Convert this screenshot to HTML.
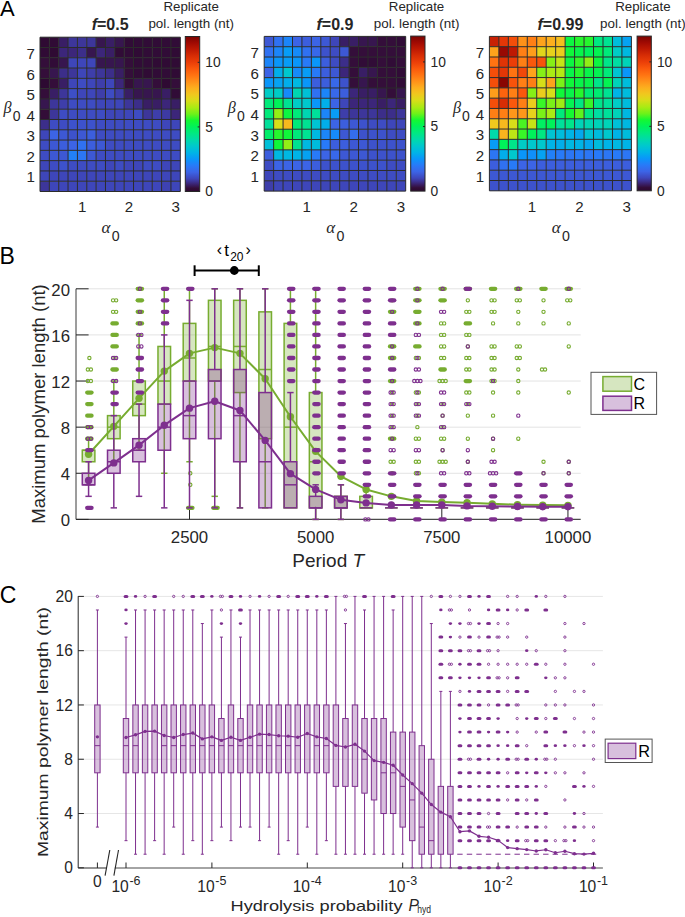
<!DOCTYPE html><html><head><meta charset="utf-8"><style>html,body{margin:0;padding:0;background:#fff;overflow:hidden}svg{display:block}</style></head><body>
<svg width="685" height="917" viewBox="0 0 685 917">
<rect x="0" y="0" width="685" height="917" fill="#fff"/>
<text x="0.00" y="15.80" font-family='"Liberation Sans", sans-serif' font-size="22" text-anchor="start" fill="#000" font-weight="normal" font-style="normal" >A</text>
<g>
<rect x="40.00" y="37.20" width="9.40" height="10.34" fill="#2f0a33"/>
<rect x="49.35" y="37.20" width="9.40" height="10.34" fill="#300b35"/>
<rect x="58.71" y="37.20" width="9.40" height="10.34" fill="#391e65"/>
<rect x="68.06" y="37.20" width="9.40" height="10.34" fill="#3d369a"/>
<rect x="77.41" y="37.20" width="9.40" height="10.34" fill="#3d369a"/>
<rect x="86.77" y="37.20" width="9.40" height="10.34" fill="#3d369a"/>
<rect x="96.12" y="37.20" width="9.40" height="10.34" fill="#37164f"/>
<rect x="105.47" y="37.20" width="9.40" height="10.34" fill="#391e65"/>
<rect x="114.83" y="37.20" width="9.40" height="10.34" fill="#37164f"/>
<rect x="124.18" y="37.20" width="9.40" height="10.34" fill="#310c37"/>
<rect x="133.53" y="37.20" width="9.40" height="10.34" fill="#310c37"/>
<rect x="142.89" y="37.20" width="9.40" height="10.34" fill="#310c37"/>
<rect x="152.24" y="37.20" width="9.40" height="10.34" fill="#310c37"/>
<rect x="161.59" y="37.20" width="9.40" height="10.34" fill="#310c37"/>
<rect x="170.95" y="37.20" width="9.40" height="10.34" fill="#310c37"/>
<rect x="40.00" y="47.49" width="9.40" height="10.34" fill="#300b35"/>
<rect x="49.35" y="47.49" width="9.40" height="10.34" fill="#2f0a33"/>
<rect x="58.71" y="47.49" width="9.40" height="10.34" fill="#3c267a"/>
<rect x="68.06" y="47.49" width="9.40" height="10.34" fill="#3c267a"/>
<rect x="77.41" y="47.49" width="9.40" height="10.34" fill="#3c2e8a"/>
<rect x="86.77" y="47.49" width="9.40" height="10.34" fill="#37164f"/>
<rect x="96.12" y="47.49" width="9.40" height="10.34" fill="#3c267a"/>
<rect x="105.47" y="47.49" width="9.40" height="10.34" fill="#391e65"/>
<rect x="114.83" y="47.49" width="9.40" height="10.34" fill="#310c37"/>
<rect x="124.18" y="47.49" width="9.40" height="10.34" fill="#310c37"/>
<rect x="133.53" y="47.49" width="9.40" height="10.34" fill="#300b35"/>
<rect x="142.89" y="47.49" width="9.40" height="10.34" fill="#310c37"/>
<rect x="152.24" y="47.49" width="9.40" height="10.34" fill="#310c37"/>
<rect x="161.59" y="47.49" width="9.40" height="10.34" fill="#310c37"/>
<rect x="170.95" y="47.49" width="9.40" height="10.34" fill="#300b35"/>
<rect x="40.00" y="57.77" width="9.40" height="10.34" fill="#340e3a"/>
<rect x="49.35" y="57.77" width="9.40" height="10.34" fill="#310c37"/>
<rect x="58.71" y="57.77" width="9.40" height="10.34" fill="#37164f"/>
<rect x="68.06" y="57.77" width="9.40" height="10.34" fill="#3e46ba"/>
<rect x="77.41" y="57.77" width="9.40" height="10.34" fill="#3e46ba"/>
<rect x="86.77" y="57.77" width="9.40" height="10.34" fill="#3e46ba"/>
<rect x="96.12" y="57.77" width="9.40" height="10.34" fill="#37164f"/>
<rect x="105.47" y="57.77" width="9.40" height="10.34" fill="#37164f"/>
<rect x="114.83" y="57.77" width="9.40" height="10.34" fill="#37164f"/>
<rect x="124.18" y="57.77" width="9.40" height="10.34" fill="#340e3a"/>
<rect x="133.53" y="57.77" width="9.40" height="10.34" fill="#310c37"/>
<rect x="142.89" y="57.77" width="9.40" height="10.34" fill="#310c37"/>
<rect x="152.24" y="57.77" width="9.40" height="10.34" fill="#300b35"/>
<rect x="161.59" y="57.77" width="9.40" height="10.34" fill="#300b35"/>
<rect x="170.95" y="57.77" width="9.40" height="10.34" fill="#300b35"/>
<rect x="40.00" y="68.06" width="9.40" height="10.34" fill="#340e3a"/>
<rect x="49.35" y="68.06" width="9.40" height="10.34" fill="#37164f"/>
<rect x="58.71" y="68.06" width="9.40" height="10.34" fill="#3c2e8a"/>
<rect x="68.06" y="68.06" width="9.40" height="10.34" fill="#3d369a"/>
<rect x="77.41" y="68.06" width="9.40" height="10.34" fill="#3e46ba"/>
<rect x="86.77" y="68.06" width="9.40" height="10.34" fill="#3e3eaa"/>
<rect x="96.12" y="68.06" width="9.40" height="10.34" fill="#3d369a"/>
<rect x="105.47" y="68.06" width="9.40" height="10.34" fill="#3c2e8a"/>
<rect x="114.83" y="68.06" width="9.40" height="10.34" fill="#391e65"/>
<rect x="124.18" y="68.06" width="9.40" height="10.34" fill="#340e3a"/>
<rect x="133.53" y="68.06" width="9.40" height="10.34" fill="#310c37"/>
<rect x="142.89" y="68.06" width="9.40" height="10.34" fill="#300b35"/>
<rect x="152.24" y="68.06" width="9.40" height="10.34" fill="#310c37"/>
<rect x="161.59" y="68.06" width="9.40" height="10.34" fill="#310c37"/>
<rect x="170.95" y="68.06" width="9.40" height="10.34" fill="#300b35"/>
<rect x="40.00" y="78.35" width="9.40" height="10.34" fill="#2d0932"/>
<rect x="49.35" y="78.35" width="9.40" height="10.34" fill="#340e3a"/>
<rect x="58.71" y="78.35" width="9.40" height="10.34" fill="#391e65"/>
<rect x="68.06" y="78.35" width="9.40" height="10.34" fill="#3e46ba"/>
<rect x="77.41" y="78.35" width="9.40" height="10.34" fill="#3e4cc3"/>
<rect x="86.77" y="78.35" width="9.40" height="10.34" fill="#3e46ba"/>
<rect x="96.12" y="78.35" width="9.40" height="10.34" fill="#3e3eaa"/>
<rect x="105.47" y="78.35" width="9.40" height="10.34" fill="#3e46ba"/>
<rect x="114.83" y="78.35" width="9.40" height="10.34" fill="#3c267a"/>
<rect x="124.18" y="78.35" width="9.40" height="10.34" fill="#340e3a"/>
<rect x="133.53" y="78.35" width="9.40" height="10.34" fill="#37164f"/>
<rect x="142.89" y="78.35" width="9.40" height="10.34" fill="#37164f"/>
<rect x="152.24" y="78.35" width="9.40" height="10.34" fill="#340e3a"/>
<rect x="161.59" y="78.35" width="9.40" height="10.34" fill="#2f0a33"/>
<rect x="170.95" y="78.35" width="9.40" height="10.34" fill="#340e3a"/>
<rect x="40.00" y="88.63" width="9.40" height="10.34" fill="#340e3a"/>
<rect x="49.35" y="88.63" width="9.40" height="10.34" fill="#391e65"/>
<rect x="58.71" y="88.63" width="9.40" height="10.34" fill="#3d369a"/>
<rect x="68.06" y="88.63" width="9.40" height="10.34" fill="#3d4fc7"/>
<rect x="77.41" y="88.63" width="9.40" height="10.34" fill="#3e46ba"/>
<rect x="86.77" y="88.63" width="9.40" height="10.34" fill="#3e46ba"/>
<rect x="96.12" y="88.63" width="9.40" height="10.34" fill="#3e3eaa"/>
<rect x="105.47" y="88.63" width="9.40" height="10.34" fill="#3e4cc3"/>
<rect x="114.83" y="88.63" width="9.40" height="10.34" fill="#3e3eaa"/>
<rect x="124.18" y="88.63" width="9.40" height="10.34" fill="#391e65"/>
<rect x="133.53" y="88.63" width="9.40" height="10.34" fill="#37164f"/>
<rect x="142.89" y="88.63" width="9.40" height="10.34" fill="#37164f"/>
<rect x="152.24" y="88.63" width="9.40" height="10.34" fill="#37164f"/>
<rect x="161.59" y="88.63" width="9.40" height="10.34" fill="#391e65"/>
<rect x="170.95" y="88.63" width="9.40" height="10.34" fill="#310c37"/>
<rect x="40.00" y="98.92" width="9.40" height="10.34" fill="#37164f"/>
<rect x="49.35" y="98.92" width="9.40" height="10.34" fill="#3d369a"/>
<rect x="58.71" y="98.92" width="9.40" height="10.34" fill="#3e3eaa"/>
<rect x="68.06" y="98.92" width="9.40" height="10.34" fill="#3e4cc3"/>
<rect x="77.41" y="98.92" width="9.40" height="10.34" fill="#3e4cc3"/>
<rect x="86.77" y="98.92" width="9.40" height="10.34" fill="#3e4cc3"/>
<rect x="96.12" y="98.92" width="9.40" height="10.34" fill="#3e46ba"/>
<rect x="105.47" y="98.92" width="9.40" height="10.34" fill="#3e46ba"/>
<rect x="114.83" y="98.92" width="9.40" height="10.34" fill="#3e46ba"/>
<rect x="124.18" y="98.92" width="9.40" height="10.34" fill="#3d369a"/>
<rect x="133.53" y="98.92" width="9.40" height="10.34" fill="#3c2e8a"/>
<rect x="142.89" y="98.92" width="9.40" height="10.34" fill="#391e65"/>
<rect x="152.24" y="98.92" width="9.40" height="10.34" fill="#391e65"/>
<rect x="161.59" y="98.92" width="9.40" height="10.34" fill="#3c267a"/>
<rect x="170.95" y="98.92" width="9.40" height="10.34" fill="#391e65"/>
<rect x="40.00" y="109.21" width="9.40" height="10.34" fill="#330d38"/>
<rect x="49.35" y="109.21" width="9.40" height="10.34" fill="#3d369a"/>
<rect x="58.71" y="109.21" width="9.40" height="10.34" fill="#3e4cc3"/>
<rect x="68.06" y="109.21" width="9.40" height="10.34" fill="#3e4cc3"/>
<rect x="77.41" y="109.21" width="9.40" height="10.34" fill="#3e4cc3"/>
<rect x="86.77" y="109.21" width="9.40" height="10.34" fill="#3e4cc3"/>
<rect x="96.12" y="109.21" width="9.40" height="10.34" fill="#3e4cc3"/>
<rect x="105.47" y="109.21" width="9.40" height="10.34" fill="#3e46ba"/>
<rect x="114.83" y="109.21" width="9.40" height="10.34" fill="#3e46ba"/>
<rect x="124.18" y="109.21" width="9.40" height="10.34" fill="#3e46ba"/>
<rect x="133.53" y="109.21" width="9.40" height="10.34" fill="#3e4cc3"/>
<rect x="142.89" y="109.21" width="9.40" height="10.34" fill="#3d369a"/>
<rect x="152.24" y="109.21" width="9.40" height="10.34" fill="#3e3eaa"/>
<rect x="161.59" y="109.21" width="9.40" height="10.34" fill="#3d3aa2"/>
<rect x="170.95" y="109.21" width="9.40" height="10.34" fill="#3c267a"/>
<rect x="40.00" y="119.49" width="9.40" height="10.34" fill="#3c2e8a"/>
<rect x="49.35" y="119.49" width="9.40" height="10.34" fill="#3e4cc3"/>
<rect x="58.71" y="119.49" width="9.40" height="10.34" fill="#3e4cc3"/>
<rect x="68.06" y="119.49" width="9.40" height="10.34" fill="#3d52cc"/>
<rect x="77.41" y="119.49" width="9.40" height="10.34" fill="#3d52cc"/>
<rect x="86.77" y="119.49" width="9.40" height="10.34" fill="#3d52cc"/>
<rect x="96.12" y="119.49" width="9.40" height="10.34" fill="#3e4cc3"/>
<rect x="105.47" y="119.49" width="9.40" height="10.34" fill="#3e4cc3"/>
<rect x="114.83" y="119.49" width="9.40" height="10.34" fill="#3e4cc3"/>
<rect x="124.18" y="119.49" width="9.40" height="10.34" fill="#3e4cc3"/>
<rect x="133.53" y="119.49" width="9.40" height="10.34" fill="#3e4cc3"/>
<rect x="142.89" y="119.49" width="9.40" height="10.34" fill="#3e4cc3"/>
<rect x="152.24" y="119.49" width="9.40" height="10.34" fill="#3e4cc3"/>
<rect x="161.59" y="119.49" width="9.40" height="10.34" fill="#3e46ba"/>
<rect x="170.95" y="119.49" width="9.40" height="10.34" fill="#3e46ba"/>
<rect x="40.00" y="129.78" width="9.40" height="10.34" fill="#3e46ba"/>
<rect x="49.35" y="129.78" width="9.40" height="10.34" fill="#3c64e6"/>
<rect x="58.71" y="129.78" width="9.40" height="10.34" fill="#3d58d4"/>
<rect x="68.06" y="129.78" width="9.40" height="10.34" fill="#3d52cc"/>
<rect x="77.41" y="129.78" width="9.40" height="10.34" fill="#3d58d4"/>
<rect x="86.77" y="129.78" width="9.40" height="10.34" fill="#3c5edd"/>
<rect x="96.12" y="129.78" width="9.40" height="10.34" fill="#3e4cc3"/>
<rect x="105.47" y="129.78" width="9.40" height="10.34" fill="#3e4cc3"/>
<rect x="114.83" y="129.78" width="9.40" height="10.34" fill="#3e4cc3"/>
<rect x="124.18" y="129.78" width="9.40" height="10.34" fill="#3e4cc3"/>
<rect x="133.53" y="129.78" width="9.40" height="10.34" fill="#3e4cc3"/>
<rect x="142.89" y="129.78" width="9.40" height="10.34" fill="#3e4cc3"/>
<rect x="152.24" y="129.78" width="9.40" height="10.34" fill="#3e4cc3"/>
<rect x="161.59" y="129.78" width="9.40" height="10.34" fill="#3e4cc3"/>
<rect x="170.95" y="129.78" width="9.40" height="10.34" fill="#3e4cc3"/>
<rect x="40.00" y="140.07" width="9.40" height="10.34" fill="#3e4cc3"/>
<rect x="49.35" y="140.07" width="9.40" height="10.34" fill="#3d58d4"/>
<rect x="58.71" y="140.07" width="9.40" height="10.34" fill="#3c5edd"/>
<rect x="68.06" y="140.07" width="9.40" height="10.34" fill="#3c64e6"/>
<rect x="77.41" y="140.07" width="9.40" height="10.34" fill="#3071f1"/>
<rect x="86.77" y="140.07" width="9.40" height="10.34" fill="#3c5edd"/>
<rect x="96.12" y="140.07" width="9.40" height="10.34" fill="#3d58d4"/>
<rect x="105.47" y="140.07" width="9.40" height="10.34" fill="#3e4cc3"/>
<rect x="114.83" y="140.07" width="9.40" height="10.34" fill="#3e4cc3"/>
<rect x="124.18" y="140.07" width="9.40" height="10.34" fill="#3e4cc3"/>
<rect x="133.53" y="140.07" width="9.40" height="10.34" fill="#3e4cc3"/>
<rect x="142.89" y="140.07" width="9.40" height="10.34" fill="#3e4cc3"/>
<rect x="152.24" y="140.07" width="9.40" height="10.34" fill="#3e4cc3"/>
<rect x="161.59" y="140.07" width="9.40" height="10.34" fill="#3e4cc3"/>
<rect x="170.95" y="140.07" width="9.40" height="10.34" fill="#3e4cc3"/>
<rect x="40.00" y="150.35" width="9.40" height="10.34" fill="#3e4cc3"/>
<rect x="49.35" y="150.35" width="9.40" height="10.34" fill="#3d58d4"/>
<rect x="58.71" y="150.35" width="9.40" height="10.34" fill="#3d58d4"/>
<rect x="68.06" y="150.35" width="9.40" height="10.34" fill="#2280f8"/>
<rect x="77.41" y="150.35" width="9.40" height="10.34" fill="#2c76f4"/>
<rect x="86.77" y="150.35" width="9.40" height="10.34" fill="#3d58d4"/>
<rect x="96.12" y="150.35" width="9.40" height="10.34" fill="#3e4cc3"/>
<rect x="105.47" y="150.35" width="9.40" height="10.34" fill="#3e4cc3"/>
<rect x="114.83" y="150.35" width="9.40" height="10.34" fill="#3e4cc3"/>
<rect x="124.18" y="150.35" width="9.40" height="10.34" fill="#3e4cc3"/>
<rect x="133.53" y="150.35" width="9.40" height="10.34" fill="#3e4cc3"/>
<rect x="142.89" y="150.35" width="9.40" height="10.34" fill="#3e4cc3"/>
<rect x="152.24" y="150.35" width="9.40" height="10.34" fill="#3e4cc3"/>
<rect x="161.59" y="150.35" width="9.40" height="10.34" fill="#3e4cc3"/>
<rect x="170.95" y="150.35" width="9.40" height="10.34" fill="#3e4cc3"/>
<rect x="40.00" y="160.64" width="9.40" height="10.34" fill="#3e46ba"/>
<rect x="49.35" y="160.64" width="9.40" height="10.34" fill="#3e4cc3"/>
<rect x="58.71" y="160.64" width="9.40" height="10.34" fill="#3d52cc"/>
<rect x="68.06" y="160.64" width="9.40" height="10.34" fill="#3e4cc3"/>
<rect x="77.41" y="160.64" width="9.40" height="10.34" fill="#3e4cc3"/>
<rect x="86.77" y="160.64" width="9.40" height="10.34" fill="#3e4cc3"/>
<rect x="96.12" y="160.64" width="9.40" height="10.34" fill="#3e4cc3"/>
<rect x="105.47" y="160.64" width="9.40" height="10.34" fill="#3e46ba"/>
<rect x="114.83" y="160.64" width="9.40" height="10.34" fill="#3e4cc3"/>
<rect x="124.18" y="160.64" width="9.40" height="10.34" fill="#3e46ba"/>
<rect x="133.53" y="160.64" width="9.40" height="10.34" fill="#3e46ba"/>
<rect x="142.89" y="160.64" width="9.40" height="10.34" fill="#3e4cc3"/>
<rect x="152.24" y="160.64" width="9.40" height="10.34" fill="#3e4cc3"/>
<rect x="161.59" y="160.64" width="9.40" height="10.34" fill="#3e46ba"/>
<rect x="170.95" y="160.64" width="9.40" height="10.34" fill="#3e46ba"/>
<rect x="40.00" y="170.93" width="9.40" height="10.34" fill="#3e46ba"/>
<rect x="49.35" y="170.93" width="9.40" height="10.34" fill="#3e46ba"/>
<rect x="58.71" y="170.93" width="9.40" height="10.34" fill="#3e46ba"/>
<rect x="68.06" y="170.93" width="9.40" height="10.34" fill="#3e46ba"/>
<rect x="77.41" y="170.93" width="9.40" height="10.34" fill="#3e46ba"/>
<rect x="86.77" y="170.93" width="9.40" height="10.34" fill="#3e46ba"/>
<rect x="96.12" y="170.93" width="9.40" height="10.34" fill="#3e46ba"/>
<rect x="105.47" y="170.93" width="9.40" height="10.34" fill="#3e46ba"/>
<rect x="114.83" y="170.93" width="9.40" height="10.34" fill="#3e46ba"/>
<rect x="124.18" y="170.93" width="9.40" height="10.34" fill="#3e46ba"/>
<rect x="133.53" y="170.93" width="9.40" height="10.34" fill="#3e46ba"/>
<rect x="142.89" y="170.93" width="9.40" height="10.34" fill="#3e46ba"/>
<rect x="152.24" y="170.93" width="9.40" height="10.34" fill="#3e46ba"/>
<rect x="161.59" y="170.93" width="9.40" height="10.34" fill="#3e46ba"/>
<rect x="170.95" y="170.93" width="9.40" height="10.34" fill="#3e46ba"/>
<rect x="40.00" y="181.21" width="9.40" height="10.34" fill="#3d369a"/>
<rect x="49.35" y="181.21" width="9.40" height="10.34" fill="#3e46ba"/>
<rect x="58.71" y="181.21" width="9.40" height="10.34" fill="#3e46ba"/>
<rect x="68.06" y="181.21" width="9.40" height="10.34" fill="#3e46ba"/>
<rect x="77.41" y="181.21" width="9.40" height="10.34" fill="#3e46ba"/>
<rect x="86.77" y="181.21" width="9.40" height="10.34" fill="#3e46ba"/>
<rect x="96.12" y="181.21" width="9.40" height="10.34" fill="#3e46ba"/>
<rect x="105.47" y="181.21" width="9.40" height="10.34" fill="#3e46ba"/>
<rect x="114.83" y="181.21" width="9.40" height="10.34" fill="#3e46ba"/>
<rect x="124.18" y="181.21" width="9.40" height="10.34" fill="#3e46ba"/>
<rect x="133.53" y="181.21" width="9.40" height="10.34" fill="#3e46ba"/>
<rect x="142.89" y="181.21" width="9.40" height="10.34" fill="#3e46ba"/>
<rect x="152.24" y="181.21" width="9.40" height="10.34" fill="#3e46ba"/>
<rect x="161.59" y="181.21" width="9.40" height="10.34" fill="#3e42b2"/>
<rect x="170.95" y="181.21" width="9.40" height="10.34" fill="#3e46ba"/>
<line x1="40.00" y1="37.20" x2="40.00" y2="191.50" stroke="#2b2b2b" stroke-width="1"/>
<line x1="49.35" y1="37.20" x2="49.35" y2="191.50" stroke="#2b2b2b" stroke-width="1"/>
<line x1="58.71" y1="37.20" x2="58.71" y2="191.50" stroke="#2b2b2b" stroke-width="1"/>
<line x1="68.06" y1="37.20" x2="68.06" y2="191.50" stroke="#2b2b2b" stroke-width="1"/>
<line x1="77.41" y1="37.20" x2="77.41" y2="191.50" stroke="#2b2b2b" stroke-width="1"/>
<line x1="86.77" y1="37.20" x2="86.77" y2="191.50" stroke="#2b2b2b" stroke-width="1"/>
<line x1="96.12" y1="37.20" x2="96.12" y2="191.50" stroke="#2b2b2b" stroke-width="1"/>
<line x1="105.47" y1="37.20" x2="105.47" y2="191.50" stroke="#2b2b2b" stroke-width="1"/>
<line x1="114.83" y1="37.20" x2="114.83" y2="191.50" stroke="#2b2b2b" stroke-width="1"/>
<line x1="124.18" y1="37.20" x2="124.18" y2="191.50" stroke="#2b2b2b" stroke-width="1"/>
<line x1="133.53" y1="37.20" x2="133.53" y2="191.50" stroke="#2b2b2b" stroke-width="1"/>
<line x1="142.89" y1="37.20" x2="142.89" y2="191.50" stroke="#2b2b2b" stroke-width="1"/>
<line x1="152.24" y1="37.20" x2="152.24" y2="191.50" stroke="#2b2b2b" stroke-width="1"/>
<line x1="161.59" y1="37.20" x2="161.59" y2="191.50" stroke="#2b2b2b" stroke-width="1"/>
<line x1="170.95" y1="37.20" x2="170.95" y2="191.50" stroke="#2b2b2b" stroke-width="1"/>
<line x1="180.30" y1="37.20" x2="180.30" y2="191.50" stroke="#2b2b2b" stroke-width="1"/>
<line x1="40.00" y1="37.20" x2="180.30" y2="37.20" stroke="#2b2b2b" stroke-width="1"/>
<line x1="40.00" y1="47.49" x2="180.30" y2="47.49" stroke="#2b2b2b" stroke-width="1"/>
<line x1="40.00" y1="57.77" x2="180.30" y2="57.77" stroke="#2b2b2b" stroke-width="1"/>
<line x1="40.00" y1="68.06" x2="180.30" y2="68.06" stroke="#2b2b2b" stroke-width="1"/>
<line x1="40.00" y1="78.35" x2="180.30" y2="78.35" stroke="#2b2b2b" stroke-width="1"/>
<line x1="40.00" y1="88.63" x2="180.30" y2="88.63" stroke="#2b2b2b" stroke-width="1"/>
<line x1="40.00" y1="98.92" x2="180.30" y2="98.92" stroke="#2b2b2b" stroke-width="1"/>
<line x1="40.00" y1="109.21" x2="180.30" y2="109.21" stroke="#2b2b2b" stroke-width="1"/>
<line x1="40.00" y1="119.49" x2="180.30" y2="119.49" stroke="#2b2b2b" stroke-width="1"/>
<line x1="40.00" y1="129.78" x2="180.30" y2="129.78" stroke="#2b2b2b" stroke-width="1"/>
<line x1="40.00" y1="140.07" x2="180.30" y2="140.07" stroke="#2b2b2b" stroke-width="1"/>
<line x1="40.00" y1="150.35" x2="180.30" y2="150.35" stroke="#2b2b2b" stroke-width="1"/>
<line x1="40.00" y1="160.64" x2="180.30" y2="160.64" stroke="#2b2b2b" stroke-width="1"/>
<line x1="40.00" y1="170.93" x2="180.30" y2="170.93" stroke="#2b2b2b" stroke-width="1"/>
<line x1="40.00" y1="181.21" x2="180.30" y2="181.21" stroke="#2b2b2b" stroke-width="1"/>
<line x1="40.00" y1="191.50" x2="180.30" y2="191.50" stroke="#2b2b2b" stroke-width="1"/>
</g>
<defs><linearGradient id="cb0" x1="0" y1="1" x2="0" y2="0">
<stop offset="0.0000" stop-color="#2c0830"/>
<stop offset="0.0208" stop-color="#330d38"/>
<stop offset="0.0417" stop-color="#391e65"/>
<stop offset="0.0625" stop-color="#3d3292"/>
<stop offset="0.0833" stop-color="#3e46ba"/>
<stop offset="0.1042" stop-color="#3d55d0"/>
<stop offset="0.1250" stop-color="#3c64e6"/>
<stop offset="0.1458" stop-color="#326fef"/>
<stop offset="0.1667" stop-color="#287af8"/>
<stop offset="0.1875" stop-color="#1988f9"/>
<stop offset="0.2083" stop-color="#0a96fa"/>
<stop offset="0.2292" stop-color="#05a5f0"/>
<stop offset="0.2500" stop-color="#00b4e6"/>
<stop offset="0.2708" stop-color="#00beda"/>
<stop offset="0.2917" stop-color="#00c8cd"/>
<stop offset="0.3125" stop-color="#00d1bc"/>
<stop offset="0.3333" stop-color="#00daaa"/>
<stop offset="0.3542" stop-color="#00e196"/>
<stop offset="0.3750" stop-color="#00e882"/>
<stop offset="0.3958" stop-color="#00ed6e"/>
<stop offset="0.4167" stop-color="#00f25a"/>
<stop offset="0.4375" stop-color="#0af546"/>
<stop offset="0.4583" stop-color="#14f832"/>
<stop offset="0.4792" stop-color="#41f526"/>
<stop offset="0.5000" stop-color="#6ef219"/>
<stop offset="0.5208" stop-color="#8cee16"/>
<stop offset="0.5417" stop-color="#aaeb14"/>
<stop offset="0.5625" stop-color="#c0e416"/>
<stop offset="0.5833" stop-color="#d7de19"/>
<stop offset="0.6042" stop-color="#e4d31c"/>
<stop offset="0.6250" stop-color="#f0c81e"/>
<stop offset="0.6458" stop-color="#f6bc1e"/>
<stop offset="0.6667" stop-color="#fcaf1e"/>
<stop offset="0.6875" stop-color="#fea01c"/>
<stop offset="0.7083" stop-color="#ff9119"/>
<stop offset="0.7292" stop-color="#ff8216"/>
<stop offset="0.7500" stop-color="#ff7312"/>
<stop offset="0.7708" stop-color="#fc660f"/>
<stop offset="0.7917" stop-color="#fa580c"/>
<stop offset="0.8125" stop-color="#f24b0a"/>
<stop offset="0.8333" stop-color="#eb3e08"/>
<stop offset="0.8542" stop-color="#e13606"/>
<stop offset="0.8750" stop-color="#d72d05"/>
<stop offset="0.8958" stop-color="#ca2304"/>
<stop offset="0.9167" stop-color="#be1903"/>
<stop offset="0.9375" stop-color="#af1203"/>
<stop offset="0.9583" stop-color="#a00a03"/>
<stop offset="0.9792" stop-color="#8d0702"/>
<stop offset="1.0000" stop-color="#7a0402"/>
</linearGradient></defs>
<rect x="185.30" y="36.50" width="14.40" height="155.00" fill="url(#cb0)" stroke="#262626" stroke-width="1"/>
<text x="205.30" y="196.40" font-family='"Liberation Sans", sans-serif' font-size="13.8" text-anchor="start" fill="#262626" font-weight="normal" font-style="normal" >0</text>
<line x1="197.70" y1="126.92" x2="199.70" y2="126.92" stroke="#262626" stroke-width="1"/>
<text x="205.30" y="131.82" font-family='"Liberation Sans", sans-serif' font-size="13.8" text-anchor="start" fill="#262626" font-weight="normal" font-style="normal" >5</text>
<line x1="197.70" y1="62.33" x2="199.70" y2="62.33" stroke="#262626" stroke-width="1"/>
<text x="205.30" y="67.23" font-family='"Liberation Sans", sans-serif' font-size="13.8" text-anchor="start" fill="#262626" font-weight="normal" font-style="normal" >10</text>
<text x="191.20" y="11.00" font-family='"Liberation Sans", sans-serif' font-size="13.3" text-anchor="middle" fill="#262626" font-weight="normal" font-style="normal" >Replicate</text>
<text x="191.20" y="27.70" font-family='"Liberation Sans", sans-serif' font-size="13.4" text-anchor="middle" fill="#262626" font-weight="normal" font-style="normal" >pol. length (nt)</text>
<text x="110.15" y="29.6" font-family='"Liberation Sans", sans-serif' font-size="16" font-weight="bold" text-anchor="middle" fill="#262626"><tspan font-style="italic">f</tspan>=0.5</text>
<text x="34.80" y="182.37" font-family='"Liberation Sans", sans-serif' font-size="15.1" text-anchor="end" fill="#262626" font-weight="normal" font-style="normal" >1</text>
<text x="34.80" y="161.80" font-family='"Liberation Sans", sans-serif' font-size="15.1" text-anchor="end" fill="#262626" font-weight="normal" font-style="normal" >2</text>
<text x="34.80" y="141.22" font-family='"Liberation Sans", sans-serif' font-size="15.1" text-anchor="end" fill="#262626" font-weight="normal" font-style="normal" >3</text>
<text x="34.80" y="120.65" font-family='"Liberation Sans", sans-serif' font-size="15.1" text-anchor="end" fill="#262626" font-weight="normal" font-style="normal" >4</text>
<text x="34.80" y="100.08" font-family='"Liberation Sans", sans-serif' font-size="15.1" text-anchor="end" fill="#262626" font-weight="normal" font-style="normal" >5</text>
<text x="34.80" y="79.50" font-family='"Liberation Sans", sans-serif' font-size="15.1" text-anchor="end" fill="#262626" font-weight="normal" font-style="normal" >6</text>
<text x="34.80" y="58.93" font-family='"Liberation Sans", sans-serif' font-size="15.1" text-anchor="end" fill="#262626" font-weight="normal" font-style="normal" >7</text>
<text x="82.09" y="212.00" font-family='"Liberation Sans", sans-serif' font-size="15.1" text-anchor="middle" fill="#262626" font-weight="normal" font-style="normal" >1</text>
<text x="128.86" y="212.00" font-family='"Liberation Sans", sans-serif' font-size="15.1" text-anchor="middle" fill="#262626" font-weight="normal" font-style="normal" >2</text>
<text x="175.62" y="212.00" font-family='"Liberation Sans", sans-serif' font-size="15.1" text-anchor="middle" fill="#262626" font-weight="normal" font-style="normal" >3</text>
<text x="3.60" y="113.2" font-family='"Liberation Serif", serif' font-size="16.2" font-style="italic" fill="#262626">&#946;</text>
<text x="12.70" y="121.00" font-family='"Liberation Sans", sans-serif' font-size="14.0" text-anchor="start" fill="#262626" font-weight="normal" font-style="normal" >0</text>
<text x="101.55" y="233.0" font-family='"Liberation Serif", serif' font-size="17" font-style="italic" fill="#262626">&#945;</text>
<text x="111.75" y="240.80" font-family='"Liberation Sans", sans-serif' font-size="14.2" text-anchor="start" fill="#262626" font-weight="normal" font-style="normal" >0</text>
<g>
<rect x="264.20" y="36.40" width="9.48" height="10.36" fill="#3d58d4"/>
<rect x="273.63" y="36.40" width="9.48" height="10.36" fill="#3071f1"/>
<rect x="283.07" y="36.40" width="9.48" height="10.36" fill="#1c85f9"/>
<rect x="292.50" y="36.40" width="9.48" height="10.36" fill="#3c64e6"/>
<rect x="301.93" y="36.40" width="9.48" height="10.36" fill="#3c5edd"/>
<rect x="311.37" y="36.40" width="9.48" height="10.36" fill="#3c64e6"/>
<rect x="320.80" y="36.40" width="9.48" height="10.36" fill="#3d58d4"/>
<rect x="330.23" y="36.40" width="9.48" height="10.36" fill="#3e46ba"/>
<rect x="339.67" y="36.40" width="9.48" height="10.36" fill="#391e65"/>
<rect x="349.10" y="36.40" width="9.48" height="10.36" fill="#391e65"/>
<rect x="358.53" y="36.40" width="9.48" height="10.36" fill="#37164f"/>
<rect x="367.97" y="36.40" width="9.48" height="10.36" fill="#37164f"/>
<rect x="377.40" y="36.40" width="9.48" height="10.36" fill="#340e3a"/>
<rect x="386.83" y="36.40" width="9.48" height="10.36" fill="#340e3a"/>
<rect x="396.27" y="36.40" width="9.48" height="10.36" fill="#310c37"/>
<rect x="264.20" y="46.71" width="9.48" height="10.36" fill="#3071f1"/>
<rect x="273.63" y="46.71" width="9.48" height="10.36" fill="#1c85f9"/>
<rect x="283.07" y="46.71" width="9.48" height="10.36" fill="#089cf6"/>
<rect x="292.50" y="46.71" width="9.48" height="10.36" fill="#168bf9"/>
<rect x="301.93" y="46.71" width="9.48" height="10.36" fill="#3071f1"/>
<rect x="311.37" y="46.71" width="9.48" height="10.36" fill="#3868ea"/>
<rect x="320.80" y="46.71" width="9.48" height="10.36" fill="#3d52cc"/>
<rect x="330.23" y="46.71" width="9.48" height="10.36" fill="#3e4cc3"/>
<rect x="339.67" y="46.71" width="9.48" height="10.36" fill="#3d58d4"/>
<rect x="349.10" y="46.71" width="9.48" height="10.36" fill="#340e3a"/>
<rect x="358.53" y="46.71" width="9.48" height="10.36" fill="#340e3a"/>
<rect x="367.97" y="46.71" width="9.48" height="10.36" fill="#340e3a"/>
<rect x="377.40" y="46.71" width="9.48" height="10.36" fill="#340e3a"/>
<rect x="386.83" y="46.71" width="9.48" height="10.36" fill="#340e3a"/>
<rect x="396.27" y="46.71" width="9.48" height="10.36" fill="#340e3a"/>
<rect x="264.20" y="57.03" width="9.48" height="10.36" fill="#1c85f9"/>
<rect x="273.63" y="57.03" width="9.48" height="10.36" fill="#0a96fa"/>
<rect x="283.07" y="57.03" width="9.48" height="10.36" fill="#089cf6"/>
<rect x="292.50" y="57.03" width="9.48" height="10.36" fill="#0a96fa"/>
<rect x="301.93" y="57.03" width="9.48" height="10.36" fill="#287af8"/>
<rect x="311.37" y="57.03" width="9.48" height="10.36" fill="#0a96fa"/>
<rect x="320.80" y="57.03" width="9.48" height="10.36" fill="#3c5edd"/>
<rect x="330.23" y="57.03" width="9.48" height="10.36" fill="#3e4cc3"/>
<rect x="339.67" y="57.03" width="9.48" height="10.36" fill="#3c2e8a"/>
<rect x="349.10" y="57.03" width="9.48" height="10.36" fill="#340e3a"/>
<rect x="358.53" y="57.03" width="9.48" height="10.36" fill="#310c37"/>
<rect x="367.97" y="57.03" width="9.48" height="10.36" fill="#310c37"/>
<rect x="377.40" y="57.03" width="9.48" height="10.36" fill="#340e3a"/>
<rect x="386.83" y="57.03" width="9.48" height="10.36" fill="#310c37"/>
<rect x="396.27" y="57.03" width="9.48" height="10.36" fill="#340e3a"/>
<rect x="264.20" y="67.34" width="9.48" height="10.36" fill="#3c64e6"/>
<rect x="273.63" y="67.34" width="9.48" height="10.36" fill="#02aeea"/>
<rect x="283.07" y="67.34" width="9.48" height="10.36" fill="#00c8cd"/>
<rect x="292.50" y="67.34" width="9.48" height="10.36" fill="#168bf9"/>
<rect x="301.93" y="67.34" width="9.48" height="10.36" fill="#089cf6"/>
<rect x="311.37" y="67.34" width="9.48" height="10.36" fill="#287af8"/>
<rect x="320.80" y="67.34" width="9.48" height="10.36" fill="#3c5edd"/>
<rect x="330.23" y="67.34" width="9.48" height="10.36" fill="#3d58d4"/>
<rect x="339.67" y="67.34" width="9.48" height="10.36" fill="#3c267a"/>
<rect x="349.10" y="67.34" width="9.48" height="10.36" fill="#340e3a"/>
<rect x="358.53" y="67.34" width="9.48" height="10.36" fill="#391e65"/>
<rect x="367.97" y="67.34" width="9.48" height="10.36" fill="#37164f"/>
<rect x="377.40" y="67.34" width="9.48" height="10.36" fill="#340e3a"/>
<rect x="386.83" y="67.34" width="9.48" height="10.36" fill="#340e3a"/>
<rect x="396.27" y="67.34" width="9.48" height="10.36" fill="#310c37"/>
<rect x="264.20" y="77.65" width="9.48" height="10.36" fill="#0a96fa"/>
<rect x="273.63" y="77.65" width="9.48" height="10.36" fill="#06a2f2"/>
<rect x="283.07" y="77.65" width="9.48" height="10.36" fill="#02aeea"/>
<rect x="292.50" y="77.65" width="9.48" height="10.36" fill="#00b8e1"/>
<rect x="301.93" y="77.65" width="9.48" height="10.36" fill="#0a96fa"/>
<rect x="311.37" y="77.65" width="9.48" height="10.36" fill="#3c5edd"/>
<rect x="320.80" y="77.65" width="9.48" height="10.36" fill="#3c5edd"/>
<rect x="330.23" y="77.65" width="9.48" height="10.36" fill="#3868ea"/>
<rect x="339.67" y="77.65" width="9.48" height="10.36" fill="#3d52cc"/>
<rect x="349.10" y="77.65" width="9.48" height="10.36" fill="#340e3a"/>
<rect x="358.53" y="77.65" width="9.48" height="10.36" fill="#37164f"/>
<rect x="367.97" y="77.65" width="9.48" height="10.36" fill="#340e3a"/>
<rect x="377.40" y="77.65" width="9.48" height="10.36" fill="#340e3a"/>
<rect x="386.83" y="77.65" width="9.48" height="10.36" fill="#340e3a"/>
<rect x="396.27" y="77.65" width="9.48" height="10.36" fill="#310c37"/>
<rect x="264.20" y="87.97" width="9.48" height="10.36" fill="#00ccc6"/>
<rect x="273.63" y="87.97" width="9.48" height="10.36" fill="#00ccc6"/>
<rect x="283.07" y="87.97" width="9.48" height="10.36" fill="#168bf9"/>
<rect x="292.50" y="87.97" width="9.48" height="10.36" fill="#00d6b1"/>
<rect x="301.93" y="87.97" width="9.48" height="10.36" fill="#00c0d7"/>
<rect x="311.37" y="87.97" width="9.48" height="10.36" fill="#3071f1"/>
<rect x="320.80" y="87.97" width="9.48" height="10.36" fill="#1c85f9"/>
<rect x="330.23" y="87.97" width="9.48" height="10.36" fill="#3868ea"/>
<rect x="339.67" y="87.97" width="9.48" height="10.36" fill="#3c5edd"/>
<rect x="349.10" y="87.97" width="9.48" height="10.36" fill="#3c267a"/>
<rect x="358.53" y="87.97" width="9.48" height="10.36" fill="#391e65"/>
<rect x="367.97" y="87.97" width="9.48" height="10.36" fill="#391e65"/>
<rect x="377.40" y="87.97" width="9.48" height="10.36" fill="#37164f"/>
<rect x="386.83" y="87.97" width="9.48" height="10.36" fill="#340e3a"/>
<rect x="396.27" y="87.97" width="9.48" height="10.36" fill="#37164f"/>
<rect x="264.20" y="98.28" width="9.48" height="10.36" fill="#00ea7a"/>
<rect x="273.63" y="98.28" width="9.48" height="10.36" fill="#00f25a"/>
<rect x="283.07" y="98.28" width="9.48" height="10.36" fill="#00e292"/>
<rect x="292.50" y="98.28" width="9.48" height="10.36" fill="#00ccc6"/>
<rect x="301.93" y="98.28" width="9.48" height="10.36" fill="#00c8cd"/>
<rect x="311.37" y="98.28" width="9.48" height="10.36" fill="#0a96fa"/>
<rect x="320.80" y="98.28" width="9.48" height="10.36" fill="#02aeea"/>
<rect x="330.23" y="98.28" width="9.48" height="10.36" fill="#3c64e6"/>
<rect x="339.67" y="98.28" width="9.48" height="10.36" fill="#3e46ba"/>
<rect x="349.10" y="98.28" width="9.48" height="10.36" fill="#3c267a"/>
<rect x="358.53" y="98.28" width="9.48" height="10.36" fill="#3c267a"/>
<rect x="367.97" y="98.28" width="9.48" height="10.36" fill="#3c267a"/>
<rect x="377.40" y="98.28" width="9.48" height="10.36" fill="#391e65"/>
<rect x="386.83" y="98.28" width="9.48" height="10.36" fill="#3c267a"/>
<rect x="396.27" y="98.28" width="9.48" height="10.36" fill="#391e65"/>
<rect x="264.20" y="108.59" width="9.48" height="10.36" fill="#00ea7a"/>
<rect x="273.63" y="108.59" width="9.48" height="10.36" fill="#92ee16"/>
<rect x="283.07" y="108.59" width="9.48" height="10.36" fill="#0cf642"/>
<rect x="292.50" y="108.59" width="9.48" height="10.36" fill="#00ea7a"/>
<rect x="301.93" y="108.59" width="9.48" height="10.36" fill="#00d6b1"/>
<rect x="311.37" y="108.59" width="9.48" height="10.36" fill="#00e09a"/>
<rect x="320.80" y="108.59" width="9.48" height="10.36" fill="#1c85f9"/>
<rect x="330.23" y="108.59" width="9.48" height="10.36" fill="#089cf6"/>
<rect x="339.67" y="108.59" width="9.48" height="10.36" fill="#3e3eaa"/>
<rect x="349.10" y="108.59" width="9.48" height="10.36" fill="#3d369a"/>
<rect x="358.53" y="108.59" width="9.48" height="10.36" fill="#3d369a"/>
<rect x="367.97" y="108.59" width="9.48" height="10.36" fill="#3d369a"/>
<rect x="377.40" y="108.59" width="9.48" height="10.36" fill="#3c2e8a"/>
<rect x="386.83" y="108.59" width="9.48" height="10.36" fill="#3c2e8a"/>
<rect x="396.27" y="108.59" width="9.48" height="10.36" fill="#3d369a"/>
<rect x="264.20" y="118.91" width="9.48" height="10.36" fill="#00e09a"/>
<rect x="273.63" y="118.91" width="9.48" height="10.36" fill="#d7de19"/>
<rect x="283.07" y="118.91" width="9.48" height="10.36" fill="#f7b91e"/>
<rect x="292.50" y="118.91" width="9.48" height="10.36" fill="#00ea7a"/>
<rect x="301.93" y="118.91" width="9.48" height="10.36" fill="#00e292"/>
<rect x="311.37" y="118.91" width="9.48" height="10.36" fill="#00c4d2"/>
<rect x="320.80" y="118.91" width="9.48" height="10.36" fill="#02aeea"/>
<rect x="330.23" y="118.91" width="9.48" height="10.36" fill="#3c64e6"/>
<rect x="339.67" y="118.91" width="9.48" height="10.36" fill="#3c5edd"/>
<rect x="349.10" y="118.91" width="9.48" height="10.36" fill="#3d58d4"/>
<rect x="358.53" y="118.91" width="9.48" height="10.36" fill="#3d52cc"/>
<rect x="367.97" y="118.91" width="9.48" height="10.36" fill="#3e4cc3"/>
<rect x="377.40" y="118.91" width="9.48" height="10.36" fill="#3e4cc3"/>
<rect x="386.83" y="118.91" width="9.48" height="10.36" fill="#3e46ba"/>
<rect x="396.27" y="118.91" width="9.48" height="10.36" fill="#3e46ba"/>
<rect x="264.20" y="129.22" width="9.48" height="10.36" fill="#00ee6a"/>
<rect x="273.63" y="129.22" width="9.48" height="10.36" fill="#26f72d"/>
<rect x="283.07" y="129.22" width="9.48" height="10.36" fill="#10f73a"/>
<rect x="292.50" y="129.22" width="9.48" height="10.36" fill="#00ea7a"/>
<rect x="301.93" y="129.22" width="9.48" height="10.36" fill="#00e292"/>
<rect x="311.37" y="129.22" width="9.48" height="10.36" fill="#00b8e1"/>
<rect x="320.80" y="129.22" width="9.48" height="10.36" fill="#1c85f9"/>
<rect x="330.23" y="129.22" width="9.48" height="10.36" fill="#168bf9"/>
<rect x="339.67" y="129.22" width="9.48" height="10.36" fill="#3d58d4"/>
<rect x="349.10" y="129.22" width="9.48" height="10.36" fill="#346ded"/>
<rect x="358.53" y="129.22" width="9.48" height="10.36" fill="#3d52cc"/>
<rect x="367.97" y="129.22" width="9.48" height="10.36" fill="#3d52cc"/>
<rect x="377.40" y="129.22" width="9.48" height="10.36" fill="#3d52cc"/>
<rect x="386.83" y="129.22" width="9.48" height="10.36" fill="#3e4cc3"/>
<rect x="396.27" y="129.22" width="9.48" height="10.36" fill="#3e4cc3"/>
<rect x="264.20" y="139.53" width="9.48" height="10.36" fill="#00c0d7"/>
<rect x="273.63" y="139.53" width="9.48" height="10.36" fill="#10f73a"/>
<rect x="283.07" y="139.53" width="9.48" height="10.36" fill="#92ee16"/>
<rect x="292.50" y="139.53" width="9.48" height="10.36" fill="#00e292"/>
<rect x="301.93" y="139.53" width="9.48" height="10.36" fill="#00b8e1"/>
<rect x="311.37" y="139.53" width="9.48" height="10.36" fill="#00bcdc"/>
<rect x="320.80" y="139.53" width="9.48" height="10.36" fill="#287af8"/>
<rect x="330.23" y="139.53" width="9.48" height="10.36" fill="#3c5edd"/>
<rect x="339.67" y="139.53" width="9.48" height="10.36" fill="#3c5edd"/>
<rect x="349.10" y="139.53" width="9.48" height="10.36" fill="#3d58d4"/>
<rect x="358.53" y="139.53" width="9.48" height="10.36" fill="#3d58d4"/>
<rect x="367.97" y="139.53" width="9.48" height="10.36" fill="#3d52cc"/>
<rect x="377.40" y="139.53" width="9.48" height="10.36" fill="#3d52cc"/>
<rect x="386.83" y="139.53" width="9.48" height="10.36" fill="#3d52cc"/>
<rect x="396.27" y="139.53" width="9.48" height="10.36" fill="#3d52cc"/>
<rect x="264.20" y="149.85" width="9.48" height="10.36" fill="#3c5edd"/>
<rect x="273.63" y="149.85" width="9.48" height="10.36" fill="#00b8e1"/>
<rect x="283.07" y="149.85" width="9.48" height="10.36" fill="#00b8e1"/>
<rect x="292.50" y="149.85" width="9.48" height="10.36" fill="#00b4e6"/>
<rect x="301.93" y="149.85" width="9.48" height="10.36" fill="#06a2f2"/>
<rect x="311.37" y="149.85" width="9.48" height="10.36" fill="#287af8"/>
<rect x="320.80" y="149.85" width="9.48" height="10.36" fill="#3c64e6"/>
<rect x="330.23" y="149.85" width="9.48" height="10.36" fill="#3868ea"/>
<rect x="339.67" y="149.85" width="9.48" height="10.36" fill="#3d58d4"/>
<rect x="349.10" y="149.85" width="9.48" height="10.36" fill="#3d58d4"/>
<rect x="358.53" y="149.85" width="9.48" height="10.36" fill="#3d58d4"/>
<rect x="367.97" y="149.85" width="9.48" height="10.36" fill="#3d52cc"/>
<rect x="377.40" y="149.85" width="9.48" height="10.36" fill="#3d52cc"/>
<rect x="386.83" y="149.85" width="9.48" height="10.36" fill="#3d52cc"/>
<rect x="396.27" y="149.85" width="9.48" height="10.36" fill="#3d52cc"/>
<rect x="264.20" y="160.16" width="9.48" height="10.36" fill="#3e4cc3"/>
<rect x="273.63" y="160.16" width="9.48" height="10.36" fill="#3c64e6"/>
<rect x="283.07" y="160.16" width="9.48" height="10.36" fill="#3c64e6"/>
<rect x="292.50" y="160.16" width="9.48" height="10.36" fill="#3c64e6"/>
<rect x="301.93" y="160.16" width="9.48" height="10.36" fill="#3c64e6"/>
<rect x="311.37" y="160.16" width="9.48" height="10.36" fill="#3c5edd"/>
<rect x="320.80" y="160.16" width="9.48" height="10.36" fill="#3d52cc"/>
<rect x="330.23" y="160.16" width="9.48" height="10.36" fill="#3d52cc"/>
<rect x="339.67" y="160.16" width="9.48" height="10.36" fill="#3d52cc"/>
<rect x="349.10" y="160.16" width="9.48" height="10.36" fill="#3d52cc"/>
<rect x="358.53" y="160.16" width="9.48" height="10.36" fill="#3d52cc"/>
<rect x="367.97" y="160.16" width="9.48" height="10.36" fill="#3d52cc"/>
<rect x="377.40" y="160.16" width="9.48" height="10.36" fill="#3d52cc"/>
<rect x="386.83" y="160.16" width="9.48" height="10.36" fill="#3e4cc3"/>
<rect x="396.27" y="160.16" width="9.48" height="10.36" fill="#3e4cc3"/>
<rect x="264.20" y="170.47" width="9.48" height="10.36" fill="#3e46ba"/>
<rect x="273.63" y="170.47" width="9.48" height="10.36" fill="#3e4cc3"/>
<rect x="283.07" y="170.47" width="9.48" height="10.36" fill="#3e4cc3"/>
<rect x="292.50" y="170.47" width="9.48" height="10.36" fill="#3e4cc3"/>
<rect x="301.93" y="170.47" width="9.48" height="10.36" fill="#3e4cc3"/>
<rect x="311.37" y="170.47" width="9.48" height="10.36" fill="#3e4cc3"/>
<rect x="320.80" y="170.47" width="9.48" height="10.36" fill="#3e4cc3"/>
<rect x="330.23" y="170.47" width="9.48" height="10.36" fill="#3e4cc3"/>
<rect x="339.67" y="170.47" width="9.48" height="10.36" fill="#3e4cc3"/>
<rect x="349.10" y="170.47" width="9.48" height="10.36" fill="#3e4cc3"/>
<rect x="358.53" y="170.47" width="9.48" height="10.36" fill="#3e4cc3"/>
<rect x="367.97" y="170.47" width="9.48" height="10.36" fill="#3e4cc3"/>
<rect x="377.40" y="170.47" width="9.48" height="10.36" fill="#3e4cc3"/>
<rect x="386.83" y="170.47" width="9.48" height="10.36" fill="#3e4cc3"/>
<rect x="396.27" y="170.47" width="9.48" height="10.36" fill="#3e4cc3"/>
<rect x="264.20" y="180.79" width="9.48" height="10.36" fill="#3e3eaa"/>
<rect x="273.63" y="180.79" width="9.48" height="10.36" fill="#3e46ba"/>
<rect x="283.07" y="180.79" width="9.48" height="10.36" fill="#3e46ba"/>
<rect x="292.50" y="180.79" width="9.48" height="10.36" fill="#3e46ba"/>
<rect x="301.93" y="180.79" width="9.48" height="10.36" fill="#3e46ba"/>
<rect x="311.37" y="180.79" width="9.48" height="10.36" fill="#3e46ba"/>
<rect x="320.80" y="180.79" width="9.48" height="10.36" fill="#3e46ba"/>
<rect x="330.23" y="180.79" width="9.48" height="10.36" fill="#3e46ba"/>
<rect x="339.67" y="180.79" width="9.48" height="10.36" fill="#3e46ba"/>
<rect x="349.10" y="180.79" width="9.48" height="10.36" fill="#3e46ba"/>
<rect x="358.53" y="180.79" width="9.48" height="10.36" fill="#3e46ba"/>
<rect x="367.97" y="180.79" width="9.48" height="10.36" fill="#3e46ba"/>
<rect x="377.40" y="180.79" width="9.48" height="10.36" fill="#3e46ba"/>
<rect x="386.83" y="180.79" width="9.48" height="10.36" fill="#3e46ba"/>
<rect x="396.27" y="180.79" width="9.48" height="10.36" fill="#3e46ba"/>
<line x1="264.20" y1="36.40" x2="264.20" y2="191.10" stroke="#2b2b2b" stroke-width="1"/>
<line x1="273.63" y1="36.40" x2="273.63" y2="191.10" stroke="#2b2b2b" stroke-width="1"/>
<line x1="283.07" y1="36.40" x2="283.07" y2="191.10" stroke="#2b2b2b" stroke-width="1"/>
<line x1="292.50" y1="36.40" x2="292.50" y2="191.10" stroke="#2b2b2b" stroke-width="1"/>
<line x1="301.93" y1="36.40" x2="301.93" y2="191.10" stroke="#2b2b2b" stroke-width="1"/>
<line x1="311.37" y1="36.40" x2="311.37" y2="191.10" stroke="#2b2b2b" stroke-width="1"/>
<line x1="320.80" y1="36.40" x2="320.80" y2="191.10" stroke="#2b2b2b" stroke-width="1"/>
<line x1="330.23" y1="36.40" x2="330.23" y2="191.10" stroke="#2b2b2b" stroke-width="1"/>
<line x1="339.67" y1="36.40" x2="339.67" y2="191.10" stroke="#2b2b2b" stroke-width="1"/>
<line x1="349.10" y1="36.40" x2="349.10" y2="191.10" stroke="#2b2b2b" stroke-width="1"/>
<line x1="358.53" y1="36.40" x2="358.53" y2="191.10" stroke="#2b2b2b" stroke-width="1"/>
<line x1="367.97" y1="36.40" x2="367.97" y2="191.10" stroke="#2b2b2b" stroke-width="1"/>
<line x1="377.40" y1="36.40" x2="377.40" y2="191.10" stroke="#2b2b2b" stroke-width="1"/>
<line x1="386.83" y1="36.40" x2="386.83" y2="191.10" stroke="#2b2b2b" stroke-width="1"/>
<line x1="396.27" y1="36.40" x2="396.27" y2="191.10" stroke="#2b2b2b" stroke-width="1"/>
<line x1="405.70" y1="36.40" x2="405.70" y2="191.10" stroke="#2b2b2b" stroke-width="1"/>
<line x1="264.20" y1="36.40" x2="405.70" y2="36.40" stroke="#2b2b2b" stroke-width="1"/>
<line x1="264.20" y1="46.71" x2="405.70" y2="46.71" stroke="#2b2b2b" stroke-width="1"/>
<line x1="264.20" y1="57.03" x2="405.70" y2="57.03" stroke="#2b2b2b" stroke-width="1"/>
<line x1="264.20" y1="67.34" x2="405.70" y2="67.34" stroke="#2b2b2b" stroke-width="1"/>
<line x1="264.20" y1="77.65" x2="405.70" y2="77.65" stroke="#2b2b2b" stroke-width="1"/>
<line x1="264.20" y1="87.97" x2="405.70" y2="87.97" stroke="#2b2b2b" stroke-width="1"/>
<line x1="264.20" y1="98.28" x2="405.70" y2="98.28" stroke="#2b2b2b" stroke-width="1"/>
<line x1="264.20" y1="108.59" x2="405.70" y2="108.59" stroke="#2b2b2b" stroke-width="1"/>
<line x1="264.20" y1="118.91" x2="405.70" y2="118.91" stroke="#2b2b2b" stroke-width="1"/>
<line x1="264.20" y1="129.22" x2="405.70" y2="129.22" stroke="#2b2b2b" stroke-width="1"/>
<line x1="264.20" y1="139.53" x2="405.70" y2="139.53" stroke="#2b2b2b" stroke-width="1"/>
<line x1="264.20" y1="149.85" x2="405.70" y2="149.85" stroke="#2b2b2b" stroke-width="1"/>
<line x1="264.20" y1="160.16" x2="405.70" y2="160.16" stroke="#2b2b2b" stroke-width="1"/>
<line x1="264.20" y1="170.47" x2="405.70" y2="170.47" stroke="#2b2b2b" stroke-width="1"/>
<line x1="264.20" y1="180.79" x2="405.70" y2="180.79" stroke="#2b2b2b" stroke-width="1"/>
<line x1="264.20" y1="191.10" x2="405.70" y2="191.10" stroke="#2b2b2b" stroke-width="1"/>
</g>
<defs><linearGradient id="cb1" x1="0" y1="1" x2="0" y2="0">
<stop offset="0.0000" stop-color="#2c0830"/>
<stop offset="0.0208" stop-color="#330d38"/>
<stop offset="0.0417" stop-color="#391e65"/>
<stop offset="0.0625" stop-color="#3d3292"/>
<stop offset="0.0833" stop-color="#3e46ba"/>
<stop offset="0.1042" stop-color="#3d55d0"/>
<stop offset="0.1250" stop-color="#3c64e6"/>
<stop offset="0.1458" stop-color="#326fef"/>
<stop offset="0.1667" stop-color="#287af8"/>
<stop offset="0.1875" stop-color="#1988f9"/>
<stop offset="0.2083" stop-color="#0a96fa"/>
<stop offset="0.2292" stop-color="#05a5f0"/>
<stop offset="0.2500" stop-color="#00b4e6"/>
<stop offset="0.2708" stop-color="#00beda"/>
<stop offset="0.2917" stop-color="#00c8cd"/>
<stop offset="0.3125" stop-color="#00d1bc"/>
<stop offset="0.3333" stop-color="#00daaa"/>
<stop offset="0.3542" stop-color="#00e196"/>
<stop offset="0.3750" stop-color="#00e882"/>
<stop offset="0.3958" stop-color="#00ed6e"/>
<stop offset="0.4167" stop-color="#00f25a"/>
<stop offset="0.4375" stop-color="#0af546"/>
<stop offset="0.4583" stop-color="#14f832"/>
<stop offset="0.4792" stop-color="#41f526"/>
<stop offset="0.5000" stop-color="#6ef219"/>
<stop offset="0.5208" stop-color="#8cee16"/>
<stop offset="0.5417" stop-color="#aaeb14"/>
<stop offset="0.5625" stop-color="#c0e416"/>
<stop offset="0.5833" stop-color="#d7de19"/>
<stop offset="0.6042" stop-color="#e4d31c"/>
<stop offset="0.6250" stop-color="#f0c81e"/>
<stop offset="0.6458" stop-color="#f6bc1e"/>
<stop offset="0.6667" stop-color="#fcaf1e"/>
<stop offset="0.6875" stop-color="#fea01c"/>
<stop offset="0.7083" stop-color="#ff9119"/>
<stop offset="0.7292" stop-color="#ff8216"/>
<stop offset="0.7500" stop-color="#ff7312"/>
<stop offset="0.7708" stop-color="#fc660f"/>
<stop offset="0.7917" stop-color="#fa580c"/>
<stop offset="0.8125" stop-color="#f24b0a"/>
<stop offset="0.8333" stop-color="#eb3e08"/>
<stop offset="0.8542" stop-color="#e13606"/>
<stop offset="0.8750" stop-color="#d72d05"/>
<stop offset="0.8958" stop-color="#ca2304"/>
<stop offset="0.9167" stop-color="#be1903"/>
<stop offset="0.9375" stop-color="#af1203"/>
<stop offset="0.9583" stop-color="#a00a03"/>
<stop offset="0.9792" stop-color="#8d0702"/>
<stop offset="1.0000" stop-color="#7a0402"/>
</linearGradient></defs>
<rect x="410.70" y="36.10" width="14.30" height="155.00" fill="url(#cb1)" stroke="#262626" stroke-width="1"/>
<text x="430.60" y="196.00" font-family='"Liberation Sans", sans-serif' font-size="13.8" text-anchor="start" fill="#262626" font-weight="normal" font-style="normal" >0</text>
<line x1="423.00" y1="126.52" x2="425.00" y2="126.52" stroke="#262626" stroke-width="1"/>
<text x="430.60" y="131.42" font-family='"Liberation Sans", sans-serif' font-size="13.8" text-anchor="start" fill="#262626" font-weight="normal" font-style="normal" >5</text>
<line x1="423.00" y1="61.93" x2="425.00" y2="61.93" stroke="#262626" stroke-width="1"/>
<text x="430.60" y="66.83" font-family='"Liberation Sans", sans-serif' font-size="13.8" text-anchor="start" fill="#262626" font-weight="normal" font-style="normal" >10</text>
<text x="416.55" y="11.00" font-family='"Liberation Sans", sans-serif' font-size="13.3" text-anchor="middle" fill="#262626" font-weight="normal" font-style="normal" >Replicate</text>
<text x="416.55" y="27.70" font-family='"Liberation Sans", sans-serif' font-size="13.4" text-anchor="middle" fill="#262626" font-weight="normal" font-style="normal" >pol. length (nt)</text>
<text x="334.95" y="29.6" font-family='"Liberation Sans", sans-serif' font-size="16" font-weight="bold" text-anchor="middle" fill="#262626"><tspan font-style="italic">f</tspan>=0.9</text>
<text x="259.00" y="181.93" font-family='"Liberation Sans", sans-serif' font-size="15.1" text-anchor="end" fill="#262626" font-weight="normal" font-style="normal" >1</text>
<text x="259.00" y="161.30" font-family='"Liberation Sans", sans-serif' font-size="15.1" text-anchor="end" fill="#262626" font-weight="normal" font-style="normal" >2</text>
<text x="259.00" y="140.68" font-family='"Liberation Sans", sans-serif' font-size="15.1" text-anchor="end" fill="#262626" font-weight="normal" font-style="normal" >3</text>
<text x="259.00" y="120.05" font-family='"Liberation Sans", sans-serif' font-size="15.1" text-anchor="end" fill="#262626" font-weight="normal" font-style="normal" >4</text>
<text x="259.00" y="99.42" font-family='"Liberation Sans", sans-serif' font-size="15.1" text-anchor="end" fill="#262626" font-weight="normal" font-style="normal" >5</text>
<text x="259.00" y="78.80" font-family='"Liberation Sans", sans-serif' font-size="15.1" text-anchor="end" fill="#262626" font-weight="normal" font-style="normal" >6</text>
<text x="259.00" y="58.17" font-family='"Liberation Sans", sans-serif' font-size="15.1" text-anchor="end" fill="#262626" font-weight="normal" font-style="normal" >7</text>
<text x="306.65" y="212.00" font-family='"Liberation Sans", sans-serif' font-size="15.1" text-anchor="middle" fill="#262626" font-weight="normal" font-style="normal" >1</text>
<text x="353.82" y="212.00" font-family='"Liberation Sans", sans-serif' font-size="15.1" text-anchor="middle" fill="#262626" font-weight="normal" font-style="normal" >2</text>
<text x="400.98" y="212.00" font-family='"Liberation Sans", sans-serif' font-size="15.1" text-anchor="middle" fill="#262626" font-weight="normal" font-style="normal" >3</text>
<text x="227.80" y="113.2" font-family='"Liberation Serif", serif' font-size="16.2" font-style="italic" fill="#262626">&#946;</text>
<text x="236.90" y="121.00" font-family='"Liberation Sans", sans-serif' font-size="14.0" text-anchor="start" fill="#262626" font-weight="normal" font-style="normal" >0</text>
<text x="326.35" y="233.0" font-family='"Liberation Serif", serif' font-size="17" font-style="italic" fill="#262626">&#945;</text>
<text x="336.55" y="240.80" font-family='"Liberation Sans", sans-serif' font-size="14.2" text-anchor="start" fill="#262626" font-weight="normal" font-style="normal" >0</text>
<g>
<rect x="489.40" y="36.40" width="9.52" height="10.34" fill="#c82104"/>
<rect x="498.87" y="36.40" width="9.52" height="10.34" fill="#e33707"/>
<rect x="508.33" y="36.40" width="9.52" height="10.34" fill="#f44e0a"/>
<rect x="517.80" y="36.40" width="9.52" height="10.34" fill="#ff9119"/>
<rect x="527.27" y="36.40" width="9.52" height="10.34" fill="#ff7f15"/>
<rect x="536.73" y="36.40" width="9.52" height="10.34" fill="#fda31c"/>
<rect x="546.20" y="36.40" width="9.52" height="10.34" fill="#fcaf1e"/>
<rect x="555.67" y="36.40" width="9.52" height="10.34" fill="#f5be1e"/>
<rect x="565.13" y="36.40" width="9.52" height="10.34" fill="#0cf642"/>
<rect x="574.60" y="36.40" width="9.52" height="10.34" fill="#26f72d"/>
<rect x="584.07" y="36.40" width="9.52" height="10.34" fill="#26f72d"/>
<rect x="593.53" y="36.40" width="9.52" height="10.34" fill="#00e882"/>
<rect x="603.00" y="36.40" width="9.52" height="10.34" fill="#00e292"/>
<rect x="612.47" y="36.40" width="9.52" height="10.34" fill="#00bcdc"/>
<rect x="621.93" y="36.40" width="9.52" height="10.34" fill="#06a2f2"/>
<rect x="489.40" y="46.69" width="9.52" height="10.34" fill="#fda31c"/>
<rect x="498.87" y="46.69" width="9.52" height="10.34" fill="#980903"/>
<rect x="508.33" y="46.69" width="9.52" height="10.34" fill="#be1903"/>
<rect x="517.80" y="46.69" width="9.52" height="10.34" fill="#ff7f15"/>
<rect x="527.27" y="46.69" width="9.52" height="10.34" fill="#fe9d1b"/>
<rect x="536.73" y="46.69" width="9.52" height="10.34" fill="#e1d51b"/>
<rect x="546.20" y="46.69" width="9.52" height="10.34" fill="#e6d11c"/>
<rect x="555.67" y="46.69" width="9.52" height="10.34" fill="#ebcc1d"/>
<rect x="565.13" y="46.69" width="9.52" height="10.34" fill="#10f73a"/>
<rect x="574.60" y="46.69" width="9.52" height="10.34" fill="#08f44a"/>
<rect x="584.07" y="46.69" width="9.52" height="10.34" fill="#00f25a"/>
<rect x="593.53" y="46.69" width="9.52" height="10.34" fill="#04f352"/>
<rect x="603.00" y="46.69" width="9.52" height="10.34" fill="#00ea7a"/>
<rect x="612.47" y="46.69" width="9.52" height="10.34" fill="#00ccc6"/>
<rect x="621.93" y="46.69" width="9.52" height="10.34" fill="#00b8e1"/>
<rect x="489.40" y="56.99" width="9.52" height="10.34" fill="#ff7312"/>
<rect x="498.87" y="56.99" width="9.52" height="10.34" fill="#df3406"/>
<rect x="508.33" y="56.99" width="9.52" height="10.34" fill="#eb3e08"/>
<rect x="517.80" y="56.99" width="9.52" height="10.34" fill="#ff7f15"/>
<rect x="527.27" y="56.99" width="9.52" height="10.34" fill="#fa580c"/>
<rect x="536.73" y="56.99" width="9.52" height="10.34" fill="#f7530b"/>
<rect x="546.20" y="56.99" width="9.52" height="10.34" fill="#86ef17"/>
<rect x="555.67" y="56.99" width="9.52" height="10.34" fill="#c5e317"/>
<rect x="565.13" y="56.99" width="9.52" height="10.34" fill="#0cf642"/>
<rect x="574.60" y="56.99" width="9.52" height="10.34" fill="#38f628"/>
<rect x="584.07" y="56.99" width="9.52" height="10.34" fill="#92ee16"/>
<rect x="593.53" y="56.99" width="9.52" height="10.34" fill="#0cf642"/>
<rect x="603.00" y="56.99" width="9.52" height="10.34" fill="#00e58a"/>
<rect x="612.47" y="56.99" width="9.52" height="10.34" fill="#00dda2"/>
<rect x="621.93" y="56.99" width="9.52" height="10.34" fill="#00d3b8"/>
<rect x="489.40" y="67.28" width="9.52" height="10.34" fill="#f44e0a"/>
<rect x="498.87" y="67.28" width="9.52" height="10.34" fill="#e33707"/>
<rect x="508.33" y="67.28" width="9.52" height="10.34" fill="#ff7312"/>
<rect x="517.80" y="67.28" width="9.52" height="10.34" fill="#f1480a"/>
<rect x="527.27" y="67.28" width="9.52" height="10.34" fill="#fda31c"/>
<rect x="536.73" y="67.28" width="9.52" height="10.34" fill="#86ef17"/>
<rect x="546.20" y="67.28" width="9.52" height="10.34" fill="#aaeb14"/>
<rect x="555.67" y="67.28" width="9.52" height="10.34" fill="#b3e815"/>
<rect x="565.13" y="67.28" width="9.52" height="10.34" fill="#08f44a"/>
<rect x="574.60" y="67.28" width="9.52" height="10.34" fill="#26f72d"/>
<rect x="584.07" y="67.28" width="9.52" height="10.34" fill="#08f44a"/>
<rect x="593.53" y="67.28" width="9.52" height="10.34" fill="#04f352"/>
<rect x="603.00" y="67.28" width="9.52" height="10.34" fill="#00ea7a"/>
<rect x="612.47" y="67.28" width="9.52" height="10.34" fill="#00c4d2"/>
<rect x="621.93" y="67.28" width="9.52" height="10.34" fill="#0a96fa"/>
<rect x="489.40" y="77.57" width="9.52" height="10.34" fill="#f44e0a"/>
<rect x="498.87" y="77.57" width="9.52" height="10.34" fill="#890602"/>
<rect x="508.33" y="77.57" width="9.52" height="10.34" fill="#f7530b"/>
<rect x="517.80" y="77.57" width="9.52" height="10.34" fill="#ff7f15"/>
<rect x="527.27" y="77.57" width="9.52" height="10.34" fill="#ff7f15"/>
<rect x="536.73" y="77.57" width="9.52" height="10.34" fill="#d7de19"/>
<rect x="546.20" y="77.57" width="9.52" height="10.34" fill="#fda31c"/>
<rect x="555.67" y="77.57" width="9.52" height="10.34" fill="#7af118"/>
<rect x="565.13" y="77.57" width="9.52" height="10.34" fill="#10f73a"/>
<rect x="574.60" y="77.57" width="9.52" height="10.34" fill="#08f44a"/>
<rect x="584.07" y="77.57" width="9.52" height="10.34" fill="#08f44a"/>
<rect x="593.53" y="77.57" width="9.52" height="10.34" fill="#00e58a"/>
<rect x="603.00" y="77.57" width="9.52" height="10.34" fill="#04f352"/>
<rect x="612.47" y="77.57" width="9.52" height="10.34" fill="#00d3b8"/>
<rect x="621.93" y="77.57" width="9.52" height="10.34" fill="#00bcdc"/>
<rect x="489.40" y="87.87" width="9.52" height="10.34" fill="#fe9d1b"/>
<rect x="498.87" y="87.87" width="9.52" height="10.34" fill="#fc630e"/>
<rect x="508.33" y="87.87" width="9.52" height="10.34" fill="#ff7f15"/>
<rect x="517.80" y="87.87" width="9.52" height="10.34" fill="#fa580c"/>
<rect x="527.27" y="87.87" width="9.52" height="10.34" fill="#86ef17"/>
<rect x="536.73" y="87.87" width="9.52" height="10.34" fill="#ebcc1d"/>
<rect x="546.20" y="87.87" width="9.52" height="10.34" fill="#d7de19"/>
<rect x="555.67" y="87.87" width="9.52" height="10.34" fill="#10f73a"/>
<rect x="565.13" y="87.87" width="9.52" height="10.34" fill="#08f44a"/>
<rect x="574.60" y="87.87" width="9.52" height="10.34" fill="#26f72d"/>
<rect x="584.07" y="87.87" width="9.52" height="10.34" fill="#00ec72"/>
<rect x="593.53" y="87.87" width="9.52" height="10.34" fill="#00ec72"/>
<rect x="603.00" y="87.87" width="9.52" height="10.34" fill="#00e292"/>
<rect x="612.47" y="87.87" width="9.52" height="10.34" fill="#00b4e6"/>
<rect x="621.93" y="87.87" width="9.52" height="10.34" fill="#00bcdc"/>
<rect x="489.40" y="98.16" width="9.52" height="10.34" fill="#f44e0a"/>
<rect x="498.87" y="98.16" width="9.52" height="10.34" fill="#d72d05"/>
<rect x="508.33" y="98.16" width="9.52" height="10.34" fill="#fa580c"/>
<rect x="517.80" y="98.16" width="9.52" height="10.34" fill="#ff7f15"/>
<rect x="527.27" y="98.16" width="9.52" height="10.34" fill="#ebcc1d"/>
<rect x="536.73" y="98.16" width="9.52" height="10.34" fill="#38f628"/>
<rect x="546.20" y="98.16" width="9.52" height="10.34" fill="#7af118"/>
<rect x="555.67" y="98.16" width="9.52" height="10.34" fill="#9eec15"/>
<rect x="565.13" y="98.16" width="9.52" height="10.34" fill="#04f352"/>
<rect x="574.60" y="98.16" width="9.52" height="10.34" fill="#00e882"/>
<rect x="584.07" y="98.16" width="9.52" height="10.34" fill="#38f628"/>
<rect x="593.53" y="98.16" width="9.52" height="10.34" fill="#00e58a"/>
<rect x="603.00" y="98.16" width="9.52" height="10.34" fill="#00e09a"/>
<rect x="612.47" y="98.16" width="9.52" height="10.34" fill="#00ccc6"/>
<rect x="621.93" y="98.16" width="9.52" height="10.34" fill="#00bcdc"/>
<rect x="489.40" y="108.45" width="9.52" height="10.34" fill="#ff7f15"/>
<rect x="498.87" y="108.45" width="9.52" height="10.34" fill="#ff7f15"/>
<rect x="508.33" y="108.45" width="9.52" height="10.34" fill="#fe971a"/>
<rect x="517.80" y="108.45" width="9.52" height="10.34" fill="#fe971a"/>
<rect x="527.27" y="108.45" width="9.52" height="10.34" fill="#e6d11c"/>
<rect x="536.73" y="108.45" width="9.52" height="10.34" fill="#7af118"/>
<rect x="546.20" y="108.45" width="9.52" height="10.34" fill="#aaeb14"/>
<rect x="555.67" y="108.45" width="9.52" height="10.34" fill="#00ea7a"/>
<rect x="565.13" y="108.45" width="9.52" height="10.34" fill="#14f832"/>
<rect x="574.60" y="108.45" width="9.52" height="10.34" fill="#5cf31e"/>
<rect x="584.07" y="108.45" width="9.52" height="10.34" fill="#00e882"/>
<rect x="593.53" y="108.45" width="9.52" height="10.34" fill="#00dda2"/>
<rect x="603.00" y="108.45" width="9.52" height="10.34" fill="#00e09a"/>
<rect x="612.47" y="108.45" width="9.52" height="10.34" fill="#00d3b8"/>
<rect x="621.93" y="108.45" width="9.52" height="10.34" fill="#00b8e1"/>
<rect x="489.40" y="118.75" width="9.52" height="10.34" fill="#f0c81e"/>
<rect x="498.87" y="118.75" width="9.52" height="10.34" fill="#f7b91e"/>
<rect x="508.33" y="118.75" width="9.52" height="10.34" fill="#d7de19"/>
<rect x="517.80" y="118.75" width="9.52" height="10.34" fill="#4af423"/>
<rect x="527.27" y="118.75" width="9.52" height="10.34" fill="#c5e317"/>
<rect x="536.73" y="118.75" width="9.52" height="10.34" fill="#00f062"/>
<rect x="546.20" y="118.75" width="9.52" height="10.34" fill="#00f25a"/>
<rect x="555.67" y="118.75" width="9.52" height="10.34" fill="#00e09a"/>
<rect x="565.13" y="118.75" width="9.52" height="10.34" fill="#00e58a"/>
<rect x="574.60" y="118.75" width="9.52" height="10.34" fill="#00d3b8"/>
<rect x="584.07" y="118.75" width="9.52" height="10.34" fill="#00d6b1"/>
<rect x="593.53" y="118.75" width="9.52" height="10.34" fill="#00d3b8"/>
<rect x="603.00" y="118.75" width="9.52" height="10.34" fill="#00d3b8"/>
<rect x="612.47" y="118.75" width="9.52" height="10.34" fill="#00c0d7"/>
<rect x="621.93" y="118.75" width="9.52" height="10.34" fill="#00b8e1"/>
<rect x="489.40" y="129.04" width="9.52" height="10.34" fill="#00daaa"/>
<rect x="498.87" y="129.04" width="9.52" height="10.34" fill="#fab41e"/>
<rect x="508.33" y="129.04" width="9.52" height="10.34" fill="#bce616"/>
<rect x="517.80" y="129.04" width="9.52" height="10.34" fill="#38f628"/>
<rect x="527.27" y="129.04" width="9.52" height="10.34" fill="#00f25a"/>
<rect x="536.73" y="129.04" width="9.52" height="10.34" fill="#00e882"/>
<rect x="546.20" y="129.04" width="9.52" height="10.34" fill="#00c4d2"/>
<rect x="555.67" y="129.04" width="9.52" height="10.34" fill="#00bcdc"/>
<rect x="565.13" y="129.04" width="9.52" height="10.34" fill="#00b4e6"/>
<rect x="574.60" y="129.04" width="9.52" height="10.34" fill="#04a8ee"/>
<rect x="584.07" y="129.04" width="9.52" height="10.34" fill="#00c4d2"/>
<rect x="593.53" y="129.04" width="9.52" height="10.34" fill="#00bcdc"/>
<rect x="603.00" y="129.04" width="9.52" height="10.34" fill="#00c8cd"/>
<rect x="612.47" y="129.04" width="9.52" height="10.34" fill="#00b4e6"/>
<rect x="621.93" y="129.04" width="9.52" height="10.34" fill="#00bcdc"/>
<rect x="489.40" y="139.33" width="9.52" height="10.34" fill="#089cf6"/>
<rect x="498.87" y="139.33" width="9.52" height="10.34" fill="#00f25a"/>
<rect x="508.33" y="139.33" width="9.52" height="10.34" fill="#00e58a"/>
<rect x="517.80" y="139.33" width="9.52" height="10.34" fill="#00ccc6"/>
<rect x="527.27" y="139.33" width="9.52" height="10.34" fill="#00c8cd"/>
<rect x="536.73" y="139.33" width="9.52" height="10.34" fill="#00c8cd"/>
<rect x="546.20" y="139.33" width="9.52" height="10.34" fill="#00b4e6"/>
<rect x="555.67" y="139.33" width="9.52" height="10.34" fill="#02aeea"/>
<rect x="565.13" y="139.33" width="9.52" height="10.34" fill="#00b8e1"/>
<rect x="574.60" y="139.33" width="9.52" height="10.34" fill="#00b4e6"/>
<rect x="584.07" y="139.33" width="9.52" height="10.34" fill="#04a8ee"/>
<rect x="593.53" y="139.33" width="9.52" height="10.34" fill="#00bcdc"/>
<rect x="603.00" y="139.33" width="9.52" height="10.34" fill="#00b4e6"/>
<rect x="612.47" y="139.33" width="9.52" height="10.34" fill="#00b8e1"/>
<rect x="621.93" y="139.33" width="9.52" height="10.34" fill="#00b4e6"/>
<rect x="489.40" y="149.63" width="9.52" height="10.34" fill="#2c76f4"/>
<rect x="498.87" y="149.63" width="9.52" height="10.34" fill="#02aeea"/>
<rect x="508.33" y="149.63" width="9.52" height="10.34" fill="#00c8cd"/>
<rect x="517.80" y="149.63" width="9.52" height="10.34" fill="#0a96fa"/>
<rect x="527.27" y="149.63" width="9.52" height="10.34" fill="#1090fa"/>
<rect x="536.73" y="149.63" width="9.52" height="10.34" fill="#06a2f2"/>
<rect x="546.20" y="149.63" width="9.52" height="10.34" fill="#2280f8"/>
<rect x="555.67" y="149.63" width="9.52" height="10.34" fill="#287af8"/>
<rect x="565.13" y="149.63" width="9.52" height="10.34" fill="#2c76f4"/>
<rect x="574.60" y="149.63" width="9.52" height="10.34" fill="#287af8"/>
<rect x="584.07" y="149.63" width="9.52" height="10.34" fill="#2c76f4"/>
<rect x="593.53" y="149.63" width="9.52" height="10.34" fill="#287af8"/>
<rect x="603.00" y="149.63" width="9.52" height="10.34" fill="#2c76f4"/>
<rect x="612.47" y="149.63" width="9.52" height="10.34" fill="#287af8"/>
<rect x="621.93" y="149.63" width="9.52" height="10.34" fill="#2c76f4"/>
<rect x="489.40" y="159.92" width="9.52" height="10.34" fill="#3c5edd"/>
<rect x="498.87" y="159.92" width="9.52" height="10.34" fill="#3071f1"/>
<rect x="508.33" y="159.92" width="9.52" height="10.34" fill="#287af8"/>
<rect x="517.80" y="159.92" width="9.52" height="10.34" fill="#3c64e6"/>
<rect x="527.27" y="159.92" width="9.52" height="10.34" fill="#3c64e6"/>
<rect x="536.73" y="159.92" width="9.52" height="10.34" fill="#3c5edd"/>
<rect x="546.20" y="159.92" width="9.52" height="10.34" fill="#3c5edd"/>
<rect x="555.67" y="159.92" width="9.52" height="10.34" fill="#3c5edd"/>
<rect x="565.13" y="159.92" width="9.52" height="10.34" fill="#3c5edd"/>
<rect x="574.60" y="159.92" width="9.52" height="10.34" fill="#3c5edd"/>
<rect x="584.07" y="159.92" width="9.52" height="10.34" fill="#3c5edd"/>
<rect x="593.53" y="159.92" width="9.52" height="10.34" fill="#3c5edd"/>
<rect x="603.00" y="159.92" width="9.52" height="10.34" fill="#3c5edd"/>
<rect x="612.47" y="159.92" width="9.52" height="10.34" fill="#3c5edd"/>
<rect x="621.93" y="159.92" width="9.52" height="10.34" fill="#3c5edd"/>
<rect x="489.40" y="170.21" width="9.52" height="10.34" fill="#3d58d4"/>
<rect x="498.87" y="170.21" width="9.52" height="10.34" fill="#3d58d4"/>
<rect x="508.33" y="170.21" width="9.52" height="10.34" fill="#3d58d4"/>
<rect x="517.80" y="170.21" width="9.52" height="10.34" fill="#3d58d4"/>
<rect x="527.27" y="170.21" width="9.52" height="10.34" fill="#3d58d4"/>
<rect x="536.73" y="170.21" width="9.52" height="10.34" fill="#3d58d4"/>
<rect x="546.20" y="170.21" width="9.52" height="10.34" fill="#3d58d4"/>
<rect x="555.67" y="170.21" width="9.52" height="10.34" fill="#3d58d4"/>
<rect x="565.13" y="170.21" width="9.52" height="10.34" fill="#3d58d4"/>
<rect x="574.60" y="170.21" width="9.52" height="10.34" fill="#3d58d4"/>
<rect x="584.07" y="170.21" width="9.52" height="10.34" fill="#3d58d4"/>
<rect x="593.53" y="170.21" width="9.52" height="10.34" fill="#3d58d4"/>
<rect x="603.00" y="170.21" width="9.52" height="10.34" fill="#3d58d4"/>
<rect x="612.47" y="170.21" width="9.52" height="10.34" fill="#3d58d4"/>
<rect x="621.93" y="170.21" width="9.52" height="10.34" fill="#3d58d4"/>
<rect x="489.40" y="180.51" width="9.52" height="10.34" fill="#3d52cc"/>
<rect x="498.87" y="180.51" width="9.52" height="10.34" fill="#3d52cc"/>
<rect x="508.33" y="180.51" width="9.52" height="10.34" fill="#3d52cc"/>
<rect x="517.80" y="180.51" width="9.52" height="10.34" fill="#3d52cc"/>
<rect x="527.27" y="180.51" width="9.52" height="10.34" fill="#3d52cc"/>
<rect x="536.73" y="180.51" width="9.52" height="10.34" fill="#3d52cc"/>
<rect x="546.20" y="180.51" width="9.52" height="10.34" fill="#3d52cc"/>
<rect x="555.67" y="180.51" width="9.52" height="10.34" fill="#3d52cc"/>
<rect x="565.13" y="180.51" width="9.52" height="10.34" fill="#3d52cc"/>
<rect x="574.60" y="180.51" width="9.52" height="10.34" fill="#3d52cc"/>
<rect x="584.07" y="180.51" width="9.52" height="10.34" fill="#3d52cc"/>
<rect x="593.53" y="180.51" width="9.52" height="10.34" fill="#3d52cc"/>
<rect x="603.00" y="180.51" width="9.52" height="10.34" fill="#3d52cc"/>
<rect x="612.47" y="180.51" width="9.52" height="10.34" fill="#3d52cc"/>
<rect x="621.93" y="180.51" width="9.52" height="10.34" fill="#3d52cc"/>
<line x1="489.40" y1="36.40" x2="489.40" y2="190.80" stroke="#2b2b2b" stroke-width="1"/>
<line x1="498.87" y1="36.40" x2="498.87" y2="190.80" stroke="#2b2b2b" stroke-width="1"/>
<line x1="508.33" y1="36.40" x2="508.33" y2="190.80" stroke="#2b2b2b" stroke-width="1"/>
<line x1="517.80" y1="36.40" x2="517.80" y2="190.80" stroke="#2b2b2b" stroke-width="1"/>
<line x1="527.27" y1="36.40" x2="527.27" y2="190.80" stroke="#2b2b2b" stroke-width="1"/>
<line x1="536.73" y1="36.40" x2="536.73" y2="190.80" stroke="#2b2b2b" stroke-width="1"/>
<line x1="546.20" y1="36.40" x2="546.20" y2="190.80" stroke="#2b2b2b" stroke-width="1"/>
<line x1="555.67" y1="36.40" x2="555.67" y2="190.80" stroke="#2b2b2b" stroke-width="1"/>
<line x1="565.13" y1="36.40" x2="565.13" y2="190.80" stroke="#2b2b2b" stroke-width="1"/>
<line x1="574.60" y1="36.40" x2="574.60" y2="190.80" stroke="#2b2b2b" stroke-width="1"/>
<line x1="584.07" y1="36.40" x2="584.07" y2="190.80" stroke="#2b2b2b" stroke-width="1"/>
<line x1="593.53" y1="36.40" x2="593.53" y2="190.80" stroke="#2b2b2b" stroke-width="1"/>
<line x1="603.00" y1="36.40" x2="603.00" y2="190.80" stroke="#2b2b2b" stroke-width="1"/>
<line x1="612.47" y1="36.40" x2="612.47" y2="190.80" stroke="#2b2b2b" stroke-width="1"/>
<line x1="621.93" y1="36.40" x2="621.93" y2="190.80" stroke="#2b2b2b" stroke-width="1"/>
<line x1="631.40" y1="36.40" x2="631.40" y2="190.80" stroke="#2b2b2b" stroke-width="1"/>
<line x1="489.40" y1="36.40" x2="631.40" y2="36.40" stroke="#2b2b2b" stroke-width="1"/>
<line x1="489.40" y1="46.69" x2="631.40" y2="46.69" stroke="#2b2b2b" stroke-width="1"/>
<line x1="489.40" y1="56.99" x2="631.40" y2="56.99" stroke="#2b2b2b" stroke-width="1"/>
<line x1="489.40" y1="67.28" x2="631.40" y2="67.28" stroke="#2b2b2b" stroke-width="1"/>
<line x1="489.40" y1="77.57" x2="631.40" y2="77.57" stroke="#2b2b2b" stroke-width="1"/>
<line x1="489.40" y1="87.87" x2="631.40" y2="87.87" stroke="#2b2b2b" stroke-width="1"/>
<line x1="489.40" y1="98.16" x2="631.40" y2="98.16" stroke="#2b2b2b" stroke-width="1"/>
<line x1="489.40" y1="108.45" x2="631.40" y2="108.45" stroke="#2b2b2b" stroke-width="1"/>
<line x1="489.40" y1="118.75" x2="631.40" y2="118.75" stroke="#2b2b2b" stroke-width="1"/>
<line x1="489.40" y1="129.04" x2="631.40" y2="129.04" stroke="#2b2b2b" stroke-width="1"/>
<line x1="489.40" y1="139.33" x2="631.40" y2="139.33" stroke="#2b2b2b" stroke-width="1"/>
<line x1="489.40" y1="149.63" x2="631.40" y2="149.63" stroke="#2b2b2b" stroke-width="1"/>
<line x1="489.40" y1="159.92" x2="631.40" y2="159.92" stroke="#2b2b2b" stroke-width="1"/>
<line x1="489.40" y1="170.21" x2="631.40" y2="170.21" stroke="#2b2b2b" stroke-width="1"/>
<line x1="489.40" y1="180.51" x2="631.40" y2="180.51" stroke="#2b2b2b" stroke-width="1"/>
<line x1="489.40" y1="190.80" x2="631.40" y2="190.80" stroke="#2b2b2b" stroke-width="1"/>
</g>
<defs><linearGradient id="cb2" x1="0" y1="1" x2="0" y2="0">
<stop offset="0.0000" stop-color="#2c0830"/>
<stop offset="0.0208" stop-color="#330d38"/>
<stop offset="0.0417" stop-color="#391e65"/>
<stop offset="0.0625" stop-color="#3d3292"/>
<stop offset="0.0833" stop-color="#3e46ba"/>
<stop offset="0.1042" stop-color="#3d55d0"/>
<stop offset="0.1250" stop-color="#3c64e6"/>
<stop offset="0.1458" stop-color="#326fef"/>
<stop offset="0.1667" stop-color="#287af8"/>
<stop offset="0.1875" stop-color="#1988f9"/>
<stop offset="0.2083" stop-color="#0a96fa"/>
<stop offset="0.2292" stop-color="#05a5f0"/>
<stop offset="0.2500" stop-color="#00b4e6"/>
<stop offset="0.2708" stop-color="#00beda"/>
<stop offset="0.2917" stop-color="#00c8cd"/>
<stop offset="0.3125" stop-color="#00d1bc"/>
<stop offset="0.3333" stop-color="#00daaa"/>
<stop offset="0.3542" stop-color="#00e196"/>
<stop offset="0.3750" stop-color="#00e882"/>
<stop offset="0.3958" stop-color="#00ed6e"/>
<stop offset="0.4167" stop-color="#00f25a"/>
<stop offset="0.4375" stop-color="#0af546"/>
<stop offset="0.4583" stop-color="#14f832"/>
<stop offset="0.4792" stop-color="#41f526"/>
<stop offset="0.5000" stop-color="#6ef219"/>
<stop offset="0.5208" stop-color="#8cee16"/>
<stop offset="0.5417" stop-color="#aaeb14"/>
<stop offset="0.5625" stop-color="#c0e416"/>
<stop offset="0.5833" stop-color="#d7de19"/>
<stop offset="0.6042" stop-color="#e4d31c"/>
<stop offset="0.6250" stop-color="#f0c81e"/>
<stop offset="0.6458" stop-color="#f6bc1e"/>
<stop offset="0.6667" stop-color="#fcaf1e"/>
<stop offset="0.6875" stop-color="#fea01c"/>
<stop offset="0.7083" stop-color="#ff9119"/>
<stop offset="0.7292" stop-color="#ff8216"/>
<stop offset="0.7500" stop-color="#ff7312"/>
<stop offset="0.7708" stop-color="#fc660f"/>
<stop offset="0.7917" stop-color="#fa580c"/>
<stop offset="0.8125" stop-color="#f24b0a"/>
<stop offset="0.8333" stop-color="#eb3e08"/>
<stop offset="0.8542" stop-color="#e13606"/>
<stop offset="0.8750" stop-color="#d72d05"/>
<stop offset="0.8958" stop-color="#ca2304"/>
<stop offset="0.9167" stop-color="#be1903"/>
<stop offset="0.9375" stop-color="#af1203"/>
<stop offset="0.9583" stop-color="#a00a03"/>
<stop offset="0.9792" stop-color="#8d0702"/>
<stop offset="1.0000" stop-color="#7a0402"/>
</linearGradient></defs>
<rect x="637.10" y="36.10" width="14.20" height="154.70" fill="url(#cb2)" stroke="#262626" stroke-width="1"/>
<text x="656.90" y="195.70" font-family='"Liberation Sans", sans-serif' font-size="13.8" text-anchor="start" fill="#262626" font-weight="normal" font-style="normal" >0</text>
<line x1="649.30" y1="126.34" x2="651.30" y2="126.34" stroke="#262626" stroke-width="1"/>
<text x="656.90" y="131.24" font-family='"Liberation Sans", sans-serif' font-size="13.8" text-anchor="start" fill="#262626" font-weight="normal" font-style="normal" >5</text>
<line x1="649.30" y1="61.88" x2="651.30" y2="61.88" stroke="#262626" stroke-width="1"/>
<text x="656.90" y="66.78" font-family='"Liberation Sans", sans-serif' font-size="13.8" text-anchor="start" fill="#262626" font-weight="normal" font-style="normal" >10</text>
<text x="642.90" y="11.00" font-family='"Liberation Sans", sans-serif' font-size="13.3" text-anchor="middle" fill="#262626" font-weight="normal" font-style="normal" >Replicate</text>
<text x="642.90" y="27.70" font-family='"Liberation Sans", sans-serif' font-size="13.4" text-anchor="middle" fill="#262626" font-weight="normal" font-style="normal" >pol. length (nt)</text>
<text x="560.40" y="29.6" font-family='"Liberation Sans", sans-serif' font-size="16" font-weight="bold" text-anchor="middle" fill="#262626"><tspan font-style="italic">f</tspan>=0.99</text>
<text x="484.20" y="181.66" font-family='"Liberation Sans", sans-serif' font-size="15.1" text-anchor="end" fill="#262626" font-weight="normal" font-style="normal" >1</text>
<text x="484.20" y="161.07" font-family='"Liberation Sans", sans-serif' font-size="15.1" text-anchor="end" fill="#262626" font-weight="normal" font-style="normal" >2</text>
<text x="484.20" y="140.49" font-family='"Liberation Sans", sans-serif' font-size="15.1" text-anchor="end" fill="#262626" font-weight="normal" font-style="normal" >3</text>
<text x="484.20" y="119.90" font-family='"Liberation Sans", sans-serif' font-size="15.1" text-anchor="end" fill="#262626" font-weight="normal" font-style="normal" >4</text>
<text x="484.20" y="99.31" font-family='"Liberation Sans", sans-serif' font-size="15.1" text-anchor="end" fill="#262626" font-weight="normal" font-style="normal" >5</text>
<text x="484.20" y="78.73" font-family='"Liberation Sans", sans-serif' font-size="15.1" text-anchor="end" fill="#262626" font-weight="normal" font-style="normal" >6</text>
<text x="484.20" y="58.14" font-family='"Liberation Sans", sans-serif' font-size="15.1" text-anchor="end" fill="#262626" font-weight="normal" font-style="normal" >7</text>
<text x="532.00" y="212.00" font-family='"Liberation Sans", sans-serif' font-size="15.1" text-anchor="middle" fill="#262626" font-weight="normal" font-style="normal" >1</text>
<text x="579.33" y="212.00" font-family='"Liberation Sans", sans-serif' font-size="15.1" text-anchor="middle" fill="#262626" font-weight="normal" font-style="normal" >2</text>
<text x="626.67" y="212.00" font-family='"Liberation Sans", sans-serif' font-size="15.1" text-anchor="middle" fill="#262626" font-weight="normal" font-style="normal" >3</text>
<text x="453.00" y="113.2" font-family='"Liberation Serif", serif' font-size="16.2" font-style="italic" fill="#262626">&#946;</text>
<text x="462.10" y="121.00" font-family='"Liberation Sans", sans-serif' font-size="14.0" text-anchor="start" fill="#262626" font-weight="normal" font-style="normal" >0</text>
<text x="551.80" y="233.0" font-family='"Liberation Serif", serif' font-size="17" font-style="italic" fill="#262626">&#945;</text>
<text x="562.00" y="240.80" font-family='"Liberation Sans", sans-serif' font-size="14.2" text-anchor="start" fill="#262626" font-weight="normal" font-style="normal" >0</text>
<text x="-0.40" y="263.60" font-family='"Liberation Sans", sans-serif' font-size="23" text-anchor="start" fill="#000" font-weight="normal" font-style="normal" >B</text>
<line x1="76.0" y1="473.28" x2="580.7" y2="473.28" stroke="#e3e3e3" stroke-width="1"/>
<line x1="76.0" y1="427.16" x2="580.7" y2="427.16" stroke="#e3e3e3" stroke-width="1"/>
<line x1="76.0" y1="381.04" x2="580.7" y2="381.04" stroke="#e3e3e3" stroke-width="1"/>
<line x1="76.0" y1="334.92" x2="580.7" y2="334.92" stroke="#e3e3e3" stroke-width="1"/>
<line x1="76.0" y1="288.80" x2="580.7" y2="288.80" stroke="#e3e3e3" stroke-width="1"/>
<line x1="76.0" y1="288.8" x2="76.0" y2="519.4" stroke="#3a3a3a" stroke-width="1"/>
<line x1="76.0" y1="519.4" x2="580.7" y2="519.4" stroke="#4a4a4a" stroke-width="1.3"/>
<line x1="76.0" y1="519.40" x2="88.6" y2="519.40" stroke="#262626" stroke-width="1"/>
<text x="70.00" y="526.20" font-family='"Liberation Sans", sans-serif' font-size="16.8" text-anchor="end" fill="#262626" font-weight="normal" font-style="normal" >0</text>
<line x1="76.0" y1="473.28" x2="88.6" y2="473.28" stroke="#262626" stroke-width="1"/>
<text x="70.00" y="480.08" font-family='"Liberation Sans", sans-serif' font-size="16.8" text-anchor="end" fill="#262626" font-weight="normal" font-style="normal" >4</text>
<line x1="76.0" y1="427.16" x2="88.6" y2="427.16" stroke="#262626" stroke-width="1"/>
<text x="70.00" y="433.96" font-family='"Liberation Sans", sans-serif' font-size="16.8" text-anchor="end" fill="#262626" font-weight="normal" font-style="normal" >8</text>
<line x1="76.0" y1="381.04" x2="88.6" y2="381.04" stroke="#262626" stroke-width="1"/>
<text x="70.00" y="387.84" font-family='"Liberation Sans", sans-serif' font-size="16.8" text-anchor="end" fill="#262626" font-weight="normal" font-style="normal" >12</text>
<line x1="76.0" y1="334.92" x2="88.6" y2="334.92" stroke="#262626" stroke-width="1"/>
<text x="70.00" y="341.72" font-family='"Liberation Sans", sans-serif' font-size="16.8" text-anchor="end" fill="#262626" font-weight="normal" font-style="normal" >16</text>
<line x1="76.0" y1="288.80" x2="88.6" y2="288.80" stroke="#262626" stroke-width="1"/>
<text x="70.00" y="295.60" font-family='"Liberation Sans", sans-serif' font-size="16.8" text-anchor="end" fill="#262626" font-weight="normal" font-style="normal" >20</text>
<line x1="189.50" y1="519.4" x2="189.50" y2="506.79999999999995" stroke="#262626" stroke-width="1"/>
<text x="189.50" y="542.90" font-family='"Liberation Sans", sans-serif' font-size="16.8" text-anchor="middle" fill="#262626" font-weight="normal" font-style="normal" >2500</text>
<line x1="315.65" y1="519.4" x2="315.65" y2="506.79999999999995" stroke="#262626" stroke-width="1"/>
<text x="315.65" y="542.90" font-family='"Liberation Sans", sans-serif' font-size="16.8" text-anchor="middle" fill="#262626" font-weight="normal" font-style="normal" >5000</text>
<line x1="441.80" y1="519.4" x2="441.80" y2="506.79999999999995" stroke="#262626" stroke-width="1"/>
<text x="441.80" y="542.90" font-family='"Liberation Sans", sans-serif' font-size="16.8" text-anchor="middle" fill="#262626" font-weight="normal" font-style="normal" >7500</text>
<line x1="567.95" y1="519.4" x2="567.95" y2="506.79999999999995" stroke="#262626" stroke-width="1"/>
<text x="567.95" y="542.90" font-family='"Liberation Sans", sans-serif' font-size="16.8" text-anchor="middle" fill="#262626" font-weight="normal" font-style="normal" >10000</text>
<line x1="88.58" y1="450.22" x2="88.58" y2="438.69" stroke="#77AC30" stroke-width="1.5"/>
<line x1="85.38" y1="438.69" x2="91.78" y2="438.69" stroke="#77AC30" stroke-width="1.5"/>
<line x1="88.58" y1="461.75" x2="88.58" y2="484.81" stroke="#77AC30" stroke-width="1.5"/>
<line x1="85.38" y1="484.81" x2="91.78" y2="484.81" stroke="#77AC30" stroke-width="1.5"/>
<rect x="82.28" y="450.22" width="12.6" height="11.53" fill="rgba(119,172,48,0.30)" stroke="#77AC30" stroke-width="1.5"/>
<line x1="82.28" y1="450.22" x2="94.88" y2="450.22" stroke="#77AC30" stroke-width="1.5"/>
<rect x="85.08" y="436.54" width="8.6" height="4.3" rx="2.15" fill="#77AC30"/>
<rect x="85.08" y="425.01" width="8.6" height="4.3" rx="2.15" fill="#77AC30"/>
<rect x="85.08" y="413.48" width="8.6" height="4.3" rx="2.15" fill="#77AC30"/>
<rect x="85.08" y="401.95" width="8.6" height="4.3" rx="2.15" fill="#77AC30"/>
<rect x="85.08" y="390.42" width="8.6" height="4.3" rx="2.15" fill="#77AC30"/>
<circle cx="87.83" cy="381.04" r="1.65" fill="none" stroke="#77AC30" stroke-width="1.1"/>
<circle cx="90.93" cy="381.04" r="1.65" fill="none" stroke="#77AC30" stroke-width="1.1"/>
<circle cx="87.83" cy="369.51" r="1.65" fill="none" stroke="#77AC30" stroke-width="1.1"/>
<circle cx="90.93" cy="369.51" r="1.65" fill="none" stroke="#77AC30" stroke-width="1.1"/>
<circle cx="89.38" cy="357.98" r="1.65" fill="none" stroke="#77AC30" stroke-width="1.1"/>
<line x1="113.81" y1="415.63" x2="113.81" y2="381.04" stroke="#77AC30" stroke-width="1.5"/>
<line x1="110.61" y1="381.04" x2="117.01" y2="381.04" stroke="#77AC30" stroke-width="1.5"/>
<line x1="113.81" y1="438.69" x2="113.81" y2="461.75" stroke="#77AC30" stroke-width="1.5"/>
<line x1="110.61" y1="461.75" x2="117.01" y2="461.75" stroke="#77AC30" stroke-width="1.5"/>
<rect x="107.51" y="415.63" width="12.6" height="23.06" fill="rgba(119,172,48,0.30)" stroke="#77AC30" stroke-width="1.5"/>
<line x1="107.51" y1="427.16" x2="120.11" y2="427.16" stroke="#77AC30" stroke-width="1.5"/>
<rect x="110.31" y="367.36" width="8.6" height="4.3" rx="2.15" fill="#77AC30"/>
<circle cx="114.61" cy="357.98" r="1.65" fill="none" stroke="#77AC30" stroke-width="1.1"/>
<rect x="110.31" y="344.30" width="8.6" height="4.3" rx="2.15" fill="#77AC30"/>
<rect x="110.31" y="332.77" width="8.6" height="4.3" rx="2.15" fill="#77AC30"/>
<rect x="110.31" y="321.24" width="8.6" height="4.3" rx="2.15" fill="#77AC30"/>
<circle cx="113.06" cy="311.86" r="1.65" fill="none" stroke="#77AC30" stroke-width="1.1"/>
<circle cx="116.16" cy="311.86" r="1.65" fill="none" stroke="#77AC30" stroke-width="1.1"/>
<circle cx="113.06" cy="300.33" r="1.65" fill="none" stroke="#77AC30" stroke-width="1.1"/>
<circle cx="116.16" cy="300.33" r="1.65" fill="none" stroke="#77AC30" stroke-width="1.1"/>
<line x1="139.04" y1="381.04" x2="139.04" y2="334.92" stroke="#77AC30" stroke-width="1.5"/>
<line x1="135.84" y1="334.92" x2="142.24" y2="334.92" stroke="#77AC30" stroke-width="1.5"/>
<line x1="139.04" y1="415.63" x2="139.04" y2="450.22" stroke="#77AC30" stroke-width="1.5"/>
<line x1="135.84" y1="450.22" x2="142.24" y2="450.22" stroke="#77AC30" stroke-width="1.5"/>
<rect x="132.74" y="381.04" width="12.6" height="34.59" fill="rgba(119,172,48,0.30)" stroke="#77AC30" stroke-width="1.5"/>
<line x1="132.74" y1="404.10" x2="145.34" y2="404.10" stroke="#77AC30" stroke-width="1.5"/>
<rect x="135.54" y="321.24" width="8.6" height="4.3" rx="2.15" fill="#77AC30"/>
<rect x="135.54" y="309.71" width="8.6" height="4.3" rx="2.15" fill="#77AC30"/>
<rect x="135.54" y="298.18" width="8.6" height="4.3" rx="2.15" fill="#77AC30"/>
<rect x="135.54" y="286.65" width="8.6" height="4.3" rx="2.15" fill="#77AC30"/>
<line x1="164.27" y1="346.45" x2="164.27" y2="288.80" stroke="#77AC30" stroke-width="1.5"/>
<line x1="161.07" y1="288.80" x2="167.47" y2="288.80" stroke="#77AC30" stroke-width="1.5"/>
<line x1="164.27" y1="404.10" x2="164.27" y2="473.28" stroke="#77AC30" stroke-width="1.5"/>
<line x1="161.07" y1="473.28" x2="167.47" y2="473.28" stroke="#77AC30" stroke-width="1.5"/>
<rect x="157.97" y="346.45" width="12.6" height="57.65" fill="rgba(119,172,48,0.30)" stroke="#77AC30" stroke-width="1.5"/>
<line x1="157.97" y1="381.04" x2="170.57" y2="381.04" stroke="#77AC30" stroke-width="1.5"/>
<line x1="189.50" y1="323.39" x2="189.50" y2="288.80" stroke="#77AC30" stroke-width="1.5"/>
<line x1="186.30" y1="288.80" x2="192.70" y2="288.80" stroke="#77AC30" stroke-width="1.5"/>
<line x1="189.50" y1="381.04" x2="189.50" y2="461.75" stroke="#77AC30" stroke-width="1.5"/>
<line x1="186.30" y1="461.75" x2="192.70" y2="461.75" stroke="#77AC30" stroke-width="1.5"/>
<rect x="183.20" y="323.39" width="12.6" height="57.65" fill="rgba(119,172,48,0.30)" stroke="#77AC30" stroke-width="1.5"/>
<line x1="183.20" y1="357.98" x2="195.80" y2="357.98" stroke="#77AC30" stroke-width="1.5"/>
<circle cx="190.30" cy="473.28" r="1.65" fill="none" stroke="#77AC30" stroke-width="1.1"/>
<circle cx="190.30" cy="484.81" r="1.65" fill="none" stroke="#77AC30" stroke-width="1.1"/>
<rect x="186.00" y="505.72" width="8.6" height="4.3" rx="2.15" fill="#77AC30"/>
<line x1="214.73" y1="300.33" x2="214.73" y2="288.80" stroke="#77AC30" stroke-width="1.5"/>
<line x1="211.53" y1="288.80" x2="217.93" y2="288.80" stroke="#77AC30" stroke-width="1.5"/>
<line x1="214.73" y1="381.04" x2="214.73" y2="496.34" stroke="#77AC30" stroke-width="1.5"/>
<line x1="211.53" y1="496.34" x2="217.93" y2="496.34" stroke="#77AC30" stroke-width="1.5"/>
<rect x="208.43" y="300.33" width="12.6" height="80.71" fill="rgba(119,172,48,0.30)" stroke="#77AC30" stroke-width="1.5"/>
<line x1="208.43" y1="346.45" x2="221.03" y2="346.45" stroke="#77AC30" stroke-width="1.5"/>
<rect x="211.23" y="505.72" width="8.6" height="4.3" rx="2.15" fill="#77AC30"/>
<line x1="239.96" y1="300.33" x2="239.96" y2="288.80" stroke="#77AC30" stroke-width="1.5"/>
<line x1="236.76" y1="288.80" x2="243.16" y2="288.80" stroke="#77AC30" stroke-width="1.5"/>
<line x1="239.96" y1="392.57" x2="239.96" y2="507.87" stroke="#77AC30" stroke-width="1.5"/>
<line x1="236.76" y1="507.87" x2="243.16" y2="507.87" stroke="#77AC30" stroke-width="1.5"/>
<rect x="233.66" y="300.33" width="12.6" height="92.24" fill="rgba(119,172,48,0.30)" stroke="#77AC30" stroke-width="1.5"/>
<line x1="233.66" y1="346.45" x2="246.26" y2="346.45" stroke="#77AC30" stroke-width="1.5"/>
<line x1="265.19" y1="311.86" x2="265.19" y2="288.80" stroke="#77AC30" stroke-width="1.5"/>
<line x1="261.99" y1="288.80" x2="268.39" y2="288.80" stroke="#77AC30" stroke-width="1.5"/>
<line x1="265.19" y1="438.69" x2="265.19" y2="507.87" stroke="#77AC30" stroke-width="1.5"/>
<line x1="261.99" y1="507.87" x2="268.39" y2="507.87" stroke="#77AC30" stroke-width="1.5"/>
<rect x="258.89" y="311.86" width="12.6" height="126.83" fill="rgba(119,172,48,0.30)" stroke="#77AC30" stroke-width="1.5"/>
<line x1="258.89" y1="369.51" x2="271.49" y2="369.51" stroke="#77AC30" stroke-width="1.5"/>
<line x1="290.42" y1="323.39" x2="290.42" y2="288.80" stroke="#77AC30" stroke-width="1.5"/>
<line x1="287.22" y1="288.80" x2="293.62" y2="288.80" stroke="#77AC30" stroke-width="1.5"/>
<rect x="284.12" y="323.39" width="12.6" height="184.48" fill="rgba(119,172,48,0.30)" stroke="#77AC30" stroke-width="1.5"/>
<line x1="284.12" y1="427.16" x2="296.72" y2="427.16" stroke="#77AC30" stroke-width="1.5"/>
<line x1="315.65" y1="392.57" x2="315.65" y2="288.80" stroke="#77AC30" stroke-width="1.5"/>
<line x1="312.45" y1="288.80" x2="318.85" y2="288.80" stroke="#77AC30" stroke-width="1.5"/>
<line x1="315.65" y1="507.87" x2="315.65" y2="519.40" stroke="#77AC30" stroke-width="1.5"/>
<line x1="312.45" y1="519.40" x2="318.85" y2="519.40" stroke="#77AC30" stroke-width="1.5"/>
<rect x="309.35" y="392.57" width="12.6" height="115.30" fill="rgba(119,172,48,0.30)" stroke="#77AC30" stroke-width="1.5"/>
<line x1="309.35" y1="461.75" x2="321.95" y2="461.75" stroke="#77AC30" stroke-width="1.5"/>
<line x1="340.88" y1="496.34" x2="340.88" y2="484.81" stroke="#77AC30" stroke-width="1.5"/>
<line x1="337.68" y1="484.81" x2="344.08" y2="484.81" stroke="#77AC30" stroke-width="1.5"/>
<line x1="340.88" y1="507.87" x2="340.88" y2="519.40" stroke="#77AC30" stroke-width="1.5"/>
<line x1="337.68" y1="519.40" x2="344.08" y2="519.40" stroke="#77AC30" stroke-width="1.5"/>
<rect x="334.58" y="496.34" width="12.6" height="11.53" fill="rgba(119,172,48,0.30)" stroke="#77AC30" stroke-width="1.5"/>
<line x1="334.58" y1="507.87" x2="347.18" y2="507.87" stroke="#77AC30" stroke-width="1.5"/>
<line x1="366.11" y1="496.34" x2="366.11" y2="484.81" stroke="#77AC30" stroke-width="1.5"/>
<line x1="362.91" y1="484.81" x2="369.31" y2="484.81" stroke="#77AC30" stroke-width="1.5"/>
<rect x="359.81" y="496.34" width="12.6" height="11.53" fill="rgba(119,172,48,0.30)" stroke="#77AC30" stroke-width="1.5"/>
<line x1="359.81" y1="507.87" x2="372.41" y2="507.87" stroke="#77AC30" stroke-width="1.5"/>
<line x1="385.04" y1="507.87" x2="397.64" y2="507.87" stroke="#77AC30" stroke-width="1.5"/>
<circle cx="392.14" cy="300.33" r="1.65" fill="none" stroke="#77AC30" stroke-width="1.1"/>
<rect x="387.84" y="309.71" width="8.6" height="4.3" rx="2.15" fill="#77AC30"/>
<rect x="387.84" y="344.30" width="8.6" height="4.3" rx="2.15" fill="#77AC30"/>
<rect x="387.84" y="355.83" width="8.6" height="4.3" rx="2.15" fill="#77AC30"/>
<rect x="387.84" y="378.89" width="8.6" height="4.3" rx="2.15" fill="#77AC30"/>
<circle cx="392.14" cy="392.57" r="1.65" fill="none" stroke="#77AC30" stroke-width="1.1"/>
<circle cx="392.14" cy="404.10" r="1.65" fill="none" stroke="#77AC30" stroke-width="1.1"/>
<circle cx="392.14" cy="415.63" r="1.65" fill="none" stroke="#77AC30" stroke-width="1.1"/>
<circle cx="392.14" cy="427.16" r="1.65" fill="none" stroke="#77AC30" stroke-width="1.1"/>
<rect x="387.84" y="436.54" width="8.6" height="4.3" rx="2.15" fill="#77AC30"/>
<circle cx="390.59" cy="461.75" r="1.65" fill="none" stroke="#77AC30" stroke-width="1.1"/>
<circle cx="393.69" cy="461.75" r="1.65" fill="none" stroke="#77AC30" stroke-width="1.1"/>
<circle cx="392.14" cy="473.28" r="1.65" fill="none" stroke="#77AC30" stroke-width="1.1"/>
<line x1="410.27" y1="507.87" x2="422.87" y2="507.87" stroke="#77AC30" stroke-width="1.5"/>
<rect x="413.07" y="286.65" width="8.6" height="4.3" rx="2.15" fill="#77AC30"/>
<rect x="413.07" y="298.18" width="8.6" height="4.3" rx="2.15" fill="#77AC30"/>
<rect x="413.07" y="309.71" width="8.6" height="4.3" rx="2.15" fill="#77AC30"/>
<rect x="413.07" y="321.24" width="8.6" height="4.3" rx="2.15" fill="#77AC30"/>
<rect x="413.07" y="344.30" width="8.6" height="4.3" rx="2.15" fill="#77AC30"/>
<circle cx="415.82" cy="357.98" r="1.65" fill="none" stroke="#77AC30" stroke-width="1.1"/>
<circle cx="418.92" cy="357.98" r="1.65" fill="none" stroke="#77AC30" stroke-width="1.1"/>
<circle cx="415.82" cy="392.57" r="1.65" fill="none" stroke="#77AC30" stroke-width="1.1"/>
<circle cx="418.92" cy="392.57" r="1.65" fill="none" stroke="#77AC30" stroke-width="1.1"/>
<circle cx="417.37" cy="404.10" r="1.65" fill="none" stroke="#77AC30" stroke-width="1.1"/>
<circle cx="417.37" cy="415.63" r="1.65" fill="none" stroke="#77AC30" stroke-width="1.1"/>
<circle cx="417.37" cy="427.16" r="1.65" fill="none" stroke="#77AC30" stroke-width="1.1"/>
<circle cx="415.82" cy="438.69" r="1.65" fill="none" stroke="#77AC30" stroke-width="1.1"/>
<circle cx="418.92" cy="438.69" r="1.65" fill="none" stroke="#77AC30" stroke-width="1.1"/>
<circle cx="415.82" cy="461.75" r="1.65" fill="none" stroke="#77AC30" stroke-width="1.1"/>
<circle cx="418.92" cy="461.75" r="1.65" fill="none" stroke="#77AC30" stroke-width="1.1"/>
<circle cx="415.82" cy="473.28" r="1.65" fill="none" stroke="#77AC30" stroke-width="1.1"/>
<circle cx="418.92" cy="473.28" r="1.65" fill="none" stroke="#77AC30" stroke-width="1.1"/>
<line x1="435.50" y1="507.87" x2="448.10" y2="507.87" stroke="#77AC30" stroke-width="1.5"/>
<rect x="438.30" y="286.65" width="8.6" height="4.3" rx="2.15" fill="#77AC30"/>
<rect x="438.30" y="298.18" width="8.6" height="4.3" rx="2.15" fill="#77AC30"/>
<circle cx="441.05" cy="323.39" r="1.65" fill="none" stroke="#77AC30" stroke-width="1.1"/>
<circle cx="444.15" cy="323.39" r="1.65" fill="none" stroke="#77AC30" stroke-width="1.1"/>
<circle cx="441.05" cy="334.92" r="1.65" fill="none" stroke="#77AC30" stroke-width="1.1"/>
<circle cx="444.15" cy="334.92" r="1.65" fill="none" stroke="#77AC30" stroke-width="1.1"/>
<circle cx="441.05" cy="346.45" r="1.65" fill="none" stroke="#77AC30" stroke-width="1.1"/>
<circle cx="444.15" cy="346.45" r="1.65" fill="none" stroke="#77AC30" stroke-width="1.1"/>
<circle cx="441.05" cy="357.98" r="1.65" fill="none" stroke="#77AC30" stroke-width="1.1"/>
<circle cx="444.15" cy="357.98" r="1.65" fill="none" stroke="#77AC30" stroke-width="1.1"/>
<rect x="438.30" y="367.36" width="8.6" height="4.3" rx="2.15" fill="#77AC30"/>
<circle cx="439.50" cy="381.04" r="1.65" fill="none" stroke="#77AC30" stroke-width="1.1"/>
<circle cx="442.60" cy="381.04" r="1.65" fill="none" stroke="#77AC30" stroke-width="1.1"/>
<circle cx="445.70" cy="381.04" r="1.65" fill="none" stroke="#77AC30" stroke-width="1.1"/>
<circle cx="442.60" cy="404.10" r="1.65" fill="none" stroke="#77AC30" stroke-width="1.1"/>
<circle cx="442.60" cy="415.63" r="1.65" fill="none" stroke="#77AC30" stroke-width="1.1"/>
<circle cx="442.60" cy="427.16" r="1.65" fill="none" stroke="#77AC30" stroke-width="1.1"/>
<circle cx="441.05" cy="438.69" r="1.65" fill="none" stroke="#77AC30" stroke-width="1.1"/>
<circle cx="444.15" cy="438.69" r="1.65" fill="none" stroke="#77AC30" stroke-width="1.1"/>
<circle cx="442.60" cy="450.22" r="1.65" fill="none" stroke="#77AC30" stroke-width="1.1"/>
<circle cx="439.50" cy="461.75" r="1.65" fill="none" stroke="#77AC30" stroke-width="1.1"/>
<circle cx="442.60" cy="461.75" r="1.65" fill="none" stroke="#77AC30" stroke-width="1.1"/>
<circle cx="445.70" cy="461.75" r="1.65" fill="none" stroke="#77AC30" stroke-width="1.1"/>
<line x1="460.73" y1="507.87" x2="473.33" y2="507.87" stroke="#77AC30" stroke-width="1.5"/>
<rect x="463.53" y="286.65" width="8.6" height="4.3" rx="2.15" fill="#77AC30"/>
<circle cx="467.83" cy="300.33" r="1.65" fill="none" stroke="#77AC30" stroke-width="1.1"/>
<circle cx="466.28" cy="311.86" r="1.65" fill="none" stroke="#77AC30" stroke-width="1.1"/>
<circle cx="469.38" cy="311.86" r="1.65" fill="none" stroke="#77AC30" stroke-width="1.1"/>
<rect x="463.53" y="321.24" width="8.6" height="4.3" rx="2.15" fill="#77AC30"/>
<circle cx="466.28" cy="334.92" r="1.65" fill="none" stroke="#77AC30" stroke-width="1.1"/>
<circle cx="469.38" cy="334.92" r="1.65" fill="none" stroke="#77AC30" stroke-width="1.1"/>
<circle cx="467.83" cy="346.45" r="1.65" fill="none" stroke="#77AC30" stroke-width="1.1"/>
<circle cx="466.28" cy="357.98" r="1.65" fill="none" stroke="#77AC30" stroke-width="1.1"/>
<circle cx="469.38" cy="357.98" r="1.65" fill="none" stroke="#77AC30" stroke-width="1.1"/>
<circle cx="466.28" cy="369.51" r="1.65" fill="none" stroke="#77AC30" stroke-width="1.1"/>
<circle cx="469.38" cy="369.51" r="1.65" fill="none" stroke="#77AC30" stroke-width="1.1"/>
<rect x="463.53" y="378.89" width="8.6" height="4.3" rx="2.15" fill="#77AC30"/>
<circle cx="466.28" cy="392.57" r="1.65" fill="none" stroke="#77AC30" stroke-width="1.1"/>
<circle cx="469.38" cy="392.57" r="1.65" fill="none" stroke="#77AC30" stroke-width="1.1"/>
<circle cx="467.83" cy="404.10" r="1.65" fill="none" stroke="#77AC30" stroke-width="1.1"/>
<circle cx="467.83" cy="415.63" r="1.65" fill="none" stroke="#77AC30" stroke-width="1.1"/>
<circle cx="467.83" cy="438.69" r="1.65" fill="none" stroke="#77AC30" stroke-width="1.1"/>
<circle cx="467.83" cy="461.75" r="1.65" fill="none" stroke="#77AC30" stroke-width="1.1"/>
<line x1="485.96" y1="507.87" x2="498.56" y2="507.87" stroke="#77AC30" stroke-width="1.5"/>
<rect x="488.76" y="286.65" width="8.6" height="4.3" rx="2.15" fill="#77AC30"/>
<circle cx="491.51" cy="300.33" r="1.65" fill="none" stroke="#77AC30" stroke-width="1.1"/>
<circle cx="494.61" cy="300.33" r="1.65" fill="none" stroke="#77AC30" stroke-width="1.1"/>
<circle cx="491.51" cy="311.86" r="1.65" fill="none" stroke="#77AC30" stroke-width="1.1"/>
<circle cx="494.61" cy="311.86" r="1.65" fill="none" stroke="#77AC30" stroke-width="1.1"/>
<circle cx="493.06" cy="323.39" r="1.65" fill="none" stroke="#77AC30" stroke-width="1.1"/>
<circle cx="491.51" cy="346.45" r="1.65" fill="none" stroke="#77AC30" stroke-width="1.1"/>
<circle cx="494.61" cy="346.45" r="1.65" fill="none" stroke="#77AC30" stroke-width="1.1"/>
<circle cx="491.51" cy="357.98" r="1.65" fill="none" stroke="#77AC30" stroke-width="1.1"/>
<circle cx="494.61" cy="357.98" r="1.65" fill="none" stroke="#77AC30" stroke-width="1.1"/>
<circle cx="491.51" cy="369.51" r="1.65" fill="none" stroke="#77AC30" stroke-width="1.1"/>
<circle cx="494.61" cy="369.51" r="1.65" fill="none" stroke="#77AC30" stroke-width="1.1"/>
<circle cx="491.51" cy="381.04" r="1.65" fill="none" stroke="#77AC30" stroke-width="1.1"/>
<circle cx="494.61" cy="381.04" r="1.65" fill="none" stroke="#77AC30" stroke-width="1.1"/>
<circle cx="493.06" cy="392.57" r="1.65" fill="none" stroke="#77AC30" stroke-width="1.1"/>
<circle cx="493.06" cy="415.63" r="1.65" fill="none" stroke="#77AC30" stroke-width="1.1"/>
<circle cx="493.06" cy="438.69" r="1.65" fill="none" stroke="#77AC30" stroke-width="1.1"/>
<circle cx="493.06" cy="450.22" r="1.65" fill="none" stroke="#77AC30" stroke-width="1.1"/>
<line x1="511.19" y1="507.87" x2="523.79" y2="507.87" stroke="#77AC30" stroke-width="1.5"/>
<rect x="513.99" y="286.65" width="8.6" height="4.3" rx="2.15" fill="#77AC30"/>
<circle cx="516.74" cy="300.33" r="1.65" fill="none" stroke="#77AC30" stroke-width="1.1"/>
<circle cx="519.84" cy="300.33" r="1.65" fill="none" stroke="#77AC30" stroke-width="1.1"/>
<circle cx="518.29" cy="311.86" r="1.65" fill="none" stroke="#77AC30" stroke-width="1.1"/>
<circle cx="518.29" cy="323.39" r="1.65" fill="none" stroke="#77AC30" stroke-width="1.1"/>
<circle cx="516.74" cy="346.45" r="1.65" fill="none" stroke="#77AC30" stroke-width="1.1"/>
<circle cx="519.84" cy="346.45" r="1.65" fill="none" stroke="#77AC30" stroke-width="1.1"/>
<circle cx="516.74" cy="357.98" r="1.65" fill="none" stroke="#77AC30" stroke-width="1.1"/>
<circle cx="519.84" cy="357.98" r="1.65" fill="none" stroke="#77AC30" stroke-width="1.1"/>
<circle cx="518.29" cy="369.51" r="1.65" fill="none" stroke="#77AC30" stroke-width="1.1"/>
<circle cx="518.29" cy="381.04" r="1.65" fill="none" stroke="#77AC30" stroke-width="1.1"/>
<circle cx="518.29" cy="392.57" r="1.65" fill="none" stroke="#77AC30" stroke-width="1.1"/>
<circle cx="518.29" cy="438.69" r="1.65" fill="none" stroke="#77AC30" stroke-width="1.1"/>
<line x1="536.42" y1="507.87" x2="549.02" y2="507.87" stroke="#77AC30" stroke-width="1.5"/>
<rect x="539.22" y="286.65" width="8.6" height="4.3" rx="2.15" fill="#77AC30"/>
<circle cx="543.52" cy="300.33" r="1.65" fill="none" stroke="#77AC30" stroke-width="1.1"/>
<circle cx="543.52" cy="311.86" r="1.65" fill="none" stroke="#77AC30" stroke-width="1.1"/>
<circle cx="543.52" cy="323.39" r="1.65" fill="none" stroke="#77AC30" stroke-width="1.1"/>
<circle cx="541.97" cy="369.51" r="1.65" fill="none" stroke="#77AC30" stroke-width="1.1"/>
<circle cx="545.07" cy="369.51" r="1.65" fill="none" stroke="#77AC30" stroke-width="1.1"/>
<circle cx="543.52" cy="461.75" r="1.65" fill="none" stroke="#77AC30" stroke-width="1.1"/>
<circle cx="543.52" cy="473.28" r="1.65" fill="none" stroke="#77AC30" stroke-width="1.1"/>
<line x1="561.65" y1="507.87" x2="574.25" y2="507.87" stroke="#77AC30" stroke-width="1.5"/>
<rect x="564.45" y="286.65" width="8.6" height="4.3" rx="2.15" fill="#77AC30"/>
<circle cx="567.20" cy="300.33" r="1.65" fill="none" stroke="#77AC30" stroke-width="1.1"/>
<circle cx="570.30" cy="300.33" r="1.65" fill="none" stroke="#77AC30" stroke-width="1.1"/>
<circle cx="568.75" cy="323.39" r="1.65" fill="none" stroke="#77AC30" stroke-width="1.1"/>
<circle cx="568.75" cy="346.45" r="1.65" fill="none" stroke="#77AC30" stroke-width="1.1"/>
<circle cx="568.75" cy="392.57" r="1.65" fill="none" stroke="#77AC30" stroke-width="1.1"/>
<circle cx="568.75" cy="461.75" r="1.65" fill="none" stroke="#77AC30" stroke-width="1.1"/>
<circle cx="568.75" cy="473.28" r="1.65" fill="none" stroke="#77AC30" stroke-width="1.1"/>
<polyline points="88.58,454.26 113.81,426.35 139.04,398.33 164.27,371.12 189.50,353.37 214.73,347.60 239.96,353.37 265.19,378.73 290.42,416.78 315.65,451.37 340.88,476.28 366.11,489.42 391.34,496.34 416.57,500.95 441.80,502.10 467.03,502.80 492.26,503.83 517.49,504.64 542.72,505.10 567.95,505.33" fill="none" stroke="#77AC30" stroke-width="2" stroke-linejoin="round"/>
<circle cx="88.58" cy="454.26" r="3.7" fill="#77AC30"/>
<circle cx="113.81" cy="426.35" r="3.7" fill="#77AC30"/>
<circle cx="139.04" cy="398.33" r="3.7" fill="#77AC30"/>
<circle cx="164.27" cy="371.12" r="3.7" fill="#77AC30"/>
<circle cx="189.50" cy="353.37" r="3.7" fill="#77AC30"/>
<circle cx="214.73" cy="347.60" r="3.7" fill="#77AC30"/>
<circle cx="239.96" cy="353.37" r="3.7" fill="#77AC30"/>
<circle cx="265.19" cy="378.73" r="3.7" fill="#77AC30"/>
<circle cx="290.42" cy="416.78" r="3.7" fill="#77AC30"/>
<circle cx="315.65" cy="451.37" r="3.7" fill="#77AC30"/>
<circle cx="340.88" cy="476.28" r="3.7" fill="#77AC30"/>
<circle cx="366.11" cy="489.42" r="3.7" fill="#77AC30"/>
<circle cx="391.34" cy="496.34" r="3.7" fill="#77AC30"/>
<circle cx="416.57" cy="500.95" r="3.7" fill="#77AC30"/>
<circle cx="441.80" cy="502.10" r="3.7" fill="#77AC30"/>
<circle cx="467.03" cy="502.80" r="3.7" fill="#77AC30"/>
<circle cx="492.26" cy="503.83" r="3.7" fill="#77AC30"/>
<circle cx="517.49" cy="504.64" r="3.7" fill="#77AC30"/>
<circle cx="542.72" cy="505.10" r="3.7" fill="#77AC30"/>
<circle cx="567.95" cy="505.33" r="3.7" fill="#77AC30"/>
<line x1="88.58" y1="473.28" x2="88.58" y2="461.75" stroke="#7E2F8E" stroke-width="1.5"/>
<line x1="85.38" y1="461.75" x2="91.78" y2="461.75" stroke="#7E2F8E" stroke-width="1.5"/>
<line x1="88.58" y1="484.81" x2="88.58" y2="496.34" stroke="#7E2F8E" stroke-width="1.5"/>
<line x1="85.38" y1="496.34" x2="91.78" y2="496.34" stroke="#7E2F8E" stroke-width="1.5"/>
<rect x="82.28" y="473.28" width="12.6" height="11.53" fill="rgba(126,47,142,0.30)" stroke="#7E2F8E" stroke-width="1.5"/>
<line x1="82.28" y1="484.81" x2="94.88" y2="484.81" stroke="#7E2F8E" stroke-width="1.5"/>
<rect x="85.08" y="505.72" width="8.6" height="4.3" rx="2.15" fill="#7E2F8E"/>
<rect x="85.08" y="448.07" width="8.6" height="4.3" rx="2.15" fill="#7E2F8E"/>
<circle cx="87.83" cy="438.69" r="1.65" fill="none" stroke="#7E2F8E" stroke-width="1.1"/>
<circle cx="90.93" cy="438.69" r="1.65" fill="none" stroke="#7E2F8E" stroke-width="1.1"/>
<circle cx="87.83" cy="427.16" r="1.65" fill="none" stroke="#7E2F8E" stroke-width="1.1"/>
<circle cx="90.93" cy="427.16" r="1.65" fill="none" stroke="#7E2F8E" stroke-width="1.1"/>
<line x1="113.81" y1="450.22" x2="113.81" y2="415.63" stroke="#7E2F8E" stroke-width="1.5"/>
<line x1="110.61" y1="415.63" x2="117.01" y2="415.63" stroke="#7E2F8E" stroke-width="1.5"/>
<line x1="113.81" y1="473.28" x2="113.81" y2="507.87" stroke="#7E2F8E" stroke-width="1.5"/>
<line x1="110.61" y1="507.87" x2="117.01" y2="507.87" stroke="#7E2F8E" stroke-width="1.5"/>
<rect x="107.51" y="450.22" width="12.6" height="23.06" fill="rgba(126,47,142,0.30)" stroke="#7E2F8E" stroke-width="1.5"/>
<line x1="107.51" y1="461.75" x2="120.11" y2="461.75" stroke="#7E2F8E" stroke-width="1.5"/>
<rect x="110.31" y="401.95" width="8.6" height="4.3" rx="2.15" fill="#7E2F8E"/>
<rect x="110.31" y="390.42" width="8.6" height="4.3" rx="2.15" fill="#7E2F8E"/>
<circle cx="113.06" cy="381.04" r="1.65" fill="none" stroke="#7E2F8E" stroke-width="1.1"/>
<circle cx="116.16" cy="381.04" r="1.65" fill="none" stroke="#7E2F8E" stroke-width="1.1"/>
<circle cx="113.06" cy="357.98" r="1.65" fill="none" stroke="#7E2F8E" stroke-width="1.1"/>
<circle cx="116.16" cy="357.98" r="1.65" fill="none" stroke="#7E2F8E" stroke-width="1.1"/>
<line x1="139.04" y1="438.69" x2="139.04" y2="404.10" stroke="#7E2F8E" stroke-width="1.5"/>
<line x1="135.84" y1="404.10" x2="142.24" y2="404.10" stroke="#7E2F8E" stroke-width="1.5"/>
<line x1="139.04" y1="461.75" x2="139.04" y2="496.34" stroke="#7E2F8E" stroke-width="1.5"/>
<line x1="135.84" y1="496.34" x2="142.24" y2="496.34" stroke="#7E2F8E" stroke-width="1.5"/>
<rect x="132.74" y="438.69" width="12.6" height="23.06" fill="rgba(126,47,142,0.30)" stroke="#7E2F8E" stroke-width="1.5"/>
<line x1="132.74" y1="450.22" x2="145.34" y2="450.22" stroke="#7E2F8E" stroke-width="1.5"/>
<rect x="135.54" y="390.42" width="8.6" height="4.3" rx="2.15" fill="#7E2F8E"/>
<rect x="135.54" y="378.89" width="8.6" height="4.3" rx="2.15" fill="#7E2F8E"/>
<rect x="135.54" y="367.36" width="8.6" height="4.3" rx="2.15" fill="#7E2F8E"/>
<rect x="135.54" y="355.83" width="8.6" height="4.3" rx="2.15" fill="#7E2F8E"/>
<circle cx="138.29" cy="346.45" r="1.65" fill="none" stroke="#7E2F8E" stroke-width="1.1"/>
<circle cx="141.39" cy="346.45" r="1.65" fill="none" stroke="#7E2F8E" stroke-width="1.1"/>
<circle cx="138.29" cy="334.92" r="1.65" fill="none" stroke="#7E2F8E" stroke-width="1.1"/>
<circle cx="141.39" cy="334.92" r="1.65" fill="none" stroke="#7E2F8E" stroke-width="1.1"/>
<circle cx="139.84" cy="323.39" r="1.65" fill="none" stroke="#7E2F8E" stroke-width="1.1"/>
<circle cx="139.84" cy="311.86" r="1.65" fill="none" stroke="#7E2F8E" stroke-width="1.1"/>
<circle cx="139.84" cy="288.80" r="1.65" fill="none" stroke="#7E2F8E" stroke-width="1.1"/>
<line x1="164.27" y1="404.10" x2="164.27" y2="334.92" stroke="#7E2F8E" stroke-width="1.5"/>
<line x1="161.07" y1="334.92" x2="167.47" y2="334.92" stroke="#7E2F8E" stroke-width="1.5"/>
<line x1="164.27" y1="450.22" x2="164.27" y2="507.87" stroke="#7E2F8E" stroke-width="1.5"/>
<line x1="161.07" y1="507.87" x2="167.47" y2="507.87" stroke="#7E2F8E" stroke-width="1.5"/>
<rect x="157.97" y="404.10" width="12.6" height="46.12" fill="rgba(126,47,142,0.30)" stroke="#7E2F8E" stroke-width="1.5"/>
<line x1="157.97" y1="427.16" x2="170.57" y2="427.16" stroke="#7E2F8E" stroke-width="1.5"/>
<rect x="160.77" y="321.24" width="8.6" height="4.3" rx="2.15" fill="#7E2F8E"/>
<rect x="160.77" y="309.71" width="8.6" height="4.3" rx="2.15" fill="#7E2F8E"/>
<rect x="160.77" y="298.18" width="8.6" height="4.3" rx="2.15" fill="#7E2F8E"/>
<rect x="160.77" y="286.65" width="8.6" height="4.3" rx="2.15" fill="#7E2F8E"/>
<line x1="189.50" y1="381.04" x2="189.50" y2="300.33" stroke="#7E2F8E" stroke-width="1.5"/>
<line x1="186.30" y1="300.33" x2="192.70" y2="300.33" stroke="#7E2F8E" stroke-width="1.5"/>
<line x1="189.50" y1="438.69" x2="189.50" y2="507.87" stroke="#7E2F8E" stroke-width="1.5"/>
<line x1="186.30" y1="507.87" x2="192.70" y2="507.87" stroke="#7E2F8E" stroke-width="1.5"/>
<rect x="183.20" y="381.04" width="12.6" height="57.65" fill="rgba(126,47,142,0.30)" stroke="#7E2F8E" stroke-width="1.5"/>
<line x1="183.20" y1="415.63" x2="195.80" y2="415.63" stroke="#7E2F8E" stroke-width="1.5"/>
<rect x="186.00" y="286.65" width="8.6" height="4.3" rx="2.15" fill="#7E2F8E"/>
<line x1="214.73" y1="369.51" x2="214.73" y2="288.80" stroke="#7E2F8E" stroke-width="1.5"/>
<line x1="211.53" y1="288.80" x2="217.93" y2="288.80" stroke="#7E2F8E" stroke-width="1.5"/>
<line x1="214.73" y1="438.69" x2="214.73" y2="507.87" stroke="#7E2F8E" stroke-width="1.5"/>
<line x1="211.53" y1="507.87" x2="217.93" y2="507.87" stroke="#7E2F8E" stroke-width="1.5"/>
<rect x="208.43" y="369.51" width="12.6" height="69.18" fill="rgba(126,47,142,0.30)" stroke="#7E2F8E" stroke-width="1.5"/>
<line x1="208.43" y1="381.04" x2="221.03" y2="381.04" stroke="#7E2F8E" stroke-width="1.5"/>
<line x1="239.96" y1="369.51" x2="239.96" y2="288.80" stroke="#7E2F8E" stroke-width="1.5"/>
<line x1="236.76" y1="288.80" x2="243.16" y2="288.80" stroke="#7E2F8E" stroke-width="1.5"/>
<line x1="239.96" y1="461.75" x2="239.96" y2="507.87" stroke="#7E2F8E" stroke-width="1.5"/>
<line x1="236.76" y1="507.87" x2="243.16" y2="507.87" stroke="#7E2F8E" stroke-width="1.5"/>
<rect x="233.66" y="369.51" width="12.6" height="92.24" fill="rgba(126,47,142,0.30)" stroke="#7E2F8E" stroke-width="1.5"/>
<line x1="233.66" y1="415.63" x2="246.26" y2="415.63" stroke="#7E2F8E" stroke-width="1.5"/>
<line x1="265.19" y1="392.57" x2="265.19" y2="288.80" stroke="#7E2F8E" stroke-width="1.5"/>
<line x1="261.99" y1="288.80" x2="268.39" y2="288.80" stroke="#7E2F8E" stroke-width="1.5"/>
<rect x="258.89" y="392.57" width="12.6" height="115.30" fill="rgba(126,47,142,0.30)" stroke="#7E2F8E" stroke-width="1.5"/>
<line x1="258.89" y1="461.75" x2="271.49" y2="461.75" stroke="#7E2F8E" stroke-width="1.5"/>
<line x1="290.42" y1="461.75" x2="290.42" y2="392.57" stroke="#7E2F8E" stroke-width="1.5"/>
<line x1="287.22" y1="392.57" x2="293.62" y2="392.57" stroke="#7E2F8E" stroke-width="1.5"/>
<rect x="284.12" y="461.75" width="12.6" height="46.12" fill="rgba(126,47,142,0.30)" stroke="#7E2F8E" stroke-width="1.5"/>
<line x1="284.12" y1="484.81" x2="296.72" y2="484.81" stroke="#7E2F8E" stroke-width="1.5"/>
<rect x="286.92" y="378.89" width="8.6" height="4.3" rx="2.15" fill="#7E2F8E"/>
<rect x="286.92" y="367.36" width="8.6" height="4.3" rx="2.15" fill="#7E2F8E"/>
<rect x="286.92" y="355.83" width="8.6" height="4.3" rx="2.15" fill="#7E2F8E"/>
<rect x="286.92" y="344.30" width="8.6" height="4.3" rx="2.15" fill="#7E2F8E"/>
<rect x="286.92" y="332.77" width="8.6" height="4.3" rx="2.15" fill="#7E2F8E"/>
<rect x="286.92" y="321.24" width="8.6" height="4.3" rx="2.15" fill="#7E2F8E"/>
<rect x="286.92" y="309.71" width="8.6" height="4.3" rx="2.15" fill="#7E2F8E"/>
<rect x="286.92" y="298.18" width="8.6" height="4.3" rx="2.15" fill="#7E2F8E"/>
<rect x="286.92" y="286.65" width="8.6" height="4.3" rx="2.15" fill="#7E2F8E"/>
<line x1="315.65" y1="496.34" x2="315.65" y2="484.81" stroke="#7E2F8E" stroke-width="1.5"/>
<line x1="312.45" y1="484.81" x2="318.85" y2="484.81" stroke="#7E2F8E" stroke-width="1.5"/>
<line x1="315.65" y1="507.87" x2="315.65" y2="519.40" stroke="#7E2F8E" stroke-width="1.5"/>
<line x1="312.45" y1="519.40" x2="318.85" y2="519.40" stroke="#7E2F8E" stroke-width="1.5"/>
<rect x="309.35" y="496.34" width="12.6" height="11.53" fill="rgba(126,47,142,0.30)" stroke="#7E2F8E" stroke-width="1.5"/>
<line x1="309.35" y1="507.87" x2="321.95" y2="507.87" stroke="#7E2F8E" stroke-width="1.5"/>
<rect x="312.15" y="471.13" width="8.6" height="4.3" rx="2.15" fill="#7E2F8E"/>
<rect x="312.15" y="459.60" width="8.6" height="4.3" rx="2.15" fill="#7E2F8E"/>
<rect x="312.15" y="448.07" width="8.6" height="4.3" rx="2.15" fill="#7E2F8E"/>
<rect x="312.15" y="436.54" width="8.6" height="4.3" rx="2.15" fill="#7E2F8E"/>
<rect x="312.15" y="425.01" width="8.6" height="4.3" rx="2.15" fill="#7E2F8E"/>
<rect x="312.15" y="413.48" width="8.6" height="4.3" rx="2.15" fill="#7E2F8E"/>
<rect x="312.15" y="401.95" width="8.6" height="4.3" rx="2.15" fill="#7E2F8E"/>
<rect x="312.15" y="390.42" width="8.6" height="4.3" rx="2.15" fill="#7E2F8E"/>
<rect x="312.15" y="378.89" width="8.6" height="4.3" rx="2.15" fill="#7E2F8E"/>
<rect x="312.15" y="367.36" width="8.6" height="4.3" rx="2.15" fill="#7E2F8E"/>
<rect x="312.15" y="355.83" width="8.6" height="4.3" rx="2.15" fill="#7E2F8E"/>
<rect x="312.15" y="344.30" width="8.6" height="4.3" rx="2.15" fill="#7E2F8E"/>
<rect x="312.15" y="332.77" width="8.6" height="4.3" rx="2.15" fill="#7E2F8E"/>
<rect x="312.15" y="321.24" width="8.6" height="4.3" rx="2.15" fill="#7E2F8E"/>
<rect x="312.15" y="309.71" width="8.6" height="4.3" rx="2.15" fill="#7E2F8E"/>
<rect x="312.15" y="298.18" width="8.6" height="4.3" rx="2.15" fill="#7E2F8E"/>
<rect x="312.15" y="286.65" width="8.6" height="4.3" rx="2.15" fill="#7E2F8E"/>
<line x1="340.88" y1="496.34" x2="340.88" y2="484.81" stroke="#7E2F8E" stroke-width="1.5"/>
<line x1="337.68" y1="484.81" x2="344.08" y2="484.81" stroke="#7E2F8E" stroke-width="1.5"/>
<line x1="340.88" y1="507.87" x2="340.88" y2="519.40" stroke="#7E2F8E" stroke-width="1.5"/>
<line x1="337.68" y1="519.40" x2="344.08" y2="519.40" stroke="#7E2F8E" stroke-width="1.5"/>
<rect x="334.58" y="496.34" width="12.6" height="11.53" fill="rgba(126,47,142,0.30)" stroke="#7E2F8E" stroke-width="1.5"/>
<line x1="334.58" y1="507.87" x2="347.18" y2="507.87" stroke="#7E2F8E" stroke-width="1.5"/>
<rect x="337.38" y="471.13" width="8.6" height="4.3" rx="2.15" fill="#7E2F8E"/>
<rect x="337.38" y="459.60" width="8.6" height="4.3" rx="2.15" fill="#7E2F8E"/>
<rect x="337.38" y="448.07" width="8.6" height="4.3" rx="2.15" fill="#7E2F8E"/>
<rect x="337.38" y="436.54" width="8.6" height="4.3" rx="2.15" fill="#7E2F8E"/>
<rect x="337.38" y="425.01" width="8.6" height="4.3" rx="2.15" fill="#7E2F8E"/>
<rect x="337.38" y="413.48" width="8.6" height="4.3" rx="2.15" fill="#7E2F8E"/>
<rect x="337.38" y="401.95" width="8.6" height="4.3" rx="2.15" fill="#7E2F8E"/>
<rect x="337.38" y="390.42" width="8.6" height="4.3" rx="2.15" fill="#7E2F8E"/>
<rect x="337.38" y="378.89" width="8.6" height="4.3" rx="2.15" fill="#7E2F8E"/>
<rect x="337.38" y="367.36" width="8.6" height="4.3" rx="2.15" fill="#7E2F8E"/>
<rect x="337.38" y="355.83" width="8.6" height="4.3" rx="2.15" fill="#7E2F8E"/>
<rect x="337.38" y="344.30" width="8.6" height="4.3" rx="2.15" fill="#7E2F8E"/>
<rect x="337.38" y="332.77" width="8.6" height="4.3" rx="2.15" fill="#7E2F8E"/>
<rect x="337.38" y="321.24" width="8.6" height="4.3" rx="2.15" fill="#7E2F8E"/>
<rect x="337.38" y="309.71" width="8.6" height="4.3" rx="2.15" fill="#7E2F8E"/>
<rect x="337.38" y="298.18" width="8.6" height="4.3" rx="2.15" fill="#7E2F8E"/>
<rect x="337.38" y="286.65" width="8.6" height="4.3" rx="2.15" fill="#7E2F8E"/>
<line x1="359.81" y1="507.87" x2="372.41" y2="507.87" stroke="#7E2F8E" stroke-width="1.5"/>
<rect x="362.61" y="494.19" width="8.6" height="4.3" rx="2.15" fill="#7E2F8E"/>
<rect x="362.61" y="482.66" width="8.6" height="4.3" rx="2.15" fill="#7E2F8E"/>
<rect x="362.61" y="471.13" width="8.6" height="4.3" rx="2.15" fill="#7E2F8E"/>
<rect x="362.61" y="459.60" width="8.6" height="4.3" rx="2.15" fill="#7E2F8E"/>
<rect x="362.61" y="448.07" width="8.6" height="4.3" rx="2.15" fill="#7E2F8E"/>
<rect x="362.61" y="436.54" width="8.6" height="4.3" rx="2.15" fill="#7E2F8E"/>
<rect x="362.61" y="425.01" width="8.6" height="4.3" rx="2.15" fill="#7E2F8E"/>
<rect x="362.61" y="413.48" width="8.6" height="4.3" rx="2.15" fill="#7E2F8E"/>
<rect x="362.61" y="401.95" width="8.6" height="4.3" rx="2.15" fill="#7E2F8E"/>
<rect x="362.61" y="390.42" width="8.6" height="4.3" rx="2.15" fill="#7E2F8E"/>
<rect x="362.61" y="378.89" width="8.6" height="4.3" rx="2.15" fill="#7E2F8E"/>
<rect x="362.61" y="367.36" width="8.6" height="4.3" rx="2.15" fill="#7E2F8E"/>
<rect x="362.61" y="355.83" width="8.6" height="4.3" rx="2.15" fill="#7E2F8E"/>
<rect x="362.61" y="344.30" width="8.6" height="4.3" rx="2.15" fill="#7E2F8E"/>
<rect x="362.61" y="332.77" width="8.6" height="4.3" rx="2.15" fill="#7E2F8E"/>
<rect x="362.61" y="321.24" width="8.6" height="4.3" rx="2.15" fill="#7E2F8E"/>
<rect x="362.61" y="309.71" width="8.6" height="4.3" rx="2.15" fill="#7E2F8E"/>
<rect x="362.61" y="298.18" width="8.6" height="4.3" rx="2.15" fill="#7E2F8E"/>
<rect x="362.61" y="286.65" width="8.6" height="4.3" rx="2.15" fill="#7E2F8E"/>
<circle cx="365.36" cy="519.40" r="1.65" fill="none" stroke="#7E2F8E" stroke-width="1.1"/>
<circle cx="368.46" cy="519.40" r="1.65" fill="none" stroke="#7E2F8E" stroke-width="1.1"/>
<line x1="385.04" y1="507.87" x2="397.64" y2="507.87" stroke="#7E2F8E" stroke-width="1.5"/>
<rect x="387.84" y="286.65" width="8.6" height="4.3" rx="2.15" fill="#7E2F8E"/>
<rect x="387.84" y="298.18" width="8.6" height="4.3" rx="2.15" fill="#7E2F8E"/>
<circle cx="392.14" cy="311.86" r="1.65" fill="none" stroke="#7E2F8E" stroke-width="1.1"/>
<rect x="387.84" y="321.24" width="8.6" height="4.3" rx="2.15" fill="#7E2F8E"/>
<rect x="387.84" y="332.77" width="8.6" height="4.3" rx="2.15" fill="#7E2F8E"/>
<circle cx="392.14" cy="346.45" r="1.65" fill="none" stroke="#7E2F8E" stroke-width="1.1"/>
<circle cx="392.14" cy="357.98" r="1.65" fill="none" stroke="#7E2F8E" stroke-width="1.1"/>
<rect x="387.84" y="367.36" width="8.6" height="4.3" rx="2.15" fill="#7E2F8E"/>
<circle cx="392.14" cy="381.04" r="1.65" fill="none" stroke="#7E2F8E" stroke-width="1.1"/>
<circle cx="390.59" cy="392.57" r="1.65" fill="none" stroke="#7E2F8E" stroke-width="1.1"/>
<circle cx="393.69" cy="392.57" r="1.65" fill="none" stroke="#7E2F8E" stroke-width="1.1"/>
<circle cx="390.59" cy="404.10" r="1.65" fill="none" stroke="#7E2F8E" stroke-width="1.1"/>
<circle cx="393.69" cy="404.10" r="1.65" fill="none" stroke="#7E2F8E" stroke-width="1.1"/>
<circle cx="390.59" cy="415.63" r="1.65" fill="none" stroke="#7E2F8E" stroke-width="1.1"/>
<circle cx="393.69" cy="415.63" r="1.65" fill="none" stroke="#7E2F8E" stroke-width="1.1"/>
<circle cx="390.59" cy="427.16" r="1.65" fill="none" stroke="#7E2F8E" stroke-width="1.1"/>
<circle cx="393.69" cy="427.16" r="1.65" fill="none" stroke="#7E2F8E" stroke-width="1.1"/>
<circle cx="392.14" cy="438.69" r="1.65" fill="none" stroke="#7E2F8E" stroke-width="1.1"/>
<circle cx="390.59" cy="450.22" r="1.65" fill="none" stroke="#7E2F8E" stroke-width="1.1"/>
<circle cx="393.69" cy="450.22" r="1.65" fill="none" stroke="#7E2F8E" stroke-width="1.1"/>
<rect x="387.84" y="471.13" width="8.6" height="4.3" rx="2.15" fill="#7E2F8E"/>
<rect x="387.84" y="482.66" width="8.6" height="4.3" rx="2.15" fill="#7E2F8E"/>
<rect x="387.84" y="494.19" width="8.6" height="4.3" rx="2.15" fill="#7E2F8E"/>
<rect x="387.84" y="517.25" width="8.6" height="4.3" rx="2.15" fill="#7E2F8E"/>
<line x1="410.27" y1="507.87" x2="422.87" y2="507.87" stroke="#7E2F8E" stroke-width="1.5"/>
<circle cx="417.37" cy="288.80" r="1.65" fill="none" stroke="#7E2F8E" stroke-width="1.1"/>
<circle cx="417.37" cy="300.33" r="1.65" fill="none" stroke="#7E2F8E" stroke-width="1.1"/>
<circle cx="417.37" cy="323.39" r="1.65" fill="none" stroke="#7E2F8E" stroke-width="1.1"/>
<circle cx="415.82" cy="334.92" r="1.65" fill="none" stroke="#7E2F8E" stroke-width="1.1"/>
<circle cx="418.92" cy="334.92" r="1.65" fill="none" stroke="#7E2F8E" stroke-width="1.1"/>
<circle cx="417.37" cy="357.98" r="1.65" fill="none" stroke="#7E2F8E" stroke-width="1.1"/>
<circle cx="415.82" cy="369.51" r="1.65" fill="none" stroke="#7E2F8E" stroke-width="1.1"/>
<circle cx="418.92" cy="369.51" r="1.65" fill="none" stroke="#7E2F8E" stroke-width="1.1"/>
<circle cx="414.27" cy="381.04" r="1.65" fill="none" stroke="#7E2F8E" stroke-width="1.1"/>
<circle cx="417.37" cy="381.04" r="1.65" fill="none" stroke="#7E2F8E" stroke-width="1.1"/>
<circle cx="420.47" cy="381.04" r="1.65" fill="none" stroke="#7E2F8E" stroke-width="1.1"/>
<circle cx="417.37" cy="392.57" r="1.65" fill="none" stroke="#7E2F8E" stroke-width="1.1"/>
<circle cx="415.82" cy="404.10" r="1.65" fill="none" stroke="#7E2F8E" stroke-width="1.1"/>
<circle cx="418.92" cy="404.10" r="1.65" fill="none" stroke="#7E2F8E" stroke-width="1.1"/>
<circle cx="415.82" cy="415.63" r="1.65" fill="none" stroke="#7E2F8E" stroke-width="1.1"/>
<circle cx="418.92" cy="415.63" r="1.65" fill="none" stroke="#7E2F8E" stroke-width="1.1"/>
<circle cx="415.82" cy="450.22" r="1.65" fill="none" stroke="#7E2F8E" stroke-width="1.1"/>
<circle cx="418.92" cy="450.22" r="1.65" fill="none" stroke="#7E2F8E" stroke-width="1.1"/>
<circle cx="417.37" cy="473.28" r="1.65" fill="none" stroke="#7E2F8E" stroke-width="1.1"/>
<rect x="413.07" y="482.66" width="8.6" height="4.3" rx="2.15" fill="#7E2F8E"/>
<rect x="413.07" y="494.19" width="8.6" height="4.3" rx="2.15" fill="#7E2F8E"/>
<rect x="413.07" y="517.25" width="8.6" height="4.3" rx="2.15" fill="#7E2F8E"/>
<line x1="435.50" y1="507.87" x2="448.10" y2="507.87" stroke="#7E2F8E" stroke-width="1.5"/>
<circle cx="442.60" cy="288.80" r="1.65" fill="none" stroke="#7E2F8E" stroke-width="1.1"/>
<circle cx="441.05" cy="311.86" r="1.65" fill="none" stroke="#7E2F8E" stroke-width="1.1"/>
<circle cx="444.15" cy="311.86" r="1.65" fill="none" stroke="#7E2F8E" stroke-width="1.1"/>
<circle cx="441.05" cy="392.57" r="1.65" fill="none" stroke="#7E2F8E" stroke-width="1.1"/>
<circle cx="444.15" cy="392.57" r="1.65" fill="none" stroke="#7E2F8E" stroke-width="1.1"/>
<circle cx="441.05" cy="404.10" r="1.65" fill="none" stroke="#7E2F8E" stroke-width="1.1"/>
<circle cx="444.15" cy="404.10" r="1.65" fill="none" stroke="#7E2F8E" stroke-width="1.1"/>
<circle cx="442.60" cy="415.63" r="1.65" fill="none" stroke="#7E2F8E" stroke-width="1.1"/>
<circle cx="441.05" cy="427.16" r="1.65" fill="none" stroke="#7E2F8E" stroke-width="1.1"/>
<circle cx="444.15" cy="427.16" r="1.65" fill="none" stroke="#7E2F8E" stroke-width="1.1"/>
<circle cx="442.60" cy="450.22" r="1.65" fill="none" stroke="#7E2F8E" stroke-width="1.1"/>
<circle cx="441.05" cy="473.28" r="1.65" fill="none" stroke="#7E2F8E" stroke-width="1.1"/>
<circle cx="444.15" cy="473.28" r="1.65" fill="none" stroke="#7E2F8E" stroke-width="1.1"/>
<rect x="438.30" y="482.66" width="8.6" height="4.3" rx="2.15" fill="#7E2F8E"/>
<rect x="438.30" y="494.19" width="8.6" height="4.3" rx="2.15" fill="#7E2F8E"/>
<rect x="438.30" y="517.25" width="8.6" height="4.3" rx="2.15" fill="#7E2F8E"/>
<line x1="460.73" y1="507.87" x2="473.33" y2="507.87" stroke="#7E2F8E" stroke-width="1.5"/>
<rect x="463.53" y="286.65" width="8.6" height="4.3" rx="2.15" fill="#7E2F8E"/>
<circle cx="467.83" cy="346.45" r="1.65" fill="none" stroke="#7E2F8E" stroke-width="1.1"/>
<circle cx="466.28" cy="404.10" r="1.65" fill="none" stroke="#7E2F8E" stroke-width="1.1"/>
<circle cx="469.38" cy="404.10" r="1.65" fill="none" stroke="#7E2F8E" stroke-width="1.1"/>
<circle cx="467.83" cy="450.22" r="1.65" fill="none" stroke="#7E2F8E" stroke-width="1.1"/>
<circle cx="467.83" cy="461.75" r="1.65" fill="none" stroke="#7E2F8E" stroke-width="1.1"/>
<circle cx="466.28" cy="473.28" r="1.65" fill="none" stroke="#7E2F8E" stroke-width="1.1"/>
<circle cx="469.38" cy="473.28" r="1.65" fill="none" stroke="#7E2F8E" stroke-width="1.1"/>
<rect x="463.53" y="482.66" width="8.6" height="4.3" rx="2.15" fill="#7E2F8E"/>
<rect x="463.53" y="494.19" width="8.6" height="4.3" rx="2.15" fill="#7E2F8E"/>
<rect x="463.53" y="517.25" width="8.6" height="4.3" rx="2.15" fill="#7E2F8E"/>
<line x1="485.96" y1="507.87" x2="498.56" y2="507.87" stroke="#7E2F8E" stroke-width="1.5"/>
<circle cx="493.06" cy="381.04" r="1.65" fill="none" stroke="#7E2F8E" stroke-width="1.1"/>
<circle cx="493.06" cy="438.69" r="1.65" fill="none" stroke="#7E2F8E" stroke-width="1.1"/>
<circle cx="491.51" cy="461.75" r="1.65" fill="none" stroke="#7E2F8E" stroke-width="1.1"/>
<circle cx="494.61" cy="461.75" r="1.65" fill="none" stroke="#7E2F8E" stroke-width="1.1"/>
<circle cx="489.96" cy="473.28" r="1.65" fill="none" stroke="#7E2F8E" stroke-width="1.1"/>
<circle cx="493.06" cy="473.28" r="1.65" fill="none" stroke="#7E2F8E" stroke-width="1.1"/>
<circle cx="496.16" cy="473.28" r="1.65" fill="none" stroke="#7E2F8E" stroke-width="1.1"/>
<rect x="488.76" y="482.66" width="8.6" height="4.3" rx="2.15" fill="#7E2F8E"/>
<rect x="488.76" y="494.19" width="8.6" height="4.3" rx="2.15" fill="#7E2F8E"/>
<rect x="488.76" y="517.25" width="8.6" height="4.3" rx="2.15" fill="#7E2F8E"/>
<line x1="511.19" y1="507.87" x2="523.79" y2="507.87" stroke="#7E2F8E" stroke-width="1.5"/>
<circle cx="518.29" cy="288.80" r="1.65" fill="none" stroke="#7E2F8E" stroke-width="1.1"/>
<circle cx="518.29" cy="415.63" r="1.65" fill="none" stroke="#7E2F8E" stroke-width="1.1"/>
<rect x="513.99" y="471.13" width="8.6" height="4.3" rx="2.15" fill="#7E2F8E"/>
<rect x="513.99" y="482.66" width="8.6" height="4.3" rx="2.15" fill="#7E2F8E"/>
<rect x="513.99" y="494.19" width="8.6" height="4.3" rx="2.15" fill="#7E2F8E"/>
<rect x="513.99" y="517.25" width="8.6" height="4.3" rx="2.15" fill="#7E2F8E"/>
<line x1="536.42" y1="507.87" x2="549.02" y2="507.87" stroke="#7E2F8E" stroke-width="1.5"/>
<circle cx="543.52" cy="473.28" r="1.65" fill="none" stroke="#7E2F8E" stroke-width="1.1"/>
<rect x="539.22" y="482.66" width="8.6" height="4.3" rx="2.15" fill="#7E2F8E"/>
<rect x="539.22" y="494.19" width="8.6" height="4.3" rx="2.15" fill="#7E2F8E"/>
<rect x="539.22" y="517.25" width="8.6" height="4.3" rx="2.15" fill="#7E2F8E"/>
<line x1="561.65" y1="507.87" x2="574.25" y2="507.87" stroke="#7E2F8E" stroke-width="1.5"/>
<circle cx="568.75" cy="288.80" r="1.65" fill="none" stroke="#7E2F8E" stroke-width="1.1"/>
<circle cx="568.75" cy="461.75" r="1.65" fill="none" stroke="#7E2F8E" stroke-width="1.1"/>
<circle cx="568.75" cy="473.28" r="1.65" fill="none" stroke="#7E2F8E" stroke-width="1.1"/>
<rect x="564.45" y="482.66" width="8.6" height="4.3" rx="2.15" fill="#7E2F8E"/>
<rect x="564.45" y="494.19" width="8.6" height="4.3" rx="2.15" fill="#7E2F8E"/>
<rect x="564.45" y="517.25" width="8.6" height="4.3" rx="2.15" fill="#7E2F8E"/>
<polyline points="88.58,480.43 113.81,462.90 139.04,445.15 164.27,425.20 189.50,408.14 214.73,401.22 239.96,410.44 265.19,440.42 290.42,473.63 315.65,489.42 340.88,499.80 366.11,502.91 391.34,504.99 416.57,504.99 441.80,504.99 467.03,505.91 492.26,506.26 517.49,506.49 542.72,506.72 567.95,506.72" fill="none" stroke="#7E2F8E" stroke-width="2" stroke-linejoin="round"/>
<circle cx="88.58" cy="480.43" r="3.7" fill="#7E2F8E"/>
<circle cx="113.81" cy="462.90" r="3.7" fill="#7E2F8E"/>
<circle cx="139.04" cy="445.15" r="3.7" fill="#7E2F8E"/>
<circle cx="164.27" cy="425.20" r="3.7" fill="#7E2F8E"/>
<circle cx="189.50" cy="408.14" r="3.7" fill="#7E2F8E"/>
<circle cx="214.73" cy="401.22" r="3.7" fill="#7E2F8E"/>
<circle cx="239.96" cy="410.44" r="3.7" fill="#7E2F8E"/>
<circle cx="265.19" cy="440.42" r="3.7" fill="#7E2F8E"/>
<circle cx="290.42" cy="473.63" r="3.7" fill="#7E2F8E"/>
<circle cx="315.65" cy="489.42" r="3.7" fill="#7E2F8E"/>
<circle cx="340.88" cy="499.80" r="3.7" fill="#7E2F8E"/>
<circle cx="366.11" cy="502.91" r="3.7" fill="#7E2F8E"/>
<circle cx="391.34" cy="504.99" r="3.7" fill="#7E2F8E"/>
<circle cx="416.57" cy="504.99" r="3.7" fill="#7E2F8E"/>
<circle cx="441.80" cy="504.99" r="3.7" fill="#7E2F8E"/>
<circle cx="467.03" cy="505.91" r="3.7" fill="#7E2F8E"/>
<circle cx="492.26" cy="506.26" r="3.7" fill="#7E2F8E"/>
<circle cx="517.49" cy="506.49" r="3.7" fill="#7E2F8E"/>
<circle cx="542.72" cy="506.72" r="3.7" fill="#7E2F8E"/>
<circle cx="567.95" cy="506.72" r="3.7" fill="#7E2F8E"/>
<text x="328.2" y="566.9" font-family='"Liberation Sans", sans-serif' font-size="19" text-anchor="middle" fill="#262626">Period <tspan font-style="italic">T</tspan></text>
<text transform="translate(44.9,404) rotate(-90)" x="0" y="0" font-family='"Liberation Sans", sans-serif' font-size="18.5" text-anchor="middle" fill="#262626">Maximum polymer length (nt)</text>
<line x1="194.6" y1="270.5" x2="258.8" y2="270.5" stroke="#000" stroke-width="2"/>
<line x1="194.6" y1="265.3" x2="194.6" y2="276" stroke="#000" stroke-width="2"/>
<line x1="258.8" y1="265.3" x2="258.8" y2="276" stroke="#000" stroke-width="2"/>
<circle cx="234.3" cy="270.5" r="4.4" fill="#000"/>
<text x="216.8" y="254.8" font-family='"Liberation Sans", sans-serif' font-size="16" fill="#000">&#8249;</text>
<text x="224.2" y="255.6" font-family='"Liberation Sans", sans-serif' font-size="17" fill="#000">t</text>
<text x="230.2" y="260.6" font-family='"Liberation Sans", sans-serif' font-size="12" fill="#000">20</text>
<text x="245.4" y="254.8" font-family='"Liberation Sans", sans-serif' font-size="16" fill="#000">&#8250;</text>
<rect x="591.0" y="372.3" width="65.6" height="42.1" fill="#fff" stroke="#555" stroke-width="1"/>
<rect x="602.9" y="376.6" width="28.6" height="14.6" fill="rgba(119,172,48,0.30)" stroke="#77AC30" stroke-width="1.5"/>
<rect x="602.9" y="396.2" width="28.6" height="14.2" fill="rgba(126,47,142,0.30)" stroke="#7E2F8E" stroke-width="1.5"/>
<text x="633.60" y="389.90" font-family='"Liberation Sans", sans-serif' font-size="16" text-anchor="start" fill="#000" font-weight="normal" font-style="normal" >C</text>
<text x="633.60" y="409.40" font-family='"Liberation Sans", sans-serif' font-size="16" text-anchor="start" fill="#000" font-weight="normal" font-style="normal" >R</text>
<text x="-0.20" y="603.40" font-family='"Liberation Sans", sans-serif' font-size="23" text-anchor="start" fill="#000" font-weight="normal" font-style="normal" >C</text>
<line x1="78.2" y1="813.52" x2="602.9" y2="813.52" stroke="#e6e6e6" stroke-width="1"/>
<line x1="78.2" y1="759.24" x2="602.9" y2="759.24" stroke="#e6e6e6" stroke-width="1"/>
<line x1="78.2" y1="704.96" x2="602.9" y2="704.96" stroke="#e6e6e6" stroke-width="1"/>
<line x1="78.2" y1="650.68" x2="602.9" y2="650.68" stroke="#e6e6e6" stroke-width="1"/>
<line x1="78.2" y1="596.40" x2="602.9" y2="596.40" stroke="#e6e6e6" stroke-width="1"/>
<line x1="78.2" y1="596.2" x2="78.2" y2="868.0" stroke="#262626" stroke-width="1"/>
<line x1="78.2" y1="868.0" x2="106.6" y2="868.0" stroke="#4a4a4a" stroke-width="1.2"/>
<line x1="114.8" y1="868.0" x2="602.9" y2="868.0" stroke="#4a4a4a" stroke-width="1.2"/>
<line x1="109.8" y1="850" x2="105.1" y2="875.6" stroke="#262626" stroke-width="1.1"/>
<line x1="118.5" y1="850" x2="113.9" y2="875.6" stroke="#262626" stroke-width="1.1"/>
<line x1="78.2" y1="867.80" x2="83.9" y2="867.80" stroke="#262626" stroke-width="1"/>
<text x="72.90" y="873.40" font-family='"Liberation Sans", sans-serif' font-size="15.6" text-anchor="end" fill="#262626" font-weight="normal" font-style="normal" >0</text>
<line x1="78.2" y1="813.52" x2="83.9" y2="813.52" stroke="#262626" stroke-width="1"/>
<text x="72.90" y="819.12" font-family='"Liberation Sans", sans-serif' font-size="15.6" text-anchor="end" fill="#262626" font-weight="normal" font-style="normal" >4</text>
<line x1="78.2" y1="759.24" x2="83.9" y2="759.24" stroke="#262626" stroke-width="1"/>
<text x="72.90" y="764.84" font-family='"Liberation Sans", sans-serif' font-size="15.6" text-anchor="end" fill="#262626" font-weight="normal" font-style="normal" >8</text>
<line x1="78.2" y1="704.96" x2="83.9" y2="704.96" stroke="#262626" stroke-width="1"/>
<text x="72.90" y="710.56" font-family='"Liberation Sans", sans-serif' font-size="15.6" text-anchor="end" fill="#262626" font-weight="normal" font-style="normal" >12</text>
<line x1="78.2" y1="650.68" x2="83.9" y2="650.68" stroke="#262626" stroke-width="1"/>
<text x="72.90" y="656.28" font-family='"Liberation Sans", sans-serif' font-size="15.6" text-anchor="end" fill="#262626" font-weight="normal" font-style="normal" >16</text>
<line x1="78.2" y1="596.40" x2="83.9" y2="596.40" stroke="#262626" stroke-width="1"/>
<text x="72.90" y="602.00" font-family='"Liberation Sans", sans-serif' font-size="15.6" text-anchor="end" fill="#262626" font-weight="normal" font-style="normal" >20</text>
<line x1="97.40" y1="868.0" x2="97.40" y2="862.5" stroke="#262626" stroke-width="1"/>
<text x="97.40" y="887.30" font-family='"Liberation Sans", sans-serif' font-size="15.6" text-anchor="middle" fill="#262626" font-weight="normal" font-style="normal" >0</text>
<line x1="126.00" y1="868.0" x2="126.00" y2="862.5" stroke="#262626" stroke-width="1"/>
<text x="111.40" y="892.0" font-family='"Liberation Sans", sans-serif' font-size="15.6" fill="#262626">10</text>
<text x="129.40" y="885.0" font-family='"Liberation Sans", sans-serif' font-size="12.5" fill="#262626">-6</text>
<line x1="211.90" y1="868.0" x2="211.90" y2="862.5" stroke="#262626" stroke-width="1"/>
<text x="197.30" y="892.0" font-family='"Liberation Sans", sans-serif' font-size="15.6" fill="#262626">10</text>
<text x="215.30" y="885.0" font-family='"Liberation Sans", sans-serif' font-size="12.5" fill="#262626">-5</text>
<line x1="307.30" y1="868.0" x2="307.30" y2="862.5" stroke="#262626" stroke-width="1"/>
<text x="292.70" y="892.0" font-family='"Liberation Sans", sans-serif' font-size="15.6" fill="#262626">10</text>
<text x="310.70" y="885.0" font-family='"Liberation Sans", sans-serif' font-size="12.5" fill="#262626">-4</text>
<line x1="402.70" y1="868.0" x2="402.70" y2="862.5" stroke="#262626" stroke-width="1"/>
<text x="388.10" y="892.0" font-family='"Liberation Sans", sans-serif' font-size="15.6" fill="#262626">10</text>
<text x="406.10" y="885.0" font-family='"Liberation Sans", sans-serif' font-size="12.5" fill="#262626">-3</text>
<line x1="498.10" y1="868.0" x2="498.10" y2="862.5" stroke="#262626" stroke-width="1"/>
<text x="483.50" y="892.0" font-family='"Liberation Sans", sans-serif' font-size="15.6" fill="#262626">10</text>
<text x="501.50" y="885.0" font-family='"Liberation Sans", sans-serif' font-size="12.5" fill="#262626">-2</text>
<line x1="593.50" y1="868.0" x2="593.50" y2="862.5" stroke="#262626" stroke-width="1"/>
<text x="578.90" y="892.0" font-family='"Liberation Sans", sans-serif' font-size="15.6" fill="#262626">10</text>
<text x="596.90" y="885.0" font-family='"Liberation Sans", sans-serif' font-size="12.5" fill="#262626">-1</text>
<line x1="97.40" y1="704.96" x2="97.40" y2="609.97" stroke="#7E2F8E" stroke-width="1.0"/>
<line x1="95.90" y1="609.97" x2="98.90" y2="609.97" stroke="#7E2F8E" stroke-width="1.0"/>
<line x1="97.40" y1="772.81" x2="97.40" y2="827.09" stroke="#7E2F8E" stroke-width="1.0"/>
<line x1="95.90" y1="827.09" x2="98.90" y2="827.09" stroke="#7E2F8E" stroke-width="1.0"/>
<rect x="94.70" y="704.96" width="5.4" height="67.85" fill="rgba(126,47,142,0.30)" stroke="#7E2F8E" stroke-width="1.0"/>
<line x1="94.70" y1="745.67" x2="100.10" y2="745.67" stroke="#7E2F8E" stroke-width="1.0"/>
<circle cx="97.40" cy="596.40" r="1.15" fill="none" stroke="#7E2F8E" stroke-width="0.9"/>
<circle cx="97.4" cy="736.85" r="1.7" fill="#7E2F8E"/>
<line x1="126.00" y1="718.53" x2="126.00" y2="637.11" stroke="#7E2F8E" stroke-width="1.0"/>
<line x1="124.50" y1="637.11" x2="127.50" y2="637.11" stroke="#7E2F8E" stroke-width="1.0"/>
<line x1="126.00" y1="772.81" x2="126.00" y2="840.66" stroke="#7E2F8E" stroke-width="1.0"/>
<line x1="124.50" y1="840.66" x2="127.50" y2="840.66" stroke="#7E2F8E" stroke-width="1.0"/>
<rect x="123.30" y="718.53" width="5.4" height="54.28" fill="rgba(126,47,142,0.30)" stroke="#7E2F8E" stroke-width="1.0"/>
<line x1="123.30" y1="745.67" x2="128.70" y2="745.67" stroke="#7E2F8E" stroke-width="1.0"/>
<rect x="123.60" y="594.90" width="4.8" height="3.0" rx="1.5" fill="#7E2F8E"/>
<ellipse cx="126.00" cy="609.97" rx="1.7" ry="1.4" fill="#7E2F8E"/>
<ellipse cx="126.00" cy="623.54" rx="1.7" ry="1.4" fill="#7E2F8E"/>
<line x1="135.54" y1="704.96" x2="135.54" y2="609.97" stroke="#7E2F8E" stroke-width="1.0"/>
<line x1="134.04" y1="609.97" x2="137.04" y2="609.97" stroke="#7E2F8E" stroke-width="1.0"/>
<line x1="135.54" y1="772.81" x2="135.54" y2="854.23" stroke="#7E2F8E" stroke-width="1.0"/>
<line x1="134.04" y1="854.23" x2="137.04" y2="854.23" stroke="#7E2F8E" stroke-width="1.0"/>
<rect x="132.84" y="704.96" width="5.4" height="67.85" fill="rgba(126,47,142,0.30)" stroke="#7E2F8E" stroke-width="1.0"/>
<line x1="132.84" y1="745.67" x2="138.24" y2="745.67" stroke="#7E2F8E" stroke-width="1.0"/>
<ellipse cx="135.54" cy="596.40" rx="1.7" ry="1.4" fill="#7E2F8E"/>
<line x1="145.08" y1="704.96" x2="145.08" y2="609.97" stroke="#7E2F8E" stroke-width="1.0"/>
<line x1="143.58" y1="609.97" x2="146.58" y2="609.97" stroke="#7E2F8E" stroke-width="1.0"/>
<line x1="145.08" y1="772.81" x2="145.08" y2="854.23" stroke="#7E2F8E" stroke-width="1.0"/>
<line x1="143.58" y1="854.23" x2="146.58" y2="854.23" stroke="#7E2F8E" stroke-width="1.0"/>
<rect x="142.38" y="704.96" width="5.4" height="67.85" fill="rgba(126,47,142,0.30)" stroke="#7E2F8E" stroke-width="1.0"/>
<circle cx="145.08" cy="596.40" r="1.15" fill="none" stroke="#7E2F8E" stroke-width="0.9"/>
<line x1="154.62" y1="704.96" x2="154.62" y2="609.97" stroke="#7E2F8E" stroke-width="1.0"/>
<line x1="153.12" y1="609.97" x2="156.12" y2="609.97" stroke="#7E2F8E" stroke-width="1.0"/>
<line x1="154.62" y1="772.81" x2="154.62" y2="840.66" stroke="#7E2F8E" stroke-width="1.0"/>
<line x1="153.12" y1="840.66" x2="156.12" y2="840.66" stroke="#7E2F8E" stroke-width="1.0"/>
<rect x="151.92" y="704.96" width="5.4" height="67.85" fill="rgba(126,47,142,0.30)" stroke="#7E2F8E" stroke-width="1.0"/>
<rect x="152.22" y="594.90" width="4.8" height="3.0" rx="1.5" fill="#7E2F8E"/>
<line x1="164.16" y1="704.96" x2="164.16" y2="609.97" stroke="#7E2F8E" stroke-width="1.0"/>
<line x1="162.66" y1="609.97" x2="165.66" y2="609.97" stroke="#7E2F8E" stroke-width="1.0"/>
<line x1="164.16" y1="772.81" x2="164.16" y2="854.23" stroke="#7E2F8E" stroke-width="1.0"/>
<line x1="162.66" y1="854.23" x2="165.66" y2="854.23" stroke="#7E2F8E" stroke-width="1.0"/>
<rect x="161.46" y="704.96" width="5.4" height="67.85" fill="rgba(126,47,142,0.30)" stroke="#7E2F8E" stroke-width="1.0"/>
<line x1="161.46" y1="745.67" x2="166.86" y2="745.67" stroke="#7E2F8E" stroke-width="1.0"/>
<line x1="173.70" y1="704.96" x2="173.70" y2="609.97" stroke="#7E2F8E" stroke-width="1.0"/>
<line x1="172.20" y1="609.97" x2="175.20" y2="609.97" stroke="#7E2F8E" stroke-width="1.0"/>
<line x1="173.70" y1="772.81" x2="173.70" y2="827.09" stroke="#7E2F8E" stroke-width="1.0"/>
<line x1="172.20" y1="827.09" x2="175.20" y2="827.09" stroke="#7E2F8E" stroke-width="1.0"/>
<rect x="171.00" y="704.96" width="5.4" height="67.85" fill="rgba(126,47,142,0.30)" stroke="#7E2F8E" stroke-width="1.0"/>
<line x1="171.00" y1="745.67" x2="176.40" y2="745.67" stroke="#7E2F8E" stroke-width="1.0"/>
<circle cx="173.70" cy="596.40" r="1.15" fill="none" stroke="#7E2F8E" stroke-width="0.9"/>
<line x1="183.25" y1="704.96" x2="183.25" y2="609.97" stroke="#7E2F8E" stroke-width="1.0"/>
<line x1="181.75" y1="609.97" x2="184.75" y2="609.97" stroke="#7E2F8E" stroke-width="1.0"/>
<line x1="183.25" y1="772.81" x2="183.25" y2="854.23" stroke="#7E2F8E" stroke-width="1.0"/>
<line x1="181.75" y1="854.23" x2="184.75" y2="854.23" stroke="#7E2F8E" stroke-width="1.0"/>
<rect x="180.55" y="704.96" width="5.4" height="67.85" fill="rgba(126,47,142,0.30)" stroke="#7E2F8E" stroke-width="1.0"/>
<line x1="180.55" y1="745.67" x2="185.95" y2="745.67" stroke="#7E2F8E" stroke-width="1.0"/>
<circle cx="183.25" cy="596.40" r="1.15" fill="none" stroke="#7E2F8E" stroke-width="0.9"/>
<line x1="192.79" y1="704.96" x2="192.79" y2="609.97" stroke="#7E2F8E" stroke-width="1.0"/>
<line x1="191.29" y1="609.97" x2="194.29" y2="609.97" stroke="#7E2F8E" stroke-width="1.0"/>
<line x1="192.79" y1="772.81" x2="192.79" y2="840.66" stroke="#7E2F8E" stroke-width="1.0"/>
<line x1="191.29" y1="840.66" x2="194.29" y2="840.66" stroke="#7E2F8E" stroke-width="1.0"/>
<rect x="190.09" y="704.96" width="5.4" height="67.85" fill="rgba(126,47,142,0.30)" stroke="#7E2F8E" stroke-width="1.0"/>
<line x1="190.09" y1="745.67" x2="195.49" y2="745.67" stroke="#7E2F8E" stroke-width="1.0"/>
<rect x="190.39" y="594.90" width="4.8" height="3.0" rx="1.5" fill="#7E2F8E"/>
<line x1="202.33" y1="704.96" x2="202.33" y2="623.54" stroke="#7E2F8E" stroke-width="1.0"/>
<line x1="200.83" y1="623.54" x2="203.83" y2="623.54" stroke="#7E2F8E" stroke-width="1.0"/>
<line x1="202.33" y1="772.81" x2="202.33" y2="854.23" stroke="#7E2F8E" stroke-width="1.0"/>
<line x1="200.83" y1="854.23" x2="203.83" y2="854.23" stroke="#7E2F8E" stroke-width="1.0"/>
<rect x="199.63" y="704.96" width="5.4" height="67.85" fill="rgba(126,47,142,0.30)" stroke="#7E2F8E" stroke-width="1.0"/>
<line x1="199.63" y1="745.67" x2="205.03" y2="745.67" stroke="#7E2F8E" stroke-width="1.0"/>
<rect x="199.93" y="594.90" width="4.8" height="3.0" rx="1.5" fill="#7E2F8E"/>
<line x1="211.87" y1="704.96" x2="211.87" y2="609.97" stroke="#7E2F8E" stroke-width="1.0"/>
<line x1="210.37" y1="609.97" x2="213.37" y2="609.97" stroke="#7E2F8E" stroke-width="1.0"/>
<line x1="211.87" y1="772.81" x2="211.87" y2="840.66" stroke="#7E2F8E" stroke-width="1.0"/>
<line x1="210.37" y1="840.66" x2="213.37" y2="840.66" stroke="#7E2F8E" stroke-width="1.0"/>
<rect x="209.17" y="704.96" width="5.4" height="67.85" fill="rgba(126,47,142,0.30)" stroke="#7E2F8E" stroke-width="1.0"/>
<line x1="209.17" y1="745.67" x2="214.57" y2="745.67" stroke="#7E2F8E" stroke-width="1.0"/>
<ellipse cx="211.87" cy="596.40" rx="1.7" ry="1.4" fill="#7E2F8E"/>
<line x1="221.41" y1="718.53" x2="221.41" y2="637.11" stroke="#7E2F8E" stroke-width="1.0"/>
<line x1="219.91" y1="637.11" x2="222.91" y2="637.11" stroke="#7E2F8E" stroke-width="1.0"/>
<line x1="221.41" y1="772.81" x2="221.41" y2="827.09" stroke="#7E2F8E" stroke-width="1.0"/>
<line x1="219.91" y1="827.09" x2="222.91" y2="827.09" stroke="#7E2F8E" stroke-width="1.0"/>
<rect x="218.71" y="718.53" width="5.4" height="54.28" fill="rgba(126,47,142,0.30)" stroke="#7E2F8E" stroke-width="1.0"/>
<line x1="218.71" y1="745.67" x2="224.11" y2="745.67" stroke="#7E2F8E" stroke-width="1.0"/>
<circle cx="220.41" cy="596.40" r="1.15" fill="none" stroke="#7E2F8E" stroke-width="0.9"/>
<circle cx="222.41" cy="596.40" r="1.15" fill="none" stroke="#7E2F8E" stroke-width="0.9"/>
<circle cx="221.41" cy="609.97" r="1.15" fill="none" stroke="#7E2F8E" stroke-width="0.9"/>
<ellipse cx="221.41" cy="623.54" rx="1.7" ry="1.4" fill="#7E2F8E"/>
<line x1="230.95" y1="704.96" x2="230.95" y2="609.97" stroke="#7E2F8E" stroke-width="1.0"/>
<line x1="229.45" y1="609.97" x2="232.45" y2="609.97" stroke="#7E2F8E" stroke-width="1.0"/>
<line x1="230.95" y1="772.81" x2="230.95" y2="840.66" stroke="#7E2F8E" stroke-width="1.0"/>
<line x1="229.45" y1="840.66" x2="232.45" y2="840.66" stroke="#7E2F8E" stroke-width="1.0"/>
<rect x="228.25" y="704.96" width="5.4" height="67.85" fill="rgba(126,47,142,0.30)" stroke="#7E2F8E" stroke-width="1.0"/>
<line x1="228.25" y1="745.67" x2="233.65" y2="745.67" stroke="#7E2F8E" stroke-width="1.0"/>
<rect x="228.55" y="594.90" width="4.8" height="3.0" rx="1.5" fill="#7E2F8E"/>
<line x1="240.49" y1="718.53" x2="240.49" y2="637.11" stroke="#7E2F8E" stroke-width="1.0"/>
<line x1="238.99" y1="637.11" x2="241.99" y2="637.11" stroke="#7E2F8E" stroke-width="1.0"/>
<line x1="240.49" y1="772.81" x2="240.49" y2="827.09" stroke="#7E2F8E" stroke-width="1.0"/>
<line x1="238.99" y1="827.09" x2="241.99" y2="827.09" stroke="#7E2F8E" stroke-width="1.0"/>
<rect x="237.79" y="718.53" width="5.4" height="54.28" fill="rgba(126,47,142,0.30)" stroke="#7E2F8E" stroke-width="1.0"/>
<line x1="237.79" y1="745.67" x2="243.19" y2="745.67" stroke="#7E2F8E" stroke-width="1.0"/>
<ellipse cx="240.49" cy="596.40" rx="1.7" ry="1.4" fill="#7E2F8E"/>
<rect x="238.09" y="608.47" width="4.8" height="3.0" rx="1.5" fill="#7E2F8E"/>
<ellipse cx="240.49" cy="623.54" rx="1.7" ry="1.4" fill="#7E2F8E"/>
<line x1="250.03" y1="704.96" x2="250.03" y2="609.97" stroke="#7E2F8E" stroke-width="1.0"/>
<line x1="248.53" y1="609.97" x2="251.53" y2="609.97" stroke="#7E2F8E" stroke-width="1.0"/>
<line x1="250.03" y1="772.81" x2="250.03" y2="827.09" stroke="#7E2F8E" stroke-width="1.0"/>
<line x1="248.53" y1="827.09" x2="251.53" y2="827.09" stroke="#7E2F8E" stroke-width="1.0"/>
<rect x="247.33" y="704.96" width="5.4" height="67.85" fill="rgba(126,47,142,0.30)" stroke="#7E2F8E" stroke-width="1.0"/>
<line x1="247.33" y1="745.67" x2="252.73" y2="745.67" stroke="#7E2F8E" stroke-width="1.0"/>
<circle cx="250.03" cy="596.40" r="1.15" fill="none" stroke="#7E2F8E" stroke-width="0.9"/>
<line x1="259.57" y1="704.96" x2="259.57" y2="609.97" stroke="#7E2F8E" stroke-width="1.0"/>
<line x1="258.07" y1="609.97" x2="261.07" y2="609.97" stroke="#7E2F8E" stroke-width="1.0"/>
<line x1="259.57" y1="772.81" x2="259.57" y2="840.66" stroke="#7E2F8E" stroke-width="1.0"/>
<line x1="258.07" y1="840.66" x2="261.07" y2="840.66" stroke="#7E2F8E" stroke-width="1.0"/>
<rect x="256.87" y="704.96" width="5.4" height="67.85" fill="rgba(126,47,142,0.30)" stroke="#7E2F8E" stroke-width="1.0"/>
<line x1="256.87" y1="745.67" x2="262.27" y2="745.67" stroke="#7E2F8E" stroke-width="1.0"/>
<ellipse cx="259.57" cy="596.40" rx="1.7" ry="1.4" fill="#7E2F8E"/>
<line x1="269.12" y1="704.96" x2="269.12" y2="609.97" stroke="#7E2F8E" stroke-width="1.0"/>
<line x1="267.62" y1="609.97" x2="270.62" y2="609.97" stroke="#7E2F8E" stroke-width="1.0"/>
<line x1="269.12" y1="772.81" x2="269.12" y2="827.09" stroke="#7E2F8E" stroke-width="1.0"/>
<line x1="267.62" y1="827.09" x2="270.62" y2="827.09" stroke="#7E2F8E" stroke-width="1.0"/>
<rect x="266.42" y="704.96" width="5.4" height="67.85" fill="rgba(126,47,142,0.30)" stroke="#7E2F8E" stroke-width="1.0"/>
<line x1="266.42" y1="745.67" x2="271.81" y2="745.67" stroke="#7E2F8E" stroke-width="1.0"/>
<circle cx="269.12" cy="596.40" r="1.15" fill="none" stroke="#7E2F8E" stroke-width="0.9"/>
<line x1="278.66" y1="704.96" x2="278.66" y2="609.97" stroke="#7E2F8E" stroke-width="1.0"/>
<line x1="277.16" y1="609.97" x2="280.16" y2="609.97" stroke="#7E2F8E" stroke-width="1.0"/>
<line x1="278.66" y1="772.81" x2="278.66" y2="854.23" stroke="#7E2F8E" stroke-width="1.0"/>
<line x1="277.16" y1="854.23" x2="280.16" y2="854.23" stroke="#7E2F8E" stroke-width="1.0"/>
<rect x="275.96" y="704.96" width="5.4" height="67.85" fill="rgba(126,47,142,0.30)" stroke="#7E2F8E" stroke-width="1.0"/>
<line x1="275.96" y1="745.67" x2="281.36" y2="745.67" stroke="#7E2F8E" stroke-width="1.0"/>
<rect x="276.26" y="594.90" width="4.8" height="3.0" rx="1.5" fill="#7E2F8E"/>
<line x1="288.20" y1="704.96" x2="288.20" y2="609.97" stroke="#7E2F8E" stroke-width="1.0"/>
<line x1="286.70" y1="609.97" x2="289.70" y2="609.97" stroke="#7E2F8E" stroke-width="1.0"/>
<line x1="288.20" y1="772.81" x2="288.20" y2="840.66" stroke="#7E2F8E" stroke-width="1.0"/>
<line x1="286.70" y1="840.66" x2="289.70" y2="840.66" stroke="#7E2F8E" stroke-width="1.0"/>
<rect x="285.50" y="704.96" width="5.4" height="67.85" fill="rgba(126,47,142,0.30)" stroke="#7E2F8E" stroke-width="1.0"/>
<line x1="285.50" y1="745.67" x2="290.90" y2="745.67" stroke="#7E2F8E" stroke-width="1.0"/>
<circle cx="288.20" cy="596.40" r="1.15" fill="none" stroke="#7E2F8E" stroke-width="0.9"/>
<line x1="297.74" y1="704.96" x2="297.74" y2="609.97" stroke="#7E2F8E" stroke-width="1.0"/>
<line x1="296.24" y1="609.97" x2="299.24" y2="609.97" stroke="#7E2F8E" stroke-width="1.0"/>
<line x1="297.74" y1="772.81" x2="297.74" y2="854.23" stroke="#7E2F8E" stroke-width="1.0"/>
<line x1="296.24" y1="854.23" x2="299.24" y2="854.23" stroke="#7E2F8E" stroke-width="1.0"/>
<rect x="295.04" y="704.96" width="5.4" height="67.85" fill="rgba(126,47,142,0.30)" stroke="#7E2F8E" stroke-width="1.0"/>
<line x1="295.04" y1="745.67" x2="300.44" y2="745.67" stroke="#7E2F8E" stroke-width="1.0"/>
<rect x="295.34" y="594.90" width="4.8" height="3.0" rx="1.5" fill="#7E2F8E"/>
<line x1="307.28" y1="704.96" x2="307.28" y2="609.97" stroke="#7E2F8E" stroke-width="1.0"/>
<line x1="305.78" y1="609.97" x2="308.78" y2="609.97" stroke="#7E2F8E" stroke-width="1.0"/>
<line x1="307.28" y1="772.81" x2="307.28" y2="827.09" stroke="#7E2F8E" stroke-width="1.0"/>
<line x1="305.78" y1="827.09" x2="308.78" y2="827.09" stroke="#7E2F8E" stroke-width="1.0"/>
<rect x="304.58" y="704.96" width="5.4" height="67.85" fill="rgba(126,47,142,0.30)" stroke="#7E2F8E" stroke-width="1.0"/>
<rect x="304.88" y="594.90" width="4.8" height="3.0" rx="1.5" fill="#7E2F8E"/>
<line x1="316.82" y1="704.96" x2="316.82" y2="609.97" stroke="#7E2F8E" stroke-width="1.0"/>
<line x1="315.32" y1="609.97" x2="318.32" y2="609.97" stroke="#7E2F8E" stroke-width="1.0"/>
<line x1="316.82" y1="772.81" x2="316.82" y2="854.23" stroke="#7E2F8E" stroke-width="1.0"/>
<line x1="315.32" y1="854.23" x2="318.32" y2="854.23" stroke="#7E2F8E" stroke-width="1.0"/>
<rect x="314.12" y="704.96" width="5.4" height="67.85" fill="rgba(126,47,142,0.30)" stroke="#7E2F8E" stroke-width="1.0"/>
<line x1="314.12" y1="745.67" x2="319.52" y2="745.67" stroke="#7E2F8E" stroke-width="1.0"/>
<ellipse cx="316.82" cy="596.40" rx="1.7" ry="1.4" fill="#7E2F8E"/>
<line x1="326.36" y1="704.96" x2="326.36" y2="609.97" stroke="#7E2F8E" stroke-width="1.0"/>
<line x1="324.86" y1="609.97" x2="327.86" y2="609.97" stroke="#7E2F8E" stroke-width="1.0"/>
<line x1="326.36" y1="772.81" x2="326.36" y2="840.66" stroke="#7E2F8E" stroke-width="1.0"/>
<line x1="324.86" y1="840.66" x2="327.86" y2="840.66" stroke="#7E2F8E" stroke-width="1.0"/>
<rect x="323.66" y="704.96" width="5.4" height="67.85" fill="rgba(126,47,142,0.30)" stroke="#7E2F8E" stroke-width="1.0"/>
<line x1="323.66" y1="745.67" x2="329.06" y2="745.67" stroke="#7E2F8E" stroke-width="1.0"/>
<rect x="323.96" y="594.90" width="4.8" height="3.0" rx="1.5" fill="#7E2F8E"/>
<line x1="335.90" y1="704.96" x2="335.90" y2="596.40" stroke="#7E2F8E" stroke-width="1.0"/>
<line x1="334.40" y1="596.40" x2="337.40" y2="596.40" stroke="#7E2F8E" stroke-width="1.0"/>
<line x1="335.90" y1="786.38" x2="335.90" y2="854.23" stroke="#7E2F8E" stroke-width="1.0"/>
<line x1="334.40" y1="854.23" x2="337.40" y2="854.23" stroke="#7E2F8E" stroke-width="1.0"/>
<rect x="333.20" y="704.96" width="5.4" height="81.42" fill="rgba(126,47,142,0.30)" stroke="#7E2F8E" stroke-width="1.0"/>
<line x1="345.44" y1="718.53" x2="345.44" y2="623.54" stroke="#7E2F8E" stroke-width="1.0"/>
<line x1="343.94" y1="623.54" x2="346.94" y2="623.54" stroke="#7E2F8E" stroke-width="1.0"/>
<line x1="345.44" y1="786.38" x2="345.44" y2="854.23" stroke="#7E2F8E" stroke-width="1.0"/>
<line x1="343.94" y1="854.23" x2="346.94" y2="854.23" stroke="#7E2F8E" stroke-width="1.0"/>
<rect x="342.74" y="718.53" width="5.4" height="67.85" fill="rgba(126,47,142,0.30)" stroke="#7E2F8E" stroke-width="1.0"/>
<circle cx="344.44" cy="596.40" r="1.15" fill="none" stroke="#7E2F8E" stroke-width="0.9"/>
<circle cx="346.44" cy="596.40" r="1.15" fill="none" stroke="#7E2F8E" stroke-width="0.9"/>
<circle cx="345.44" cy="609.97" r="1.15" fill="none" stroke="#7E2F8E" stroke-width="0.9"/>
<line x1="354.98" y1="704.96" x2="354.98" y2="596.40" stroke="#7E2F8E" stroke-width="1.0"/>
<line x1="353.48" y1="596.40" x2="356.48" y2="596.40" stroke="#7E2F8E" stroke-width="1.0"/>
<line x1="354.98" y1="786.38" x2="354.98" y2="854.23" stroke="#7E2F8E" stroke-width="1.0"/>
<line x1="353.48" y1="854.23" x2="356.48" y2="854.23" stroke="#7E2F8E" stroke-width="1.0"/>
<rect x="352.28" y="704.96" width="5.4" height="81.42" fill="rgba(126,47,142,0.30)" stroke="#7E2F8E" stroke-width="1.0"/>
<line x1="364.52" y1="718.53" x2="364.52" y2="609.97" stroke="#7E2F8E" stroke-width="1.0"/>
<line x1="363.02" y1="609.97" x2="366.02" y2="609.97" stroke="#7E2F8E" stroke-width="1.0"/>
<line x1="364.52" y1="793.16" x2="364.52" y2="854.23" stroke="#7E2F8E" stroke-width="1.0"/>
<line x1="363.02" y1="854.23" x2="366.02" y2="854.23" stroke="#7E2F8E" stroke-width="1.0"/>
<rect x="361.82" y="718.53" width="5.4" height="74.63" fill="rgba(126,47,142,0.30)" stroke="#7E2F8E" stroke-width="1.0"/>
<line x1="361.82" y1="759.24" x2="367.22" y2="759.24" stroke="#7E2F8E" stroke-width="1.0"/>
<rect x="362.12" y="594.90" width="4.8" height="3.0" rx="1.5" fill="#7E2F8E"/>
<line x1="374.07" y1="718.53" x2="374.07" y2="596.40" stroke="#7E2F8E" stroke-width="1.0"/>
<line x1="372.57" y1="596.40" x2="375.57" y2="596.40" stroke="#7E2F8E" stroke-width="1.0"/>
<line x1="374.07" y1="799.95" x2="374.07" y2="854.23" stroke="#7E2F8E" stroke-width="1.0"/>
<line x1="372.57" y1="854.23" x2="375.57" y2="854.23" stroke="#7E2F8E" stroke-width="1.0"/>
<rect x="371.37" y="718.53" width="5.4" height="81.42" fill="rgba(126,47,142,0.30)" stroke="#7E2F8E" stroke-width="1.0"/>
<line x1="383.61" y1="718.53" x2="383.61" y2="596.40" stroke="#7E2F8E" stroke-width="1.0"/>
<line x1="382.11" y1="596.40" x2="385.11" y2="596.40" stroke="#7E2F8E" stroke-width="1.0"/>
<line x1="383.61" y1="813.52" x2="383.61" y2="854.23" stroke="#7E2F8E" stroke-width="1.0"/>
<line x1="382.11" y1="854.23" x2="385.11" y2="854.23" stroke="#7E2F8E" stroke-width="1.0"/>
<rect x="380.91" y="718.53" width="5.4" height="94.99" fill="rgba(126,47,142,0.30)" stroke="#7E2F8E" stroke-width="1.0"/>
<line x1="380.91" y1="772.81" x2="386.31" y2="772.81" stroke="#7E2F8E" stroke-width="1.0"/>
<line x1="393.15" y1="732.10" x2="393.15" y2="609.97" stroke="#7E2F8E" stroke-width="1.0"/>
<line x1="391.65" y1="609.97" x2="394.65" y2="609.97" stroke="#7E2F8E" stroke-width="1.0"/>
<line x1="393.15" y1="813.52" x2="393.15" y2="854.23" stroke="#7E2F8E" stroke-width="1.0"/>
<line x1="391.65" y1="854.23" x2="394.65" y2="854.23" stroke="#7E2F8E" stroke-width="1.0"/>
<rect x="390.45" y="732.10" width="5.4" height="81.42" fill="rgba(126,47,142,0.30)" stroke="#7E2F8E" stroke-width="1.0"/>
<line x1="390.45" y1="772.81" x2="395.85" y2="772.81" stroke="#7E2F8E" stroke-width="1.0"/>
<rect x="390.75" y="594.90" width="4.8" height="3.0" rx="1.5" fill="#7E2F8E"/>
<line x1="402.69" y1="732.10" x2="402.69" y2="596.40" stroke="#7E2F8E" stroke-width="1.0"/>
<line x1="401.19" y1="596.40" x2="404.19" y2="596.40" stroke="#7E2F8E" stroke-width="1.0"/>
<line x1="402.69" y1="827.09" x2="402.69" y2="854.23" stroke="#7E2F8E" stroke-width="1.0"/>
<line x1="401.19" y1="854.23" x2="404.19" y2="854.23" stroke="#7E2F8E" stroke-width="1.0"/>
<rect x="399.99" y="732.10" width="5.4" height="94.99" fill="rgba(126,47,142,0.30)" stroke="#7E2F8E" stroke-width="1.0"/>
<line x1="399.99" y1="786.38" x2="405.39" y2="786.38" stroke="#7E2F8E" stroke-width="1.0"/>
<line x1="412.23" y1="732.10" x2="412.23" y2="596.40" stroke="#7E2F8E" stroke-width="1.0"/>
<line x1="410.73" y1="596.40" x2="413.73" y2="596.40" stroke="#7E2F8E" stroke-width="1.0"/>
<line x1="412.23" y1="840.66" x2="412.23" y2="867.80" stroke="#7E2F8E" stroke-width="1.0"/>
<line x1="410.73" y1="867.80" x2="413.73" y2="867.80" stroke="#7E2F8E" stroke-width="1.0"/>
<rect x="409.53" y="732.10" width="5.4" height="108.56" fill="rgba(126,47,142,0.30)" stroke="#7E2F8E" stroke-width="1.0"/>
<line x1="409.53" y1="799.95" x2="414.93" y2="799.95" stroke="#7E2F8E" stroke-width="1.0"/>
<line x1="421.77" y1="745.67" x2="421.77" y2="596.40" stroke="#7E2F8E" stroke-width="1.0"/>
<line x1="420.27" y1="596.40" x2="423.27" y2="596.40" stroke="#7E2F8E" stroke-width="1.0"/>
<line x1="421.77" y1="854.23" x2="421.77" y2="867.80" stroke="#7E2F8E" stroke-width="1.0"/>
<line x1="420.27" y1="867.80" x2="423.27" y2="867.80" stroke="#7E2F8E" stroke-width="1.0"/>
<rect x="419.07" y="745.67" width="5.4" height="108.56" fill="rgba(126,47,142,0.30)" stroke="#7E2F8E" stroke-width="1.0"/>
<line x1="419.07" y1="827.09" x2="424.47" y2="827.09" stroke="#7E2F8E" stroke-width="1.0"/>
<line x1="431.31" y1="759.24" x2="431.31" y2="623.54" stroke="#7E2F8E" stroke-width="1.0"/>
<line x1="429.81" y1="623.54" x2="432.81" y2="623.54" stroke="#7E2F8E" stroke-width="1.0"/>
<line x1="431.31" y1="854.23" x2="431.31" y2="867.80" stroke="#7E2F8E" stroke-width="1.0"/>
<line x1="429.81" y1="867.80" x2="432.81" y2="867.80" stroke="#7E2F8E" stroke-width="1.0"/>
<rect x="428.61" y="759.24" width="5.4" height="94.99" fill="rgba(126,47,142,0.30)" stroke="#7E2F8E" stroke-width="1.0"/>
<line x1="428.61" y1="840.66" x2="434.01" y2="840.66" stroke="#7E2F8E" stroke-width="1.0"/>
<circle cx="431.31" cy="596.40" r="1.15" fill="none" stroke="#7E2F8E" stroke-width="0.9"/>
<line x1="440.85" y1="786.38" x2="440.85" y2="691.39" stroke="#7E2F8E" stroke-width="1.0"/>
<line x1="439.35" y1="691.39" x2="442.35" y2="691.39" stroke="#7E2F8E" stroke-width="1.0"/>
<line x1="440.85" y1="854.23" x2="440.85" y2="867.80" stroke="#7E2F8E" stroke-width="1.0"/>
<line x1="439.35" y1="867.80" x2="442.35" y2="867.80" stroke="#7E2F8E" stroke-width="1.0"/>
<rect x="438.15" y="786.38" width="5.4" height="67.85" fill="rgba(126,47,142,0.30)" stroke="#7E2F8E" stroke-width="1.0"/>
<rect x="438.45" y="594.90" width="4.8" height="3.0" rx="1.5" fill="#7E2F8E"/>
<ellipse cx="440.85" cy="609.97" rx="1.7" ry="1.4" fill="#7E2F8E"/>
<rect x="438.45" y="635.61" width="4.8" height="3.0" rx="1.5" fill="#7E2F8E"/>
<rect x="438.45" y="649.18" width="4.8" height="3.0" rx="1.5" fill="#7E2F8E"/>
<rect x="438.45" y="662.75" width="4.8" height="3.0" rx="1.5" fill="#7E2F8E"/>
<rect x="438.45" y="676.32" width="4.8" height="3.0" rx="1.5" fill="#7E2F8E"/>
<line x1="450.39" y1="786.38" x2="450.39" y2="691.39" stroke="#7E2F8E" stroke-width="1.0"/>
<line x1="448.89" y1="691.39" x2="451.89" y2="691.39" stroke="#7E2F8E" stroke-width="1.0"/>
<line x1="450.39" y1="854.23" x2="450.39" y2="867.80" stroke="#7E2F8E" stroke-width="1.0"/>
<line x1="448.89" y1="867.80" x2="451.89" y2="867.80" stroke="#7E2F8E" stroke-width="1.0"/>
<rect x="447.69" y="786.38" width="5.4" height="67.85" fill="rgba(126,47,142,0.30)" stroke="#7E2F8E" stroke-width="1.0"/>
<circle cx="450.39" cy="596.40" r="1.15" fill="none" stroke="#7E2F8E" stroke-width="0.9"/>
<circle cx="449.39" cy="609.97" r="1.15" fill="none" stroke="#7E2F8E" stroke-width="0.9"/>
<circle cx="451.39" cy="609.97" r="1.15" fill="none" stroke="#7E2F8E" stroke-width="0.9"/>
<ellipse cx="450.39" cy="623.54" rx="1.7" ry="1.4" fill="#7E2F8E"/>
<ellipse cx="450.39" cy="637.11" rx="1.7" ry="1.4" fill="#7E2F8E"/>
<rect x="447.99" y="649.18" width="4.8" height="3.0" rx="1.5" fill="#7E2F8E"/>
<circle cx="449.39" cy="664.25" r="1.15" fill="none" stroke="#7E2F8E" stroke-width="0.9"/>
<circle cx="451.39" cy="664.25" r="1.15" fill="none" stroke="#7E2F8E" stroke-width="0.9"/>
<rect x="447.99" y="676.32" width="4.8" height="3.0" rx="1.5" fill="#7E2F8E"/>
<line x1="457.24" y1="854.23" x2="462.63" y2="854.23" stroke="#7E2F8E" stroke-width="1.0"/>
<circle cx="459.94" cy="596.40" r="1.15" fill="none" stroke="#7E2F8E" stroke-width="0.9"/>
<ellipse cx="459.94" cy="623.54" rx="1.7" ry="1.4" fill="#7E2F8E"/>
<circle cx="459.94" cy="637.11" r="1.15" fill="none" stroke="#7E2F8E" stroke-width="0.9"/>
<rect x="457.54" y="649.18" width="4.8" height="3.0" rx="1.5" fill="#7E2F8E"/>
<ellipse cx="459.94" cy="664.25" rx="1.7" ry="1.4" fill="#7E2F8E"/>
<ellipse cx="459.94" cy="677.82" rx="1.7" ry="1.4" fill="#7E2F8E"/>
<circle cx="459.94" cy="691.39" r="1.15" fill="none" stroke="#7E2F8E" stroke-width="0.9"/>
<rect x="457.54" y="703.46" width="4.8" height="3.0" rx="1.5" fill="#7E2F8E"/>
<ellipse cx="459.94" cy="718.53" rx="1.7" ry="1.4" fill="#7E2F8E"/>
<ellipse cx="459.94" cy="732.10" rx="1.7" ry="1.4" fill="#7E2F8E"/>
<rect x="457.54" y="744.17" width="4.8" height="3.0" rx="1.5" fill="#7E2F8E"/>
<rect x="457.54" y="757.74" width="4.8" height="3.0" rx="1.5" fill="#7E2F8E"/>
<rect x="457.54" y="771.31" width="4.8" height="3.0" rx="1.5" fill="#7E2F8E"/>
<rect x="457.54" y="784.88" width="4.8" height="3.0" rx="1.5" fill="#7E2F8E"/>
<rect x="457.54" y="798.45" width="4.8" height="3.0" rx="1.5" fill="#7E2F8E"/>
<rect x="457.54" y="812.02" width="4.8" height="3.0" rx="1.5" fill="#7E2F8E"/>
<rect x="457.54" y="825.59" width="4.8" height="3.0" rx="1.5" fill="#7E2F8E"/>
<rect x="457.54" y="839.16" width="4.8" height="3.0" rx="1.5" fill="#7E2F8E"/>
<rect x="457.54" y="866.30" width="4.8" height="3.0" rx="1.5" fill="#7E2F8E"/>
<line x1="466.78" y1="854.23" x2="472.18" y2="854.23" stroke="#7E2F8E" stroke-width="1.0"/>
<rect x="467.08" y="594.90" width="4.8" height="3.0" rx="1.5" fill="#7E2F8E"/>
<circle cx="469.48" cy="609.97" r="1.15" fill="none" stroke="#7E2F8E" stroke-width="0.9"/>
<circle cx="468.48" cy="623.54" r="1.15" fill="none" stroke="#7E2F8E" stroke-width="0.9"/>
<circle cx="470.48" cy="623.54" r="1.15" fill="none" stroke="#7E2F8E" stroke-width="0.9"/>
<rect x="467.08" y="635.61" width="4.8" height="3.0" rx="1.5" fill="#7E2F8E"/>
<circle cx="468.48" cy="650.68" r="1.15" fill="none" stroke="#7E2F8E" stroke-width="0.9"/>
<circle cx="470.48" cy="650.68" r="1.15" fill="none" stroke="#7E2F8E" stroke-width="0.9"/>
<rect x="467.08" y="662.75" width="4.8" height="3.0" rx="1.5" fill="#7E2F8E"/>
<ellipse cx="469.48" cy="677.82" rx="1.7" ry="1.4" fill="#7E2F8E"/>
<ellipse cx="469.48" cy="691.39" rx="1.7" ry="1.4" fill="#7E2F8E"/>
<rect x="467.08" y="703.46" width="4.8" height="3.0" rx="1.5" fill="#7E2F8E"/>
<rect x="467.08" y="717.03" width="4.8" height="3.0" rx="1.5" fill="#7E2F8E"/>
<rect x="467.08" y="730.60" width="4.8" height="3.0" rx="1.5" fill="#7E2F8E"/>
<rect x="467.08" y="744.17" width="4.8" height="3.0" rx="1.5" fill="#7E2F8E"/>
<circle cx="468.48" cy="759.24" r="1.15" fill="none" stroke="#7E2F8E" stroke-width="0.9"/>
<circle cx="470.48" cy="759.24" r="1.15" fill="none" stroke="#7E2F8E" stroke-width="0.9"/>
<rect x="467.08" y="771.31" width="4.8" height="3.0" rx="1.5" fill="#7E2F8E"/>
<rect x="467.08" y="784.88" width="4.8" height="3.0" rx="1.5" fill="#7E2F8E"/>
<rect x="467.08" y="798.45" width="4.8" height="3.0" rx="1.5" fill="#7E2F8E"/>
<rect x="467.08" y="812.02" width="4.8" height="3.0" rx="1.5" fill="#7E2F8E"/>
<rect x="467.08" y="825.59" width="4.8" height="3.0" rx="1.5" fill="#7E2F8E"/>
<rect x="467.08" y="839.16" width="4.8" height="3.0" rx="1.5" fill="#7E2F8E"/>
<rect x="467.08" y="866.30" width="4.8" height="3.0" rx="1.5" fill="#7E2F8E"/>
<line x1="476.32" y1="854.23" x2="481.72" y2="854.23" stroke="#7E2F8E" stroke-width="1.0"/>
<ellipse cx="479.02" cy="596.40" rx="1.7" ry="1.4" fill="#7E2F8E"/>
<ellipse cx="479.02" cy="623.54" rx="1.7" ry="1.4" fill="#7E2F8E"/>
<circle cx="479.02" cy="637.11" r="1.15" fill="none" stroke="#7E2F8E" stroke-width="0.9"/>
<rect x="476.62" y="649.18" width="4.8" height="3.0" rx="1.5" fill="#7E2F8E"/>
<rect x="476.62" y="662.75" width="4.8" height="3.0" rx="1.5" fill="#7E2F8E"/>
<ellipse cx="479.02" cy="677.82" rx="1.7" ry="1.4" fill="#7E2F8E"/>
<rect x="476.62" y="689.89" width="4.8" height="3.0" rx="1.5" fill="#7E2F8E"/>
<rect x="476.62" y="703.46" width="4.8" height="3.0" rx="1.5" fill="#7E2F8E"/>
<rect x="476.62" y="717.03" width="4.8" height="3.0" rx="1.5" fill="#7E2F8E"/>
<rect x="476.62" y="730.60" width="4.8" height="3.0" rx="1.5" fill="#7E2F8E"/>
<rect x="476.62" y="744.17" width="4.8" height="3.0" rx="1.5" fill="#7E2F8E"/>
<rect x="476.62" y="757.74" width="4.8" height="3.0" rx="1.5" fill="#7E2F8E"/>
<rect x="476.62" y="771.31" width="4.8" height="3.0" rx="1.5" fill="#7E2F8E"/>
<ellipse cx="479.02" cy="786.38" rx="1.7" ry="1.4" fill="#7E2F8E"/>
<rect x="476.62" y="798.45" width="4.8" height="3.0" rx="1.5" fill="#7E2F8E"/>
<rect x="476.62" y="812.02" width="4.8" height="3.0" rx="1.5" fill="#7E2F8E"/>
<rect x="476.62" y="825.59" width="4.8" height="3.0" rx="1.5" fill="#7E2F8E"/>
<rect x="476.62" y="839.16" width="4.8" height="3.0" rx="1.5" fill="#7E2F8E"/>
<rect x="476.62" y="866.30" width="4.8" height="3.0" rx="1.5" fill="#7E2F8E"/>
<line x1="485.86" y1="854.23" x2="491.26" y2="854.23" stroke="#7E2F8E" stroke-width="1.0"/>
<rect x="486.16" y="594.90" width="4.8" height="3.0" rx="1.5" fill="#7E2F8E"/>
<ellipse cx="488.56" cy="609.97" rx="1.7" ry="1.4" fill="#7E2F8E"/>
<rect x="486.16" y="622.04" width="4.8" height="3.0" rx="1.5" fill="#7E2F8E"/>
<rect x="486.16" y="635.61" width="4.8" height="3.0" rx="1.5" fill="#7E2F8E"/>
<circle cx="487.56" cy="650.68" r="1.15" fill="none" stroke="#7E2F8E" stroke-width="0.9"/>
<circle cx="489.56" cy="650.68" r="1.15" fill="none" stroke="#7E2F8E" stroke-width="0.9"/>
<circle cx="488.56" cy="664.25" r="1.15" fill="none" stroke="#7E2F8E" stroke-width="0.9"/>
<rect x="486.16" y="676.32" width="4.8" height="3.0" rx="1.5" fill="#7E2F8E"/>
<rect x="486.16" y="689.89" width="4.8" height="3.0" rx="1.5" fill="#7E2F8E"/>
<circle cx="488.56" cy="704.96" r="1.15" fill="none" stroke="#7E2F8E" stroke-width="0.9"/>
<rect x="486.16" y="717.03" width="4.8" height="3.0" rx="1.5" fill="#7E2F8E"/>
<ellipse cx="488.56" cy="732.10" rx="1.7" ry="1.4" fill="#7E2F8E"/>
<rect x="486.16" y="744.17" width="4.8" height="3.0" rx="1.5" fill="#7E2F8E"/>
<ellipse cx="488.56" cy="759.24" rx="1.7" ry="1.4" fill="#7E2F8E"/>
<rect x="486.16" y="771.31" width="4.8" height="3.0" rx="1.5" fill="#7E2F8E"/>
<rect x="486.16" y="784.88" width="4.8" height="3.0" rx="1.5" fill="#7E2F8E"/>
<rect x="486.16" y="798.45" width="4.8" height="3.0" rx="1.5" fill="#7E2F8E"/>
<circle cx="488.56" cy="813.52" r="1.15" fill="none" stroke="#7E2F8E" stroke-width="0.9"/>
<circle cx="487.56" cy="827.09" r="1.15" fill="none" stroke="#7E2F8E" stroke-width="0.9"/>
<circle cx="489.56" cy="827.09" r="1.15" fill="none" stroke="#7E2F8E" stroke-width="0.9"/>
<rect x="486.16" y="839.16" width="4.8" height="3.0" rx="1.5" fill="#7E2F8E"/>
<rect x="486.16" y="866.30" width="4.8" height="3.0" rx="1.5" fill="#7E2F8E"/>
<line x1="495.40" y1="854.23" x2="500.80" y2="854.23" stroke="#7E2F8E" stroke-width="1.0"/>
<rect x="495.70" y="608.47" width="4.8" height="3.0" rx="1.5" fill="#7E2F8E"/>
<circle cx="498.10" cy="623.54" r="1.15" fill="none" stroke="#7E2F8E" stroke-width="0.9"/>
<circle cx="497.10" cy="637.11" r="1.15" fill="none" stroke="#7E2F8E" stroke-width="0.9"/>
<circle cx="499.10" cy="637.11" r="1.15" fill="none" stroke="#7E2F8E" stroke-width="0.9"/>
<circle cx="498.10" cy="650.68" r="1.15" fill="none" stroke="#7E2F8E" stroke-width="0.9"/>
<circle cx="498.10" cy="664.25" r="1.15" fill="none" stroke="#7E2F8E" stroke-width="0.9"/>
<circle cx="497.10" cy="677.82" r="1.15" fill="none" stroke="#7E2F8E" stroke-width="0.9"/>
<circle cx="499.10" cy="677.82" r="1.15" fill="none" stroke="#7E2F8E" stroke-width="0.9"/>
<rect x="495.70" y="689.89" width="4.8" height="3.0" rx="1.5" fill="#7E2F8E"/>
<rect x="495.70" y="703.46" width="4.8" height="3.0" rx="1.5" fill="#7E2F8E"/>
<ellipse cx="498.10" cy="718.53" rx="1.7" ry="1.4" fill="#7E2F8E"/>
<rect x="495.70" y="730.60" width="4.8" height="3.0" rx="1.5" fill="#7E2F8E"/>
<ellipse cx="498.10" cy="745.67" rx="1.7" ry="1.4" fill="#7E2F8E"/>
<ellipse cx="498.10" cy="759.24" rx="1.7" ry="1.4" fill="#7E2F8E"/>
<rect x="495.70" y="771.31" width="4.8" height="3.0" rx="1.5" fill="#7E2F8E"/>
<ellipse cx="498.10" cy="786.38" rx="1.7" ry="1.4" fill="#7E2F8E"/>
<rect x="495.70" y="798.45" width="4.8" height="3.0" rx="1.5" fill="#7E2F8E"/>
<rect x="495.70" y="812.02" width="4.8" height="3.0" rx="1.5" fill="#7E2F8E"/>
<rect x="495.70" y="825.59" width="4.8" height="3.0" rx="1.5" fill="#7E2F8E"/>
<rect x="495.70" y="839.16" width="4.8" height="3.0" rx="1.5" fill="#7E2F8E"/>
<rect x="495.70" y="866.30" width="4.8" height="3.0" rx="1.5" fill="#7E2F8E"/>
<line x1="504.94" y1="854.23" x2="510.34" y2="854.23" stroke="#7E2F8E" stroke-width="1.0"/>
<circle cx="507.64" cy="596.40" r="1.15" fill="none" stroke="#7E2F8E" stroke-width="0.9"/>
<ellipse cx="507.64" cy="609.97" rx="1.7" ry="1.4" fill="#7E2F8E"/>
<circle cx="507.64" cy="623.54" r="1.15" fill="none" stroke="#7E2F8E" stroke-width="0.9"/>
<circle cx="507.64" cy="637.11" r="1.15" fill="none" stroke="#7E2F8E" stroke-width="0.9"/>
<circle cx="507.64" cy="664.25" r="1.15" fill="none" stroke="#7E2F8E" stroke-width="0.9"/>
<circle cx="507.64" cy="677.82" r="1.15" fill="none" stroke="#7E2F8E" stroke-width="0.9"/>
<circle cx="507.64" cy="691.39" r="1.15" fill="none" stroke="#7E2F8E" stroke-width="0.9"/>
<rect x="505.24" y="703.46" width="4.8" height="3.0" rx="1.5" fill="#7E2F8E"/>
<ellipse cx="507.64" cy="732.10" rx="1.7" ry="1.4" fill="#7E2F8E"/>
<ellipse cx="507.64" cy="745.67" rx="1.7" ry="1.4" fill="#7E2F8E"/>
<rect x="505.24" y="757.74" width="4.8" height="3.0" rx="1.5" fill="#7E2F8E"/>
<circle cx="507.64" cy="772.81" r="1.15" fill="none" stroke="#7E2F8E" stroke-width="0.9"/>
<rect x="505.24" y="784.88" width="4.8" height="3.0" rx="1.5" fill="#7E2F8E"/>
<circle cx="507.64" cy="799.95" r="1.15" fill="none" stroke="#7E2F8E" stroke-width="0.9"/>
<rect x="505.24" y="825.59" width="4.8" height="3.0" rx="1.5" fill="#7E2F8E"/>
<ellipse cx="507.64" cy="840.66" rx="1.7" ry="1.4" fill="#7E2F8E"/>
<rect x="505.24" y="866.30" width="4.8" height="3.0" rx="1.5" fill="#7E2F8E"/>
<line x1="514.48" y1="854.23" x2="519.88" y2="854.23" stroke="#7E2F8E" stroke-width="1.0"/>
<circle cx="517.18" cy="596.40" r="1.15" fill="none" stroke="#7E2F8E" stroke-width="0.9"/>
<circle cx="517.18" cy="609.97" r="1.15" fill="none" stroke="#7E2F8E" stroke-width="0.9"/>
<circle cx="517.18" cy="664.25" r="1.15" fill="none" stroke="#7E2F8E" stroke-width="0.9"/>
<rect x="514.78" y="676.32" width="4.8" height="3.0" rx="1.5" fill="#7E2F8E"/>
<rect x="514.78" y="689.89" width="4.8" height="3.0" rx="1.5" fill="#7E2F8E"/>
<circle cx="516.18" cy="704.96" r="1.15" fill="none" stroke="#7E2F8E" stroke-width="0.9"/>
<circle cx="518.18" cy="704.96" r="1.15" fill="none" stroke="#7E2F8E" stroke-width="0.9"/>
<circle cx="517.18" cy="718.53" r="1.15" fill="none" stroke="#7E2F8E" stroke-width="0.9"/>
<circle cx="517.18" cy="732.10" r="1.15" fill="none" stroke="#7E2F8E" stroke-width="0.9"/>
<rect x="514.78" y="744.17" width="4.8" height="3.0" rx="1.5" fill="#7E2F8E"/>
<circle cx="516.18" cy="759.24" r="1.15" fill="none" stroke="#7E2F8E" stroke-width="0.9"/>
<circle cx="518.18" cy="759.24" r="1.15" fill="none" stroke="#7E2F8E" stroke-width="0.9"/>
<rect x="514.78" y="771.31" width="4.8" height="3.0" rx="1.5" fill="#7E2F8E"/>
<rect x="514.78" y="784.88" width="4.8" height="3.0" rx="1.5" fill="#7E2F8E"/>
<rect x="514.78" y="798.45" width="4.8" height="3.0" rx="1.5" fill="#7E2F8E"/>
<rect x="514.78" y="812.02" width="4.8" height="3.0" rx="1.5" fill="#7E2F8E"/>
<circle cx="517.18" cy="827.09" r="1.15" fill="none" stroke="#7E2F8E" stroke-width="0.9"/>
<rect x="514.78" y="839.16" width="4.8" height="3.0" rx="1.5" fill="#7E2F8E"/>
<rect x="514.78" y="866.30" width="4.8" height="3.0" rx="1.5" fill="#7E2F8E"/>
<line x1="524.02" y1="854.23" x2="529.42" y2="854.23" stroke="#7E2F8E" stroke-width="1.0"/>
<rect x="524.32" y="608.47" width="4.8" height="3.0" rx="1.5" fill="#7E2F8E"/>
<circle cx="526.72" cy="637.11" r="1.15" fill="none" stroke="#7E2F8E" stroke-width="0.9"/>
<ellipse cx="526.72" cy="650.68" rx="1.7" ry="1.4" fill="#7E2F8E"/>
<circle cx="526.72" cy="664.25" r="1.15" fill="none" stroke="#7E2F8E" stroke-width="0.9"/>
<rect x="524.32" y="689.89" width="4.8" height="3.0" rx="1.5" fill="#7E2F8E"/>
<ellipse cx="526.72" cy="718.53" rx="1.7" ry="1.4" fill="#7E2F8E"/>
<circle cx="526.72" cy="745.67" r="1.15" fill="none" stroke="#7E2F8E" stroke-width="0.9"/>
<rect x="524.32" y="757.74" width="4.8" height="3.0" rx="1.5" fill="#7E2F8E"/>
<ellipse cx="526.72" cy="772.81" rx="1.7" ry="1.4" fill="#7E2F8E"/>
<rect x="524.32" y="784.88" width="4.8" height="3.0" rx="1.5" fill="#7E2F8E"/>
<circle cx="526.72" cy="799.95" r="1.15" fill="none" stroke="#7E2F8E" stroke-width="0.9"/>
<rect x="524.32" y="812.02" width="4.8" height="3.0" rx="1.5" fill="#7E2F8E"/>
<rect x="524.32" y="825.59" width="4.8" height="3.0" rx="1.5" fill="#7E2F8E"/>
<circle cx="525.72" cy="840.66" r="1.15" fill="none" stroke="#7E2F8E" stroke-width="0.9"/>
<circle cx="527.72" cy="840.66" r="1.15" fill="none" stroke="#7E2F8E" stroke-width="0.9"/>
<rect x="524.32" y="866.30" width="4.8" height="3.0" rx="1.5" fill="#7E2F8E"/>
<line x1="533.56" y1="854.23" x2="538.96" y2="854.23" stroke="#7E2F8E" stroke-width="1.0"/>
<ellipse cx="536.26" cy="596.40" rx="1.7" ry="1.4" fill="#7E2F8E"/>
<circle cx="536.26" cy="650.68" r="1.15" fill="none" stroke="#7E2F8E" stroke-width="0.9"/>
<rect x="533.86" y="662.75" width="4.8" height="3.0" rx="1.5" fill="#7E2F8E"/>
<rect x="533.86" y="717.03" width="4.8" height="3.0" rx="1.5" fill="#7E2F8E"/>
<circle cx="536.26" cy="732.10" r="1.15" fill="none" stroke="#7E2F8E" stroke-width="0.9"/>
<ellipse cx="536.26" cy="759.24" rx="1.7" ry="1.4" fill="#7E2F8E"/>
<rect x="533.86" y="771.31" width="4.8" height="3.0" rx="1.5" fill="#7E2F8E"/>
<ellipse cx="536.26" cy="786.38" rx="1.7" ry="1.4" fill="#7E2F8E"/>
<rect x="533.86" y="798.45" width="4.8" height="3.0" rx="1.5" fill="#7E2F8E"/>
<ellipse cx="536.26" cy="813.52" rx="1.7" ry="1.4" fill="#7E2F8E"/>
<rect x="533.86" y="825.59" width="4.8" height="3.0" rx="1.5" fill="#7E2F8E"/>
<rect x="533.86" y="839.16" width="4.8" height="3.0" rx="1.5" fill="#7E2F8E"/>
<rect x="533.86" y="866.30" width="4.8" height="3.0" rx="1.5" fill="#7E2F8E"/>
<line x1="543.10" y1="854.23" x2="548.50" y2="854.23" stroke="#7E2F8E" stroke-width="1.0"/>
<circle cx="545.80" cy="596.40" r="1.15" fill="none" stroke="#7E2F8E" stroke-width="0.9"/>
<rect x="543.40" y="608.47" width="4.8" height="3.0" rx="1.5" fill="#7E2F8E"/>
<circle cx="545.80" cy="664.25" r="1.15" fill="none" stroke="#7E2F8E" stroke-width="0.9"/>
<ellipse cx="545.80" cy="677.82" rx="1.7" ry="1.4" fill="#7E2F8E"/>
<circle cx="545.80" cy="704.96" r="1.15" fill="none" stroke="#7E2F8E" stroke-width="0.9"/>
<circle cx="545.80" cy="718.53" r="1.15" fill="none" stroke="#7E2F8E" stroke-width="0.9"/>
<rect x="543.40" y="730.60" width="4.8" height="3.0" rx="1.5" fill="#7E2F8E"/>
<rect x="543.40" y="744.17" width="4.8" height="3.0" rx="1.5" fill="#7E2F8E"/>
<circle cx="544.80" cy="759.24" r="1.15" fill="none" stroke="#7E2F8E" stroke-width="0.9"/>
<circle cx="546.80" cy="759.24" r="1.15" fill="none" stroke="#7E2F8E" stroke-width="0.9"/>
<ellipse cx="545.80" cy="772.81" rx="1.7" ry="1.4" fill="#7E2F8E"/>
<circle cx="545.80" cy="786.38" r="1.15" fill="none" stroke="#7E2F8E" stroke-width="0.9"/>
<rect x="543.40" y="812.02" width="4.8" height="3.0" rx="1.5" fill="#7E2F8E"/>
<circle cx="545.80" cy="827.09" r="1.15" fill="none" stroke="#7E2F8E" stroke-width="0.9"/>
<rect x="543.40" y="839.16" width="4.8" height="3.0" rx="1.5" fill="#7E2F8E"/>
<rect x="543.40" y="866.30" width="4.8" height="3.0" rx="1.5" fill="#7E2F8E"/>
<line x1="552.64" y1="854.23" x2="558.05" y2="854.23" stroke="#7E2F8E" stroke-width="1.0"/>
<circle cx="555.35" cy="677.82" r="1.15" fill="none" stroke="#7E2F8E" stroke-width="0.9"/>
<circle cx="555.35" cy="691.39" r="1.15" fill="none" stroke="#7E2F8E" stroke-width="0.9"/>
<circle cx="555.35" cy="704.96" r="1.15" fill="none" stroke="#7E2F8E" stroke-width="0.9"/>
<rect x="552.95" y="717.03" width="4.8" height="3.0" rx="1.5" fill="#7E2F8E"/>
<ellipse cx="555.35" cy="745.67" rx="1.7" ry="1.4" fill="#7E2F8E"/>
<circle cx="555.35" cy="759.24" r="1.15" fill="none" stroke="#7E2F8E" stroke-width="0.9"/>
<circle cx="555.35" cy="772.81" r="1.15" fill="none" stroke="#7E2F8E" stroke-width="0.9"/>
<circle cx="555.35" cy="840.66" r="1.15" fill="none" stroke="#7E2F8E" stroke-width="0.9"/>
<rect x="552.95" y="866.30" width="4.8" height="3.0" rx="1.5" fill="#7E2F8E"/>
<line x1="562.19" y1="854.23" x2="567.59" y2="854.23" stroke="#7E2F8E" stroke-width="1.0"/>
<circle cx="564.89" cy="596.40" r="1.15" fill="none" stroke="#7E2F8E" stroke-width="0.9"/>
<circle cx="564.89" cy="623.54" r="1.15" fill="none" stroke="#7E2F8E" stroke-width="0.9"/>
<circle cx="564.89" cy="637.11" r="1.15" fill="none" stroke="#7E2F8E" stroke-width="0.9"/>
<circle cx="564.89" cy="650.68" r="1.15" fill="none" stroke="#7E2F8E" stroke-width="0.9"/>
<circle cx="564.89" cy="664.25" r="1.15" fill="none" stroke="#7E2F8E" stroke-width="0.9"/>
<circle cx="564.89" cy="677.82" r="1.15" fill="none" stroke="#7E2F8E" stroke-width="0.9"/>
<circle cx="564.89" cy="704.96" r="1.15" fill="none" stroke="#7E2F8E" stroke-width="0.9"/>
<rect x="562.49" y="730.60" width="4.8" height="3.0" rx="1.5" fill="#7E2F8E"/>
<ellipse cx="564.89" cy="745.67" rx="1.7" ry="1.4" fill="#7E2F8E"/>
<circle cx="564.89" cy="772.81" r="1.15" fill="none" stroke="#7E2F8E" stroke-width="0.9"/>
<circle cx="564.89" cy="799.95" r="1.15" fill="none" stroke="#7E2F8E" stroke-width="0.9"/>
<circle cx="564.89" cy="827.09" r="1.15" fill="none" stroke="#7E2F8E" stroke-width="0.9"/>
<circle cx="563.89" cy="840.66" r="1.15" fill="none" stroke="#7E2F8E" stroke-width="0.9"/>
<circle cx="565.89" cy="840.66" r="1.15" fill="none" stroke="#7E2F8E" stroke-width="0.9"/>
<rect x="562.49" y="866.30" width="4.8" height="3.0" rx="1.5" fill="#7E2F8E"/>
<line x1="571.73" y1="854.23" x2="577.13" y2="854.23" stroke="#7E2F8E" stroke-width="1.0"/>
<circle cx="574.43" cy="691.39" r="1.15" fill="none" stroke="#7E2F8E" stroke-width="0.9"/>
<circle cx="574.43" cy="718.53" r="1.15" fill="none" stroke="#7E2F8E" stroke-width="0.9"/>
<circle cx="574.43" cy="745.67" r="1.15" fill="none" stroke="#7E2F8E" stroke-width="0.9"/>
<rect x="572.03" y="784.88" width="4.8" height="3.0" rx="1.5" fill="#7E2F8E"/>
<ellipse cx="574.43" cy="813.52" rx="1.7" ry="1.4" fill="#7E2F8E"/>
<rect x="572.03" y="825.59" width="4.8" height="3.0" rx="1.5" fill="#7E2F8E"/>
<ellipse cx="574.43" cy="840.66" rx="1.7" ry="1.4" fill="#7E2F8E"/>
<rect x="572.03" y="866.30" width="4.8" height="3.0" rx="1.5" fill="#7E2F8E"/>
<line x1="581.27" y1="854.23" x2="586.67" y2="854.23" stroke="#7E2F8E" stroke-width="1.0"/>
<circle cx="583.97" cy="623.54" r="1.15" fill="none" stroke="#7E2F8E" stroke-width="0.9"/>
<circle cx="583.97" cy="691.39" r="1.15" fill="none" stroke="#7E2F8E" stroke-width="0.9"/>
<circle cx="583.97" cy="732.10" r="1.15" fill="none" stroke="#7E2F8E" stroke-width="0.9"/>
<ellipse cx="583.97" cy="745.67" rx="1.7" ry="1.4" fill="#7E2F8E"/>
<circle cx="583.97" cy="772.81" r="1.15" fill="none" stroke="#7E2F8E" stroke-width="0.9"/>
<ellipse cx="583.97" cy="786.38" rx="1.7" ry="1.4" fill="#7E2F8E"/>
<circle cx="583.97" cy="813.52" r="1.15" fill="none" stroke="#7E2F8E" stroke-width="0.9"/>
<circle cx="583.97" cy="827.09" r="1.15" fill="none" stroke="#7E2F8E" stroke-width="0.9"/>
<rect x="581.57" y="866.30" width="4.8" height="3.0" rx="1.5" fill="#7E2F8E"/>
<line x1="590.81" y1="854.23" x2="596.21" y2="854.23" stroke="#7E2F8E" stroke-width="1.0"/>
<circle cx="593.51" cy="664.25" r="1.15" fill="none" stroke="#7E2F8E" stroke-width="0.9"/>
<circle cx="593.51" cy="704.96" r="1.15" fill="none" stroke="#7E2F8E" stroke-width="0.9"/>
<circle cx="593.51" cy="718.53" r="1.15" fill="none" stroke="#7E2F8E" stroke-width="0.9"/>
<circle cx="593.51" cy="732.10" r="1.15" fill="none" stroke="#7E2F8E" stroke-width="0.9"/>
<circle cx="593.51" cy="745.67" r="1.15" fill="none" stroke="#7E2F8E" stroke-width="0.9"/>
<circle cx="593.51" cy="759.24" r="1.15" fill="none" stroke="#7E2F8E" stroke-width="0.9"/>
<circle cx="593.51" cy="786.38" r="1.15" fill="none" stroke="#7E2F8E" stroke-width="0.9"/>
<circle cx="593.51" cy="827.09" r="1.15" fill="none" stroke="#7E2F8E" stroke-width="0.9"/>
<circle cx="593.51" cy="840.66" r="1.15" fill="none" stroke="#7E2F8E" stroke-width="0.9"/>
<rect x="591.11" y="866.30" width="4.8" height="3.0" rx="1.5" fill="#7E2F8E"/>
<polyline points="126.00,737.53 135.54,734.81 145.08,731.42 154.62,731.15 164.16,735.49 173.70,737.53 183.25,734.54 192.79,733.05 202.33,738.88 211.87,736.85 221.41,740.38 230.95,737.26 240.49,740.38 250.03,737.26 259.57,734.14 269.12,734.54 278.66,735.76 288.20,736.17 297.74,737.26 307.28,733.46 316.82,736.85 326.36,738.48 335.90,745.40 345.44,747.03 354.98,744.31 364.52,751.10 374.07,760.60 383.61,762.36 393.15,765.21 402.69,774.98 412.23,783.67 421.77,793.16 431.31,804.56 440.85,812.16 450.39,816.78 459.94,831.70 469.48,830.89 479.02,836.32 488.56,837.27 498.10,840.39 507.64,847.58 517.18,848.67 526.72,849.62 536.26,850.97 545.80,849.75 555.35,852.74 564.89,851.24 574.43,853.69 583.97,854.09 593.51,853.28" fill="none" stroke="#7E2F8E" stroke-width="1.2" stroke-linejoin="round"/>
<circle cx="126.00" cy="737.53" r="1.7" fill="#7E2F8E"/>
<circle cx="135.54" cy="734.81" r="1.7" fill="#7E2F8E"/>
<circle cx="145.08" cy="731.42" r="1.7" fill="#7E2F8E"/>
<circle cx="154.62" cy="731.15" r="1.7" fill="#7E2F8E"/>
<circle cx="164.16" cy="735.49" r="1.7" fill="#7E2F8E"/>
<circle cx="173.70" cy="737.53" r="1.7" fill="#7E2F8E"/>
<circle cx="183.25" cy="734.54" r="1.7" fill="#7E2F8E"/>
<circle cx="192.79" cy="733.05" r="1.7" fill="#7E2F8E"/>
<circle cx="202.33" cy="738.88" r="1.7" fill="#7E2F8E"/>
<circle cx="211.87" cy="736.85" r="1.7" fill="#7E2F8E"/>
<circle cx="221.41" cy="740.38" r="1.7" fill="#7E2F8E"/>
<circle cx="230.95" cy="737.26" r="1.7" fill="#7E2F8E"/>
<circle cx="240.49" cy="740.38" r="1.7" fill="#7E2F8E"/>
<circle cx="250.03" cy="737.26" r="1.7" fill="#7E2F8E"/>
<circle cx="259.57" cy="734.14" r="1.7" fill="#7E2F8E"/>
<circle cx="269.12" cy="734.54" r="1.7" fill="#7E2F8E"/>
<circle cx="278.66" cy="735.76" r="1.7" fill="#7E2F8E"/>
<circle cx="288.20" cy="736.17" r="1.7" fill="#7E2F8E"/>
<circle cx="297.74" cy="737.26" r="1.7" fill="#7E2F8E"/>
<circle cx="307.28" cy="733.46" r="1.7" fill="#7E2F8E"/>
<circle cx="316.82" cy="736.85" r="1.7" fill="#7E2F8E"/>
<circle cx="326.36" cy="738.48" r="1.7" fill="#7E2F8E"/>
<circle cx="335.90" cy="745.40" r="1.7" fill="#7E2F8E"/>
<circle cx="345.44" cy="747.03" r="1.7" fill="#7E2F8E"/>
<circle cx="354.98" cy="744.31" r="1.7" fill="#7E2F8E"/>
<circle cx="364.52" cy="751.10" r="1.7" fill="#7E2F8E"/>
<circle cx="374.07" cy="760.60" r="1.7" fill="#7E2F8E"/>
<circle cx="383.61" cy="762.36" r="1.7" fill="#7E2F8E"/>
<circle cx="393.15" cy="765.21" r="1.7" fill="#7E2F8E"/>
<circle cx="402.69" cy="774.98" r="1.7" fill="#7E2F8E"/>
<circle cx="412.23" cy="783.67" r="1.7" fill="#7E2F8E"/>
<circle cx="421.77" cy="793.16" r="1.7" fill="#7E2F8E"/>
<circle cx="431.31" cy="804.56" r="1.7" fill="#7E2F8E"/>
<circle cx="440.85" cy="812.16" r="1.7" fill="#7E2F8E"/>
<circle cx="450.39" cy="816.78" r="1.7" fill="#7E2F8E"/>
<circle cx="459.94" cy="831.70" r="1.7" fill="#7E2F8E"/>
<circle cx="469.48" cy="830.89" r="1.7" fill="#7E2F8E"/>
<circle cx="479.02" cy="836.32" r="1.7" fill="#7E2F8E"/>
<circle cx="488.56" cy="837.27" r="1.7" fill="#7E2F8E"/>
<circle cx="498.10" cy="840.39" r="1.7" fill="#7E2F8E"/>
<circle cx="507.64" cy="847.58" r="1.7" fill="#7E2F8E"/>
<circle cx="517.18" cy="848.67" r="1.7" fill="#7E2F8E"/>
<circle cx="526.72" cy="849.62" r="1.7" fill="#7E2F8E"/>
<circle cx="536.26" cy="850.97" r="1.7" fill="#7E2F8E"/>
<circle cx="545.80" cy="849.75" r="1.7" fill="#7E2F8E"/>
<circle cx="555.35" cy="852.74" r="1.7" fill="#7E2F8E"/>
<circle cx="564.89" cy="851.24" r="1.7" fill="#7E2F8E"/>
<circle cx="574.43" cy="853.69" r="1.7" fill="#7E2F8E"/>
<circle cx="583.97" cy="854.09" r="1.7" fill="#7E2F8E"/>
<circle cx="593.51" cy="853.28" r="1.7" fill="#7E2F8E"/>
<text x="230.5" y="911.0" font-family='"Liberation Sans", sans-serif' font-size="15.2" fill="#262626" textLength="172" lengthAdjust="spacingAndGlyphs">Hydrolysis probability</text>
<text x="408.6" y="911.2" font-family='"Liberation Sans", sans-serif' font-size="15.6" font-style="italic" fill="#262626">P</text>
<text x="417.3" y="912.6" font-family='"Liberation Sans", sans-serif' font-size="10" fill="#262626" textLength="13.8" lengthAdjust="spacingAndGlyphs">hyd</text>
<text transform="translate(48.4,732) rotate(-90)" x="-125" y="0" font-family='"Liberation Sans", sans-serif' font-size="15.4" fill="#262626" textLength="250" lengthAdjust="spacingAndGlyphs">Maximum polymer length (nt)</text>
<rect x="605.2" y="739.1" width="46.9" height="23.4" fill="#fff" stroke="#555" stroke-width="1"/>
<rect x="608.1" y="743.2" width="27.7" height="15.4" fill="rgba(126,47,142,0.30)" stroke="#7E2F8E" stroke-width="1.2"/>
<text x="638.30" y="756.90" font-family='"Liberation Sans", sans-serif' font-size="16.3" text-anchor="start" fill="#000" font-weight="normal" font-style="normal" >R</text>
</svg></body></html>
